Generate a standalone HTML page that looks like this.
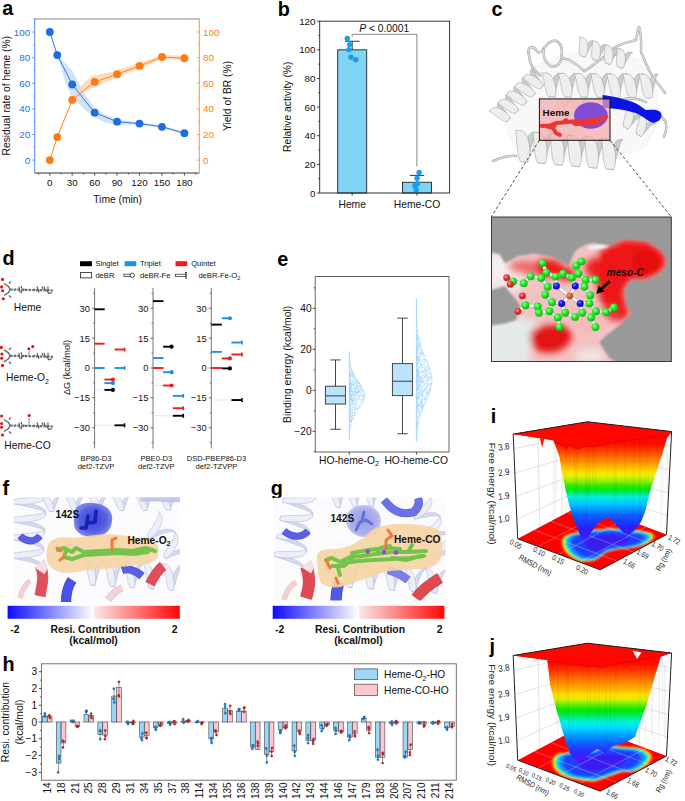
<!DOCTYPE html>
<html><head><meta charset="utf-8"><style>
html,body{margin:0;padding:0;background:#fff;}
svg{display:block;font-family:"Liberation Sans", sans-serif;}
</style></head><body>
<svg width="685" height="801" viewBox="0 0 685 801">
<text x="2.30" y="15.30" font-size="19.8" text-anchor="start" fill="#000" font-weight="bold">a</text>
<polygon points="49.80,32.00 57.28,53.78 64.76,62.74 72.23,70.43 83.45,92.21 94.67,107.58 105.88,115.27 117.10,119.75 139.54,122.31 161.97,125.51 184.40,131.92 184.40,134.48 161.97,128.07 139.54,124.87 117.10,124.87 105.88,122.95 94.67,117.19 83.45,108.86 71.49,96.05 64.76,80.68 61.02,66.59 57.28,56.34 49.80,32.00" fill="#c4d8f4" stroke="none" stroke-width="1" fill-opacity="0.75"/>
<polygon points="49.80,160.10 57.28,136.40 72.23,98.61 83.45,83.24 90.93,76.19 94.67,75.55 117.10,70.43 139.54,62.74 161.97,55.06 184.40,55.70 184.40,60.18 161.97,58.90 139.54,68.51 117.10,77.48 94.67,87.08 83.45,92.21 72.23,101.81 57.28,137.68 49.80,160.10" fill="#ffd2b0" stroke="none" stroke-width="1" fill-opacity="0.8"/>
<polyline points="49.80,32.00 57.28,55.06 72.23,84.52 94.67,112.70 117.10,121.67 139.54,123.59 161.97,126.79 184.40,133.20" fill="none" stroke="#1b6de0" stroke-width="0.9"/>
<polyline points="49.80,160.10 57.28,137.04 72.23,99.89 94.67,81.96 117.10,74.27 139.54,65.95 161.97,56.98 184.40,58.26" fill="none" stroke="#ff7a10" stroke-width="0.9"/>
<circle cx="49.80" cy="160.10" r="3.90" fill="#ff7a10" stroke="none" stroke-width="0.5"/>
<circle cx="57.28" cy="137.04" r="3.90" fill="#ff7a10" stroke="none" stroke-width="0.5"/>
<circle cx="72.23" cy="99.89" r="3.90" fill="#ff7a10" stroke="none" stroke-width="0.5"/>
<circle cx="94.67" cy="81.96" r="3.90" fill="#ff7a10" stroke="none" stroke-width="0.5"/>
<circle cx="117.10" cy="74.27" r="3.90" fill="#ff7a10" stroke="none" stroke-width="0.5"/>
<circle cx="139.54" cy="65.95" r="3.90" fill="#ff7a10" stroke="none" stroke-width="0.5"/>
<circle cx="161.97" cy="56.98" r="3.90" fill="#ff7a10" stroke="none" stroke-width="0.5"/>
<circle cx="184.40" cy="58.26" r="3.90" fill="#ff7a10" stroke="none" stroke-width="0.5"/>
<circle cx="49.80" cy="32.00" r="3.90" fill="#1b6de0" stroke="none" stroke-width="0.5"/>
<circle cx="57.28" cy="55.06" r="3.90" fill="#1b6de0" stroke="none" stroke-width="0.5"/>
<circle cx="72.23" cy="84.52" r="3.90" fill="#1b6de0" stroke="none" stroke-width="0.5"/>
<circle cx="94.67" cy="112.70" r="3.90" fill="#1b6de0" stroke="none" stroke-width="0.5"/>
<circle cx="117.10" cy="121.67" r="3.90" fill="#1b6de0" stroke="none" stroke-width="0.5"/>
<circle cx="139.54" cy="123.59" r="3.90" fill="#1b6de0" stroke="none" stroke-width="0.5"/>
<circle cx="161.97" cy="126.79" r="3.90" fill="#1b6de0" stroke="none" stroke-width="0.5"/>
<circle cx="184.40" cy="133.20" r="3.90" fill="#1b6de0" stroke="none" stroke-width="0.5"/>
<line x1="34.70" y1="19.00" x2="199.30" y2="19.00" stroke="#8a8a8a" stroke-width="1"/>
<line x1="34.70" y1="173.00" x2="199.30" y2="173.00" stroke="#333" stroke-width="1"/>
<line x1="34.70" y1="18.50" x2="34.70" y2="173.00" stroke="#5b95ea" stroke-width="1.1"/>
<line x1="199.30" y1="18.50" x2="199.30" y2="173.00" stroke="#ff9a4a" stroke-width="1.1"/>
<line x1="32.10" y1="160.10" x2="34.70" y2="160.10" stroke="#5b95ea" stroke-width="0.9"/>
<text x="30.20" y="163.60" font-size="9.8" text-anchor="end" fill="#2070e0" font-weight="normal">0</text>
<line x1="32.10" y1="134.48" x2="34.70" y2="134.48" stroke="#5b95ea" stroke-width="0.9"/>
<text x="30.20" y="137.98" font-size="9.8" text-anchor="end" fill="#2070e0" font-weight="normal">20</text>
<line x1="32.10" y1="108.86" x2="34.70" y2="108.86" stroke="#5b95ea" stroke-width="0.9"/>
<text x="30.20" y="112.36" font-size="9.8" text-anchor="end" fill="#2070e0" font-weight="normal">40</text>
<line x1="32.10" y1="83.24" x2="34.70" y2="83.24" stroke="#5b95ea" stroke-width="0.9"/>
<text x="30.20" y="86.74" font-size="9.8" text-anchor="end" fill="#2070e0" font-weight="normal">60</text>
<line x1="32.10" y1="57.62" x2="34.70" y2="57.62" stroke="#5b95ea" stroke-width="0.9"/>
<text x="30.20" y="61.12" font-size="9.8" text-anchor="end" fill="#2070e0" font-weight="normal">80</text>
<line x1="32.10" y1="32.00" x2="34.70" y2="32.00" stroke="#5b95ea" stroke-width="0.9"/>
<text x="30.20" y="35.50" font-size="9.8" text-anchor="end" fill="#2070e0" font-weight="normal">100</text>
<line x1="33.20" y1="147.29" x2="34.70" y2="147.29" stroke="#5b95ea" stroke-width="0.8"/>
<line x1="33.20" y1="121.67" x2="34.70" y2="121.67" stroke="#5b95ea" stroke-width="0.8"/>
<line x1="33.20" y1="96.05" x2="34.70" y2="96.05" stroke="#5b95ea" stroke-width="0.8"/>
<line x1="33.20" y1="70.43" x2="34.70" y2="70.43" stroke="#5b95ea" stroke-width="0.8"/>
<line x1="33.20" y1="44.81" x2="34.70" y2="44.81" stroke="#5b95ea" stroke-width="0.8"/>
<line x1="33.20" y1="19.19" x2="34.70" y2="19.19" stroke="#5b95ea" stroke-width="0.8"/>
<line x1="196.70" y1="160.10" x2="199.30" y2="160.10" stroke="#ff9a4a" stroke-width="0.9"/>
<text x="203.00" y="163.60" font-size="9.8" text-anchor="start" fill="#ff7a14" font-weight="normal">0</text>
<line x1="196.70" y1="134.48" x2="199.30" y2="134.48" stroke="#ff9a4a" stroke-width="0.9"/>
<text x="203.00" y="137.98" font-size="9.8" text-anchor="start" fill="#ff7a14" font-weight="normal">20</text>
<line x1="196.70" y1="108.86" x2="199.30" y2="108.86" stroke="#ff9a4a" stroke-width="0.9"/>
<text x="203.00" y="112.36" font-size="9.8" text-anchor="start" fill="#ff7a14" font-weight="normal">40</text>
<line x1="196.70" y1="83.24" x2="199.30" y2="83.24" stroke="#ff9a4a" stroke-width="0.9"/>
<text x="203.00" y="86.74" font-size="9.8" text-anchor="start" fill="#ff7a14" font-weight="normal">60</text>
<line x1="196.70" y1="57.62" x2="199.30" y2="57.62" stroke="#ff9a4a" stroke-width="0.9"/>
<text x="203.00" y="61.12" font-size="9.8" text-anchor="start" fill="#ff7a14" font-weight="normal">80</text>
<line x1="196.70" y1="32.00" x2="199.30" y2="32.00" stroke="#ff9a4a" stroke-width="0.9"/>
<text x="203.00" y="35.50" font-size="9.8" text-anchor="start" fill="#ff7a14" font-weight="normal">100</text>
<line x1="197.80" y1="147.29" x2="199.30" y2="147.29" stroke="#ff9a4a" stroke-width="0.8"/>
<line x1="197.80" y1="121.67" x2="199.30" y2="121.67" stroke="#ff9a4a" stroke-width="0.8"/>
<line x1="197.80" y1="96.05" x2="199.30" y2="96.05" stroke="#ff9a4a" stroke-width="0.8"/>
<line x1="197.80" y1="70.43" x2="199.30" y2="70.43" stroke="#ff9a4a" stroke-width="0.8"/>
<line x1="197.80" y1="44.81" x2="199.30" y2="44.81" stroke="#ff9a4a" stroke-width="0.8"/>
<line x1="197.80" y1="19.19" x2="199.30" y2="19.19" stroke="#ff9a4a" stroke-width="0.8"/>
<line x1="49.80" y1="173.00" x2="49.80" y2="175.60" stroke="#333" stroke-width="0.9"/>
<text x="49.80" y="186.40" font-size="9.8" text-anchor="middle" fill="#111" font-weight="normal">0</text>
<line x1="72.23" y1="173.00" x2="72.23" y2="175.60" stroke="#333" stroke-width="0.9"/>
<text x="72.23" y="186.40" font-size="9.8" text-anchor="middle" fill="#111" font-weight="normal">30</text>
<line x1="94.67" y1="173.00" x2="94.67" y2="175.60" stroke="#333" stroke-width="0.9"/>
<text x="94.67" y="186.40" font-size="9.8" text-anchor="middle" fill="#111" font-weight="normal">60</text>
<line x1="117.10" y1="173.00" x2="117.10" y2="175.60" stroke="#333" stroke-width="0.9"/>
<text x="117.10" y="186.40" font-size="9.8" text-anchor="middle" fill="#111" font-weight="normal">90</text>
<line x1="139.54" y1="173.00" x2="139.54" y2="175.60" stroke="#333" stroke-width="0.9"/>
<text x="139.54" y="186.40" font-size="9.8" text-anchor="middle" fill="#111" font-weight="normal">120</text>
<line x1="161.97" y1="173.00" x2="161.97" y2="175.60" stroke="#333" stroke-width="0.9"/>
<text x="161.97" y="186.40" font-size="9.8" text-anchor="middle" fill="#111" font-weight="normal">150</text>
<line x1="184.40" y1="173.00" x2="184.40" y2="175.60" stroke="#333" stroke-width="0.9"/>
<text x="184.40" y="186.40" font-size="9.8" text-anchor="middle" fill="#111" font-weight="normal">180</text>
<line x1="38.58" y1="173.00" x2="38.58" y2="174.60" stroke="#333" stroke-width="0.8"/>
<line x1="61.02" y1="173.00" x2="61.02" y2="174.60" stroke="#333" stroke-width="0.8"/>
<line x1="83.45" y1="173.00" x2="83.45" y2="174.60" stroke="#333" stroke-width="0.8"/>
<line x1="105.88" y1="173.00" x2="105.88" y2="174.60" stroke="#333" stroke-width="0.8"/>
<line x1="128.32" y1="173.00" x2="128.32" y2="174.60" stroke="#333" stroke-width="0.8"/>
<line x1="150.75" y1="173.00" x2="150.75" y2="174.60" stroke="#333" stroke-width="0.8"/>
<line x1="173.19" y1="173.00" x2="173.19" y2="174.60" stroke="#333" stroke-width="0.8"/>
<line x1="195.62" y1="173.00" x2="195.62" y2="174.60" stroke="#333" stroke-width="0.8"/>
<text x="117.60" y="202.60" font-size="10.3" text-anchor="middle" fill="#111" font-weight="normal">Time (min)</text>
<text x="10.30" y="95.70" font-size="10.3" text-anchor="middle" fill="#111" font-weight="normal" transform="rotate(-90 10.30 95.70)">Residual rate of heme (%)</text>
<text x="231.00" y="95.90" font-size="10.3" text-anchor="middle" fill="#111" font-weight="normal" transform="rotate(-90 231.00 95.90)">Yield of BR (%)</text>
<text x="277.80" y="16.30" font-size="19.8" text-anchor="start" fill="#000" font-weight="bold">b</text>
<rect x="337.70" y="49.83" width="29.00" height="143.17" fill="#80d5f7" stroke="#222" stroke-width="0.9"/>
<rect x="402.50" y="182.26" width="29.00" height="10.74" fill="#80d5f7" stroke="#222" stroke-width="0.9"/>
<line x1="352.20" y1="49.83" x2="352.20" y2="41.24" stroke="#222" stroke-width="0.9"/>
<line x1="345.00" y1="41.24" x2="359.60" y2="41.24" stroke="#222" stroke-width="0.9"/>
<line x1="417.00" y1="182.26" x2="417.00" y2="175.39" stroke="#222" stroke-width="0.9"/>
<line x1="409.80" y1="175.39" x2="424.20" y2="175.39" stroke="#222" stroke-width="0.9"/>
<circle cx="347.30" cy="38.50" r="2.70" fill="#1a9cf0" stroke="none" stroke-width="0.5"/>
<circle cx="349.70" cy="44.60" r="2.70" fill="#1a9cf0" stroke="none" stroke-width="0.5"/>
<circle cx="348.90" cy="49.80" r="2.70" fill="#1a9cf0" stroke="none" stroke-width="0.5"/>
<circle cx="350.90" cy="57.30" r="2.70" fill="#1a9cf0" stroke="none" stroke-width="0.5"/>
<circle cx="355.70" cy="59.70" r="2.70" fill="#1a9cf0" stroke="none" stroke-width="0.5"/>
<circle cx="419.10" cy="172.50" r="2.70" fill="#1a9cf0" stroke="none" stroke-width="0.5"/>
<circle cx="417.10" cy="178.30" r="2.70" fill="#1a9cf0" stroke="none" stroke-width="0.5"/>
<circle cx="417.40" cy="183.70" r="2.70" fill="#1a9cf0" stroke="none" stroke-width="0.5"/>
<circle cx="414.90" cy="185.70" r="2.70" fill="#1a9cf0" stroke="none" stroke-width="0.5"/>
<circle cx="416.20" cy="189.90" r="2.70" fill="#1a9cf0" stroke="none" stroke-width="0.5"/>
<path d="M352.2,36.6 L352.2,34.3 L416.9,34.3 L416.9,166.6" fill="none" stroke="#777" stroke-width="0.9"/>
<rect x="319.70" y="21.20" width="129.90" height="171.80" fill="none" stroke="#222" stroke-width="0.9"/>
<line x1="317.10" y1="193.00" x2="319.70" y2="193.00" stroke="#222" stroke-width="0.9"/>
<text x="315.50" y="196.50" font-size="9.8" text-anchor="end" fill="#111" font-weight="normal">0</text>
<line x1="317.10" y1="164.37" x2="319.70" y2="164.37" stroke="#222" stroke-width="0.9"/>
<text x="315.50" y="167.87" font-size="9.8" text-anchor="end" fill="#111" font-weight="normal">20</text>
<line x1="317.10" y1="135.73" x2="319.70" y2="135.73" stroke="#222" stroke-width="0.9"/>
<text x="315.50" y="139.23" font-size="9.8" text-anchor="end" fill="#111" font-weight="normal">40</text>
<line x1="317.10" y1="107.10" x2="319.70" y2="107.10" stroke="#222" stroke-width="0.9"/>
<text x="315.50" y="110.60" font-size="9.8" text-anchor="end" fill="#111" font-weight="normal">60</text>
<line x1="317.10" y1="78.47" x2="319.70" y2="78.47" stroke="#222" stroke-width="0.9"/>
<text x="315.50" y="81.97" font-size="9.8" text-anchor="end" fill="#111" font-weight="normal">80</text>
<line x1="317.10" y1="49.83" x2="319.70" y2="49.83" stroke="#222" stroke-width="0.9"/>
<text x="315.50" y="53.33" font-size="9.8" text-anchor="end" fill="#111" font-weight="normal">100</text>
<line x1="317.10" y1="21.20" x2="319.70" y2="21.20" stroke="#222" stroke-width="0.9"/>
<text x="315.50" y="24.70" font-size="9.8" text-anchor="end" fill="#111" font-weight="normal">120</text>
<line x1="318.20" y1="178.68" x2="319.70" y2="178.68" stroke="#222" stroke-width="0.8"/>
<line x1="318.20" y1="150.05" x2="319.70" y2="150.05" stroke="#222" stroke-width="0.8"/>
<line x1="318.20" y1="121.42" x2="319.70" y2="121.42" stroke="#222" stroke-width="0.8"/>
<line x1="318.20" y1="92.78" x2="319.70" y2="92.78" stroke="#222" stroke-width="0.8"/>
<line x1="318.20" y1="64.15" x2="319.70" y2="64.15" stroke="#222" stroke-width="0.8"/>
<line x1="318.20" y1="35.52" x2="319.70" y2="35.52" stroke="#222" stroke-width="0.8"/>
<line x1="352.20" y1="193.00" x2="352.20" y2="195.60" stroke="#222" stroke-width="0.9"/>
<line x1="417.00" y1="193.00" x2="417.00" y2="195.60" stroke="#222" stroke-width="0.9"/>
<text x="352.20" y="207.50" font-size="10.3" text-anchor="middle" fill="#111" font-weight="normal">Heme</text>
<text x="417.00" y="207.50" font-size="10.3" text-anchor="middle" fill="#111" font-weight="normal">Heme-CO</text>
<text x="384.2" y="32.0" font-size="10.3" text-anchor="middle" fill="#111"><tspan font-style="italic">P</tspan> &lt; 0.0001</text>
<text x="290.60" y="106.80" font-size="10.3" text-anchor="middle" fill="#111" font-weight="normal" transform="rotate(-90 290.60 106.80)">Relative activity (%)</text>
<text x="491.60" y="16.10" font-size="19.8" text-anchor="start" fill="#000" font-weight="bold">c</text>
<path d="M505,112 C508,85 530,62 560,55 C590,45 640,50 652,72 C662,95 662,130 645,148 C615,165 560,165 528,155 C510,148 503,130 505,112 Z" fill="#f8f8f8" stroke="none" stroke-width="1"/>
<path d="M528.8,53.6 C527,47 533,45 536,50 C538,54 541,53 544,48 C548,42 554,39 558,42 C563,46 562,54 561,58 C563,59 567,58 571,61 C576,64 580,67 584.3,71.1" fill="none" stroke="#9c9c9c" stroke-width="2.5" stroke-linecap="round" stroke-linejoin="round"/>
<path d="M528.8,53.6 C527,47 533,45 536,50 C538,54 541,53 544,48 C548,42 554,39 558,42 C563,46 562,54 561,58 C563,59 567,58 571,61 C576,64 580,67 584.3,71.1" fill="none" stroke="#dadada" stroke-width="1.6" stroke-linecap="round" stroke-linejoin="round"/>
<path d="M544,49 C543,56 545,62 549,65 C553,68 558,67 561,60" fill="none" stroke="#9c9c9c" stroke-width="2.5" stroke-linecap="round" stroke-linejoin="round"/>
<path d="M544,49 C543,56 545,62 549,65 C553,68 558,67 561,60" fill="none" stroke="#dadada" stroke-width="1.6" stroke-linecap="round" stroke-linejoin="round"/>
<path d="M584,71 C590,68 594,64 600,60 C606,55 612,52 620,56" fill="none" stroke="#9c9c9c" stroke-width="2.5" stroke-linecap="round" stroke-linejoin="round"/>
<path d="M584,71 C590,68 594,64 600,60 C606,55 612,52 620,56" fill="none" stroke="#dadada" stroke-width="1.6" stroke-linecap="round" stroke-linejoin="round"/>
<path d="M610,50 C618,44 628,42 636,40 C638,34 637,28 639,27 C642,35 641,45 641,52 C645,62 650,72 652,76 C658,84 663,90 665,93" fill="none" stroke="#9c9c9c" stroke-width="2.4" stroke-linecap="round" stroke-linejoin="round"/>
<path d="M610,50 C618,44 628,42 636,40 C638,34 637,28 639,27 C642,35 641,45 641,52 C645,62 650,72 652,76 C658,84 663,90 665,93" fill="none" stroke="#dadada" stroke-width="1.5" stroke-linecap="round" stroke-linejoin="round"/>
<path d="M528.8,53.6 C529,62 533,70 540.5,75.5" fill="none" stroke="#9c9c9c" stroke-width="2.4" stroke-linecap="round" stroke-linejoin="round"/>
<path d="M528.8,53.6 C529,62 533,70 540.5,75.5" fill="none" stroke="#dadada" stroke-width="1.5" stroke-linecap="round" stroke-linejoin="round"/>
<path d="M493,161 C500,158 508,155 516,156" fill="none" stroke="#9c9c9c" stroke-width="2.5" stroke-linecap="round" stroke-linejoin="round"/>
<path d="M493,161 C500,158 508,155 516,156" fill="none" stroke="#dadada" stroke-width="1.6" stroke-linecap="round" stroke-linejoin="round"/>
<path d="M655,112 C662,116 668,122 666,130 C665,134 664,136 664,137" fill="none" stroke="#9c9c9c" stroke-width="2.3" stroke-linecap="round" stroke-linejoin="round"/>
<path d="M655,112 C662,116 668,122 666,130 C665,134 664,136 664,137" fill="none" stroke="#dadada" stroke-width="1.4" stroke-linecap="round" stroke-linejoin="round"/>
<path d="M612,104 C620,98 634,96 646,102" fill="none" stroke="#9c9c9c" stroke-width="2.3" stroke-linecap="round" stroke-linejoin="round"/>
<path d="M612,104 C620,98 634,96 646,102" fill="none" stroke="#dadada" stroke-width="1.4" stroke-linecap="round" stroke-linejoin="round"/>
<path d="M509.6,118.8 L509.3,118.0 L508.8,116.8 L508.0,115.4 L506.9,113.8 L505.7,112.0 L504.5,110.1 L503.2,108.3 L502.0,106.5 L501.0,104.8 L500.2,103.4 L499.6,102.2 L499.4,101.4 L499.5,100.9 L500.5,100.4 L498.5,102.3 L498.0,102.5 L497.4,103.3 L497.3,104.6 L497.4,106.1 L497.9,107.8 L498.7,109.7 L499.8,111.6 L501.0,113.5 L502.3,115.4 L503.7,117.0 L504.9,118.4 L506.0,119.5 L507.0,120.3 L507.6,120.7Z" fill="#cccccc" stroke="#a6a6a6" stroke-width="0.6" stroke-linejoin="round" opacity="1.0"/><path d="M517.9,110.6 L517.6,109.8 L517.1,108.6 L516.3,107.2 L515.2,105.6 L514.0,103.8 L512.8,101.9 L511.5,100.1 L510.3,98.3 L509.3,96.6 L508.5,95.2 L507.9,94.0 L507.7,93.2 L507.8,92.7 L508.8,92.2 L506.8,94.1 L506.3,94.3 L505.7,95.1 L505.6,96.4 L505.7,97.9 L506.2,99.6 L507.0,101.5 L508.1,103.4 L509.3,105.3 L510.6,107.2 L512.0,108.8 L513.2,110.2 L514.3,111.3 L515.3,112.1 L515.9,112.5Z" fill="#cccccc" stroke="#a6a6a6" stroke-width="0.6" stroke-linejoin="round" opacity="1.0"/><path d="M526.2,102.4 L525.9,101.6 L525.4,100.4 L524.6,99.0 L523.5,97.4 L522.3,95.6 L521.1,93.7 L519.8,91.9 L518.6,90.1 L517.6,88.4 L516.8,87.0 L516.2,85.8 L516.0,85.0 L516.1,84.5 L517.1,84.0 L515.1,85.9 L514.6,86.1 L514.0,86.9 L513.9,88.2 L514.0,89.7 L514.5,91.4 L515.3,93.3 L516.4,95.2 L517.6,97.1 L518.9,99.0 L520.3,100.6 L521.5,102.0 L522.6,103.1 L523.6,103.9 L524.2,104.3Z" fill="#cccccc" stroke="#a6a6a6" stroke-width="0.6" stroke-linejoin="round" opacity="1.0"/><path d="M534.5,94.2 L534.2,93.4 L533.7,92.2 L532.9,90.8 L531.8,89.2 L530.6,87.4 L529.4,85.5 L528.1,83.7 L526.9,81.9 L525.9,80.2 L525.1,78.8 L524.5,77.6 L524.3,76.8 L524.4,76.3 L525.4,75.8 L523.4,77.7 L522.9,77.9 L522.3,78.7 L522.2,80.0 L522.3,81.5 L522.8,83.2 L523.6,85.1 L524.7,87.0 L525.9,88.9 L527.2,90.8 L528.6,92.4 L529.8,93.8 L530.9,94.9 L531.9,95.7 L532.5,96.1Z" fill="#cccccc" stroke="#a6a6a6" stroke-width="0.6" stroke-linejoin="round" opacity="1.0"/><path d="M542.8,86.0 L542.5,85.2 L542.0,84.0 L541.2,82.6 L540.1,81.0 L538.9,79.2 L537.7,77.3 L536.4,75.5 L535.2,73.7 L534.2,72.0 L533.4,70.6 L532.8,69.4 L532.6,68.6 L532.7,68.1 L531.2,69.7 L530.6,70.5 L530.5,71.8 L530.6,73.3 L531.1,75.0 L531.9,76.9 L533.0,78.8 L534.2,80.7 L535.5,82.6 L536.9,84.2 L538.1,85.6 L539.2,86.7 L540.2,87.5 L540.8,87.9Z" fill="#cccccc" stroke="#a6a6a6" stroke-width="0.6" stroke-linejoin="round" opacity="1.0"/><path d="M491.9,108.5 L493.0,107.8 L494.3,107.4 L496.0,107.5 L497.8,107.9 L499.8,108.6 L501.8,109.7 L503.7,110.9 L505.5,112.2 L507.1,113.6 L508.4,115.0 L509.4,116.3 L510.0,117.3 L510.2,118.1 L510.1,118.6 L510.4,118.0 L506.8,121.5 L507.3,121.4 L506.6,121.7 L505.7,121.6 L504.4,121.2 L502.9,120.5 L501.2,119.5 L499.3,118.3 L497.4,117.1 L495.6,115.8 L493.9,114.5 L492.3,113.3 L491.0,112.4 L490.0,111.7 L489.4,111.3 L489.1,111.3Z" fill="#eeeeee" stroke="#a6a6a6" stroke-width="0.6" stroke-linejoin="round" opacity="1.0"/><path d="M501.3,99.6 L502.6,99.2 L504.3,99.3 L506.1,99.7 L508.1,100.4 L510.1,101.5 L512.0,102.7 L513.8,104.0 L515.4,105.4 L516.7,106.8 L517.7,108.1 L518.3,109.1 L518.5,109.9 L518.4,110.4 L518.7,109.8 L515.1,113.3 L515.6,113.2 L514.9,113.5 L514.0,113.4 L512.7,113.0 L511.2,112.3 L509.5,111.3 L507.6,110.1 L505.7,108.9 L503.9,107.6 L502.2,106.3 L500.6,105.1 L499.3,104.2 L498.3,103.5 L497.7,103.1Z" fill="#eeeeee" stroke="#a6a6a6" stroke-width="0.6" stroke-linejoin="round" opacity="1.0"/><path d="M509.6,91.4 L510.9,91.0 L512.6,91.1 L514.4,91.5 L516.4,92.2 L518.4,93.3 L520.3,94.5 L522.1,95.8 L523.7,97.2 L525.0,98.6 L526.0,99.9 L526.6,100.9 L526.8,101.7 L526.7,102.2 L527.0,101.6 L523.4,105.1 L523.9,105.0 L523.2,105.3 L522.3,105.2 L521.0,104.8 L519.5,104.1 L517.8,103.1 L515.9,101.9 L514.0,100.7 L512.2,99.4 L510.5,98.1 L508.9,96.9 L507.6,96.0 L506.6,95.3 L506.0,94.9Z" fill="#eeeeee" stroke="#a6a6a6" stroke-width="0.6" stroke-linejoin="round" opacity="1.0"/><path d="M517.9,83.2 L519.2,82.8 L520.9,82.9 L522.7,83.3 L524.7,84.0 L526.7,85.1 L528.6,86.3 L530.4,87.6 L532.0,89.0 L533.3,90.4 L534.3,91.7 L534.9,92.7 L535.1,93.5 L535.0,94.0 L535.3,93.4 L531.7,96.9 L532.2,96.8 L531.5,97.1 L530.6,97.0 L529.3,96.6 L527.8,95.9 L526.1,94.9 L524.2,93.7 L522.3,92.5 L520.5,91.2 L518.8,89.9 L517.2,88.7 L515.9,87.8 L514.9,87.1 L514.3,86.7Z" fill="#eeeeee" stroke="#a6a6a6" stroke-width="0.6" stroke-linejoin="round" opacity="1.0"/><path d="M526.2,75.0 L527.5,74.6 L529.2,74.7 L531.0,75.1 L533.0,75.8 L535.0,76.9 L536.9,78.1 L538.7,79.4 L540.3,80.8 L541.6,82.2 L542.6,83.5 L543.2,84.5 L543.4,85.3 L543.3,85.8 L543.6,85.2 L540.0,88.7 L540.5,88.6 L539.8,88.9 L538.9,88.8 L537.6,88.4 L536.1,87.7 L534.4,86.7 L532.5,85.5 L530.6,84.3 L528.8,83.0 L527.1,81.7 L525.5,80.5 L524.2,79.6 L523.2,78.9 L522.6,78.5Z" fill="#eeeeee" stroke="#a6a6a6" stroke-width="0.6" stroke-linejoin="round" opacity="1.0"/>
<path d="M584.2,56.7 L584.8,56.2 L585.5,55.3 L586.3,54.1 L587.3,52.6 L588.2,50.9 L589.2,49.1 L590.3,47.3 L591.3,45.6 L592.2,44.1 L593.1,42.9 L593.9,42.0 L594.6,41.5 L595.2,41.4 L596.2,42.0 L593.4,41.2 L593.0,40.8 L591.9,40.7 L590.7,41.0 L589.4,41.8 L588.1,42.9 L586.8,44.3 L585.6,45.9 L584.5,47.7 L583.6,49.5 L582.8,51.2 L582.2,52.8 L581.8,54.2 L581.5,55.2 L581.5,55.9Z" fill="#cccccc" stroke="#a6a6a6" stroke-width="0.6" stroke-linejoin="round" opacity="1.0"/><path d="M596.7,60.5 L597.3,60.0 L598.0,59.0 L598.8,57.8 L599.8,56.3 L600.7,54.6 L601.7,52.8 L602.8,51.0 L603.8,49.4 L604.7,47.9 L605.6,46.6 L606.4,45.8 L607.1,45.3 L607.7,45.2 L608.7,45.7 L605.9,44.9 L605.5,44.6 L604.4,44.5 L603.2,44.8 L601.9,45.5 L600.6,46.6 L599.3,48.0 L598.1,49.6 L597.0,51.4 L596.1,53.2 L595.3,55.0 L594.7,56.6 L594.3,57.9 L594.0,59.0 L594.0,59.7Z" fill="#cccccc" stroke="#a6a6a6" stroke-width="0.6" stroke-linejoin="round" opacity="1.0"/><path d="M609.2,64.2 L609.8,63.7 L610.5,62.8 L611.3,61.6 L612.3,60.1 L613.2,58.4 L614.2,56.6 L615.3,54.8 L616.3,53.1 L617.2,51.6 L618.1,50.4 L618.9,49.5 L619.6,49.0 L620.2,48.9 L621.2,49.5 L618.4,48.7 L618.0,48.3 L616.9,48.2 L615.7,48.5 L614.4,49.3 L613.1,50.4 L611.8,51.8 L610.6,53.4 L609.5,55.2 L608.6,57.0 L607.8,58.7 L607.2,60.3 L606.8,61.7 L606.5,62.7 L606.5,63.4Z" fill="#cccccc" stroke="#a6a6a6" stroke-width="0.6" stroke-linejoin="round" opacity="1.0"/><path d="M621.7,68.0 L622.3,67.5 L623.0,66.5 L623.8,65.3 L624.8,63.8 L625.7,62.1 L626.7,60.3 L627.8,58.5 L628.8,56.9 L629.7,55.4 L630.6,54.1 L631.4,53.3 L632.1,52.8 L632.7,52.7 L630.5,52.1 L629.4,52.0 L628.2,52.3 L626.9,53.0 L625.6,54.1 L624.3,55.5 L623.1,57.1 L622.0,58.9 L621.1,60.7 L620.3,62.5 L619.7,64.1 L619.3,65.4 L619.0,66.5 L619.0,67.2Z" fill="#cccccc" stroke="#a6a6a6" stroke-width="0.6" stroke-linejoin="round" opacity="1.0"/><path d="M583.5,38.0 L584.8,38.6 L585.8,39.6 L586.7,41.0 L587.4,42.7 L587.8,44.6 L588.0,46.6 L587.9,48.7 L587.7,50.7 L587.3,52.6 L586.8,54.2 L586.2,55.5 L585.6,56.5 L585.1,57.0 L584.6,57.1 L585.3,57.1 L580.4,55.6 L580.7,55.9 L580.1,55.5 L579.7,54.7 L579.4,53.5 L579.2,51.9 L579.2,50.1 L579.2,48.2 L579.3,46.1 L579.5,44.0 L579.6,42.1 L579.8,40.4 L579.9,38.9 L579.9,37.8 L579.8,37.1 L579.6,36.8Z" fill="#eeeeee" stroke="#a6a6a6" stroke-width="0.6" stroke-linejoin="round" opacity="1.0"/><path d="M597.3,42.3 L598.3,43.3 L599.2,44.7 L599.9,46.4 L600.3,48.3 L600.5,50.3 L600.4,52.4 L600.2,54.5 L599.8,56.3 L599.3,58.0 L598.7,59.3 L598.1,60.2 L597.6,60.7 L597.1,60.8 L597.8,60.8 L592.9,59.3 L593.2,59.7 L592.6,59.3 L592.2,58.4 L591.9,57.2 L591.7,55.7 L591.7,53.9 L591.7,51.9 L591.8,49.8 L592.0,47.8 L592.1,45.9 L592.3,44.1 L592.4,42.7 L592.4,41.6 L592.3,40.8Z" fill="#eeeeee" stroke="#a6a6a6" stroke-width="0.6" stroke-linejoin="round" opacity="1.0"/><path d="M609.8,46.1 L610.8,47.1 L611.7,48.5 L612.4,50.2 L612.8,52.1 L613.0,54.1 L612.9,56.2 L612.7,58.2 L612.3,60.1 L611.8,61.7 L611.2,63.0 L610.6,64.0 L610.1,64.5 L609.6,64.6 L610.3,64.6 L605.4,63.1 L605.7,63.4 L605.1,63.0 L604.7,62.2 L604.4,61.0 L604.2,59.4 L604.2,57.6 L604.2,55.7 L604.3,53.6 L604.5,51.5 L604.6,49.6 L604.8,47.9 L604.9,46.4 L604.9,45.3 L604.8,44.6Z" fill="#eeeeee" stroke="#a6a6a6" stroke-width="0.6" stroke-linejoin="round" opacity="1.0"/><path d="M622.3,49.8 L623.3,50.8 L624.2,52.2 L624.9,53.9 L625.3,55.8 L625.5,57.8 L625.4,59.9 L625.2,62.0 L624.8,63.8 L624.3,65.5 L623.7,66.8 L623.1,67.7 L622.6,68.2 L622.1,68.3 L622.8,68.3 L617.9,66.8 L618.2,67.2 L617.6,66.8 L617.2,65.9 L616.9,64.7 L616.7,63.2 L616.7,61.4 L616.7,59.4 L616.8,57.3 L617.0,55.3 L617.1,53.4 L617.3,51.6 L617.4,50.2 L617.4,49.1 L617.3,48.3Z" fill="#eeeeee" stroke="#a6a6a6" stroke-width="0.6" stroke-linejoin="round" opacity="1.0"/>
<path d="M553.8,96.8 L554.3,95.9 L554.8,94.5 L555.3,92.6 L555.9,90.3 L556.5,87.8 L557.1,85.1 L557.7,82.5 L558.3,79.9 L558.9,77.6 L559.6,75.8 L560.2,74.3 L560.9,73.4 L561.5,73.2 L562.9,73.5 L559.6,73.4 L558.9,73.1 L557.6,73.4 L556.3,74.3 L555.0,75.7 L553.8,77.6 L552.8,79.9 L552.0,82.4 L551.3,85.1 L550.8,87.7 L550.4,90.3 L550.3,92.5 L550.2,94.4 L550.3,95.9 L550.5,96.8Z" fill="#cccccc" stroke="#a6a6a6" stroke-width="0.6" stroke-linejoin="round" opacity="1.0"/><path d="M569.9,96.9 L570.4,96.0 L570.9,94.6 L571.5,92.7 L572.0,90.5 L572.6,87.9 L573.2,85.3 L573.8,82.6 L574.4,80.1 L575.1,77.8 L575.7,75.9 L576.4,74.5 L577.0,73.6 L577.7,73.3 L579.0,73.6 L575.7,73.6 L575.1,73.3 L573.7,73.6 L572.4,74.4 L571.1,75.9 L570.0,77.7 L569.0,80.0 L568.1,82.5 L567.4,85.2 L566.9,87.9 L566.6,90.4 L566.4,92.7 L566.4,94.6 L566.4,96.0 L566.6,96.9Z" fill="#cccccc" stroke="#a6a6a6" stroke-width="0.6" stroke-linejoin="round" opacity="1.0"/><path d="M586.1,97.1 L586.6,96.2 L587.1,94.8 L587.6,92.9 L588.2,90.6 L588.8,88.1 L589.3,85.4 L590.0,82.7 L590.6,80.2 L591.2,77.9 L591.9,76.0 L592.5,74.6 L593.2,73.7 L593.8,73.4 L595.2,73.8 L591.9,73.7 L591.2,73.4 L589.9,73.7 L588.5,74.6 L587.3,76.0 L586.1,77.9 L585.1,80.2 L584.3,82.7 L583.6,85.4 L583.1,88.0 L582.7,90.5 L582.5,92.8 L582.5,94.7 L582.6,96.2 L582.7,97.0Z" fill="#cccccc" stroke="#a6a6a6" stroke-width="0.6" stroke-linejoin="round" opacity="1.0"/><path d="M602.2,97.2 L602.7,96.3 L603.2,94.9 L603.8,93.0 L604.3,90.7 L604.9,88.2 L605.5,85.5 L606.1,82.9 L606.7,80.3 L607.4,78.1 L608.0,76.2 L608.7,74.8 L609.3,73.9 L610.0,73.6 L611.3,73.9 L608.0,73.9 L607.4,73.6 L606.0,73.8 L604.7,74.7 L603.4,76.1 L602.3,78.0 L601.3,80.3 L600.4,82.8 L599.7,85.5 L599.2,88.2 L598.9,90.7 L598.7,93.0 L598.6,94.9 L598.7,96.3 L598.9,97.2Z" fill="#cccccc" stroke="#a6a6a6" stroke-width="0.6" stroke-linejoin="round" opacity="1.0"/><path d="M617.8,97.7 L618.3,97.4 L618.8,96.5 L619.4,95.0 L619.9,93.2 L620.5,90.9 L621.0,88.4 L621.6,85.7 L622.2,83.0 L622.9,80.5 L623.5,78.2 L624.1,76.3 L624.8,74.9 L625.5,74.0 L626.1,73.7 L627.5,74.0 L624.2,74.0 L623.5,73.7 L622.2,74.0 L620.8,74.9 L619.6,76.3 L618.4,78.2 L617.4,80.4 L616.5,83.0 L615.9,85.6 L615.3,88.3 L615.0,90.8 L614.8,93.1 L614.8,95.0 L614.9,96.4 L615.0,97.3 L615.2,97.6Z" fill="#cccccc" stroke="#a6a6a6" stroke-width="0.6" stroke-linejoin="round" opacity="1.0"/><path d="M634.5,97.5 L635.0,96.6 L635.5,95.2 L636.1,93.3 L636.6,91.0 L637.2,88.5 L637.8,85.8 L638.4,83.2 L639.0,80.6 L639.6,78.4 L640.3,76.5 L640.9,75.0 L641.6,74.2 L642.3,73.9 L643.6,74.2 L640.3,74.2 L639.7,73.8 L638.3,74.1 L637.0,75.0 L635.7,76.4 L634.6,78.3 L633.5,80.6 L632.7,83.1 L632.0,85.8 L631.5,88.4 L631.1,91.0 L631.0,93.3 L630.9,95.2 L631.0,96.6 L631.2,97.5Z" fill="#cccccc" stroke="#a6a6a6" stroke-width="0.6" stroke-linejoin="round" opacity="1.0"/><path d="M650.1,97.9 L650.6,97.6 L651.1,96.8 L651.7,95.3 L652.2,93.4 L652.7,91.2 L653.3,88.6 L653.9,86.0 L654.5,83.3 L655.1,80.8 L655.8,78.5 L656.4,76.6 L657.1,75.2 L657.7,74.3 L658.4,74.0 L655.8,74.0 L654.4,74.3 L653.1,75.2 L651.9,76.6 L650.7,78.5 L649.7,80.7 L648.8,83.3 L648.1,85.9 L647.6,88.6 L647.3,91.1 L647.1,93.4 L647.1,95.3 L647.2,96.7 L647.3,97.6 L647.5,97.9Z" fill="#cccccc" stroke="#a6a6a6" stroke-width="0.6" stroke-linejoin="round" opacity="1.0"/><path d="M546.5,73.0 L548.1,73.3 L549.7,74.2 L551.2,75.7 L552.5,77.6 L553.6,79.9 L554.5,82.4 L555.2,85.1 L555.7,87.8 L555.9,90.3 L555.8,92.6 L555.6,94.5 L555.3,95.9 L554.8,96.8 L554.3,97.1 L555.1,96.8 L549.1,96.7 L549.6,97.1 L548.8,96.7 L548.0,95.8 L547.3,94.4 L546.6,92.5 L545.9,90.2 L545.3,87.7 L544.7,85.0 L544.2,82.3 L543.7,79.8 L543.3,77.5 L542.9,75.6 L542.5,74.2 L542.1,73.3 L541.7,73.0Z" fill="#eeeeee" stroke="#a6a6a6" stroke-width="0.6" stroke-linejoin="round" opacity="1.0"/><path d="M564.3,73.5 L565.8,74.4 L567.3,75.8 L568.6,77.7 L569.8,80.0 L570.7,82.6 L571.4,85.2 L571.8,87.9 L572.0,90.5 L572.0,92.7 L571.8,94.6 L571.4,96.1 L571.0,96.9 L570.5,97.2 L571.3,96.9 L565.3,96.9 L565.7,97.2 L565.0,96.9 L564.2,96.0 L563.4,94.6 L562.7,92.6 L562.1,90.4 L561.4,87.8 L560.9,85.1 L560.3,82.5 L559.9,79.9 L559.4,77.7 L559.0,75.8 L558.6,74.3 L558.2,73.4Z" fill="#eeeeee" stroke="#a6a6a6" stroke-width="0.6" stroke-linejoin="round" opacity="1.0"/><path d="M580.4,73.6 L582.0,74.5 L583.5,76.0 L584.8,77.9 L585.9,80.2 L586.8,82.7 L587.5,85.4 L587.9,88.1 L588.1,90.6 L588.1,92.9 L587.9,94.8 L587.6,96.2 L587.1,97.1 L586.6,97.4 L587.4,97.1 L581.4,97.0 L581.9,97.3 L581.1,97.0 L580.3,96.1 L579.6,94.7 L578.9,92.8 L578.2,90.5 L577.6,88.0 L577.0,85.3 L576.5,82.6 L576.0,80.1 L575.6,77.8 L575.1,75.9 L574.8,74.5 L574.4,73.6Z" fill="#eeeeee" stroke="#a6a6a6" stroke-width="0.6" stroke-linejoin="round" opacity="1.0"/><path d="M596.5,73.8 L598.1,74.7 L599.6,76.1 L600.9,78.0 L602.1,80.3 L603.0,82.9 L603.7,85.5 L604.1,88.2 L604.3,90.7 L604.3,93.0 L604.1,94.9 L603.7,96.3 L603.3,97.2 L602.8,97.5 L603.5,97.2 L597.5,97.2 L598.0,97.5 L597.2,97.2 L596.5,96.3 L595.7,94.8 L595.0,92.9 L594.4,90.7 L593.7,88.1 L593.2,85.4 L592.6,82.8 L592.1,80.2 L591.7,77.9 L591.3,76.0 L590.9,74.6 L590.5,73.7Z" fill="#eeeeee" stroke="#a6a6a6" stroke-width="0.6" stroke-linejoin="round" opacity="1.0"/><path d="M612.7,73.9 L614.3,74.8 L615.8,76.3 L617.1,78.2 L618.2,80.4 L619.1,83.0 L619.8,85.7 L620.2,88.3 L620.4,90.9 L620.4,93.2 L620.2,95.1 L619.8,96.5 L619.4,97.4 L618.9,97.7 L614.2,97.6 L613.4,97.3 L612.6,96.4 L611.9,95.0 L611.2,93.1 L610.5,90.8 L609.9,88.3 L609.3,85.6 L608.8,82.9 L608.3,80.4 L607.8,78.1 L607.4,76.2 L607.0,74.7 L606.7,73.9Z" fill="#eeeeee" stroke="#a6a6a6" stroke-width="0.6" stroke-linejoin="round" opacity="1.0"/><path d="M628.8,74.1 L630.4,75.0 L631.9,76.4 L633.2,78.3 L634.4,80.6 L635.3,83.1 L635.9,85.8 L636.4,88.5 L636.6,91.0 L636.5,93.3 L636.3,95.2 L636.0,96.6 L635.5,97.5 L635.0,97.8 L635.8,97.5 L629.8,97.5 L630.3,97.8 L629.5,97.5 L628.8,96.6 L628.0,95.1 L627.3,93.2 L626.6,90.9 L626.0,88.4 L625.4,85.7 L624.9,83.0 L624.4,80.5 L624.0,78.2 L623.6,76.3 L623.2,74.9 L622.8,74.0Z" fill="#eeeeee" stroke="#a6a6a6" stroke-width="0.6" stroke-linejoin="round" opacity="1.0"/><path d="M645.0,74.2 L646.6,75.1 L648.0,76.5 L649.4,78.5 L650.5,80.7 L651.4,83.3 L652.1,86.0 L652.5,88.6 L652.7,91.2 L652.7,93.4 L652.5,95.3 L652.1,96.8 L651.7,97.7 L651.2,97.9 L646.5,97.9 L645.7,97.6 L644.9,96.7 L644.2,95.3 L643.5,93.4 L642.8,91.1 L642.2,88.5 L641.6,85.9 L641.1,83.2 L640.6,80.6 L640.1,78.4 L639.7,76.5 L639.3,75.0 L639.0,74.1Z" fill="#eeeeee" stroke="#a6a6a6" stroke-width="0.6" stroke-linejoin="round" opacity="1.0"/>
<path d="M526.4,162.0 L527.1,160.9 L527.8,159.1 L528.6,156.7 L529.4,153.8 L530.3,150.6 L531.2,147.2 L532.2,143.9 L533.1,140.7 L534.0,137.8 L534.8,135.4 L535.6,133.6 L536.4,132.5 L537.1,132.2 L538.5,132.7 L534.6,132.4 L534.0,131.9 L532.5,132.2 L530.9,133.2 L529.4,134.9 L527.9,137.3 L526.6,140.1 L525.4,143.3 L524.4,146.6 L523.6,150.0 L523.0,153.3 L522.6,156.2 L522.4,158.6 L522.3,160.5 L522.5,161.6Z" fill="#cccccc" stroke="#a6a6a6" stroke-width="0.6" stroke-linejoin="round" opacity="1.0"/><path d="M543.5,163.5 L544.2,162.4 L545.0,160.6 L545.8,158.2 L546.6,155.3 L547.5,152.1 L548.4,148.7 L549.3,145.4 L550.2,142.2 L551.1,139.3 L552.0,136.9 L552.8,135.1 L553.5,134.0 L554.2,133.7 L555.7,134.2 L551.8,133.9 L551.1,133.4 L549.6,133.7 L548.1,134.7 L546.5,136.4 L545.1,138.8 L543.8,141.6 L542.6,144.8 L541.6,148.1 L540.7,151.5 L540.1,154.8 L539.7,157.7 L539.5,160.1 L539.5,162.0 L539.6,163.1Z" fill="#cccccc" stroke="#a6a6a6" stroke-width="0.6" stroke-linejoin="round" opacity="1.0"/><path d="M560.7,165.0 L561.4,163.9 L562.1,162.1 L562.9,159.7 L563.8,156.8 L564.7,153.6 L565.6,150.2 L566.5,146.9 L567.4,143.7 L568.3,140.8 L569.1,138.4 L570.0,136.6 L570.7,135.5 L571.4,135.2 L572.8,135.7 L568.9,135.4 L568.3,134.9 L566.8,135.2 L565.2,136.2 L563.7,137.9 L562.3,140.3 L560.9,143.1 L559.7,146.3 L558.7,149.6 L557.9,153.0 L557.3,156.3 L556.9,159.2 L556.7,161.6 L556.7,163.5 L556.8,164.6Z" fill="#cccccc" stroke="#a6a6a6" stroke-width="0.6" stroke-linejoin="round" opacity="1.0"/><path d="M577.9,166.5 L578.6,165.4 L579.3,163.6 L580.1,161.2 L580.9,158.3 L581.8,155.1 L582.7,151.7 L583.7,148.4 L584.6,145.2 L585.5,142.3 L586.3,139.9 L587.1,138.1 L587.9,137.0 L588.6,136.7 L590.0,137.2 L586.1,136.9 L585.5,136.4 L584.0,136.7 L582.4,137.7 L580.9,139.4 L579.4,141.8 L578.1,144.6 L576.9,147.8 L575.9,151.1 L575.1,154.5 L574.5,157.8 L574.1,160.7 L573.9,163.1 L573.8,165.0 L574.0,166.1Z" fill="#cccccc" stroke="#a6a6a6" stroke-width="0.6" stroke-linejoin="round" opacity="1.0"/><path d="M595.0,168.0 L595.7,166.9 L596.5,165.1 L597.3,162.7 L598.1,159.8 L599.0,156.6 L599.9,153.2 L600.8,149.9 L601.7,146.7 L602.6,143.8 L603.5,141.4 L604.3,139.6 L605.0,138.5 L605.7,138.2 L607.2,138.7 L603.3,138.4 L602.6,137.9 L601.1,138.2 L599.6,139.2 L598.0,140.9 L596.6,143.3 L595.3,146.1 L594.1,149.3 L593.1,152.6 L592.2,156.0 L591.6,159.3 L591.2,162.2 L591.0,164.6 L591.0,166.5 L591.1,167.6Z" fill="#cccccc" stroke="#a6a6a6" stroke-width="0.6" stroke-linejoin="round" opacity="1.0"/><path d="M612.2,169.5 L612.9,168.4 L613.6,166.6 L614.4,164.2 L615.3,161.3 L616.2,158.1 L617.1,154.7 L618.0,151.4 L618.9,148.2 L619.8,145.3 L620.6,142.9 L621.5,141.1 L622.2,140.0 L622.9,139.7 L619.8,139.4 L618.3,139.7 L616.7,140.7 L615.2,142.4 L613.8,144.8 L612.4,147.6 L611.2,150.8 L610.2,154.1 L609.4,157.5 L608.8,160.8 L608.4,163.7 L608.2,166.1 L608.2,168.0 L608.3,169.1Z" fill="#cccccc" stroke="#a6a6a6" stroke-width="0.6" stroke-linejoin="round" opacity="1.0"/><path d="M521.2,130.8 L523.0,131.4 L524.6,132.6 L526.1,134.6 L527.4,137.2 L528.4,140.2 L529.1,143.6 L529.6,147.1 L529.8,150.6 L529.7,153.9 L529.4,156.8 L528.9,159.2 L528.3,161.0 L527.7,162.1 L527.0,162.4 L528.0,162.1 L520.9,161.5 L521.4,161.9 L520.5,161.5 L519.7,160.3 L519.0,158.3 L518.4,155.8 L517.9,152.8 L517.5,149.5 L517.1,146.0 L516.8,142.5 L516.6,139.2 L516.4,136.2 L516.2,133.8 L516.0,131.9 L515.8,130.7 L515.5,130.3Z" fill="#eeeeee" stroke="#a6a6a6" stroke-width="0.6" stroke-linejoin="round" opacity="1.0"/><path d="M540.1,132.9 L541.8,134.1 L543.3,136.1 L544.6,138.7 L545.6,141.7 L546.3,145.1 L546.7,148.6 L546.9,152.1 L546.8,155.4 L546.5,158.3 L546.1,160.7 L545.5,162.5 L544.8,163.6 L544.2,163.9 L545.2,163.6 L538.0,163.0 L538.6,163.4 L537.7,163.0 L536.9,161.8 L536.2,159.8 L535.6,157.3 L535.1,154.3 L534.6,151.0 L534.3,147.5 L534.0,144.0 L533.8,140.7 L533.6,137.7 L533.4,135.3 L533.2,133.4 L533.0,132.2Z" fill="#eeeeee" stroke="#a6a6a6" stroke-width="0.6" stroke-linejoin="round" opacity="1.0"/><path d="M557.3,134.4 L559.0,135.6 L560.4,137.6 L561.7,140.2 L562.7,143.2 L563.5,146.6 L563.9,150.1 L564.1,153.6 L564.0,156.9 L563.7,159.8 L563.2,162.2 L562.7,164.0 L562.0,165.1 L561.4,165.4 L562.3,165.1 L555.2,164.5 L555.8,164.9 L554.9,164.5 L554.1,163.3 L553.4,161.3 L552.8,158.8 L552.2,155.8 L551.8,152.5 L551.5,149.0 L551.2,145.5 L551.0,142.2 L550.8,139.2 L550.6,136.8 L550.4,134.9 L550.2,133.7Z" fill="#eeeeee" stroke="#a6a6a6" stroke-width="0.6" stroke-linejoin="round" opacity="1.0"/><path d="M574.5,135.9 L576.1,137.1 L577.6,139.1 L578.9,141.7 L579.9,144.7 L580.6,148.1 L581.1,151.6 L581.3,155.1 L581.2,158.4 L580.9,161.3 L580.4,163.7 L579.8,165.5 L579.2,166.6 L578.5,166.9 L579.5,166.6 L572.4,166.0 L572.9,166.4 L572.0,166.0 L571.2,164.8 L570.5,162.8 L569.9,160.3 L569.4,157.3 L569.0,154.0 L568.6,150.5 L568.3,147.0 L568.1,143.7 L567.9,140.7 L567.7,138.3 L567.5,136.4 L567.3,135.2Z" fill="#eeeeee" stroke="#a6a6a6" stroke-width="0.6" stroke-linejoin="round" opacity="1.0"/><path d="M591.6,137.4 L593.3,138.6 L594.8,140.6 L596.1,143.2 L597.1,146.2 L597.8,149.6 L598.2,153.1 L598.4,156.6 L598.3,159.9 L598.0,162.8 L597.6,165.2 L597.0,167.0 L596.3,168.1 L595.7,168.4 L596.7,168.1 L589.5,167.5 L590.1,167.9 L589.2,167.5 L588.4,166.3 L587.7,164.3 L587.1,161.8 L586.6,158.8 L586.1,155.5 L585.8,152.0 L585.5,148.5 L585.3,145.2 L585.1,142.2 L584.9,139.8 L584.7,137.9 L584.5,136.7Z" fill="#eeeeee" stroke="#a6a6a6" stroke-width="0.6" stroke-linejoin="round" opacity="1.0"/><path d="M608.8,138.9 L610.5,140.1 L611.9,142.1 L613.2,144.7 L614.2,147.7 L615.0,151.1 L615.4,154.6 L615.6,158.1 L615.5,161.4 L615.2,164.3 L614.7,166.7 L614.2,168.5 L613.5,169.6 L612.9,169.9 L613.8,169.6 L606.7,169.0 L607.3,169.4 L606.4,169.0 L605.6,167.8 L604.9,165.8 L604.3,163.3 L603.7,160.3 L603.3,157.0 L603.0,153.5 L602.7,150.0 L602.5,146.7 L602.3,143.7 L602.1,141.3 L601.9,139.4 L601.7,138.2Z" fill="#eeeeee" stroke="#a6a6a6" stroke-width="0.6" stroke-linejoin="round" opacity="1.0"/>
<path d="M627.2,128.5 L628.0,128.2 L628.9,127.4 L630.1,126.3 L631.4,125.0 L632.8,123.5 L634.3,122.0 L635.9,120.4 L637.4,118.9 L638.8,117.7 L640.0,116.7 L641.1,116.0 L642.0,115.7 L642.7,115.8 L643.7,116.7 L641.2,115.2 L640.8,114.7 L639.6,114.3 L638.2,114.3 L636.6,114.7 L635.0,115.5 L633.3,116.6 L631.6,118.0 L630.0,119.5 L628.6,121.1 L627.3,122.7 L626.3,124.2 L625.5,125.4 L625.0,126.5 L624.8,127.1Z" fill="#cccccc" stroke="#a6a6a6" stroke-width="0.6" stroke-linejoin="round" opacity="1.0"/><path d="M640.2,136.0 L641.0,135.7 L641.9,134.9 L643.1,133.8 L644.4,132.5 L645.8,131.0 L647.3,129.5 L648.9,127.9 L650.4,126.4 L651.8,125.2 L653.0,124.2 L654.1,123.5 L655.0,123.2 L655.7,123.3 L653.8,122.2 L652.6,121.8 L651.2,121.8 L649.6,122.2 L648.0,123.0 L646.3,124.1 L644.6,125.5 L643.0,127.0 L641.6,128.6 L640.3,130.2 L639.3,131.7 L638.5,132.9 L638.0,134.0 L637.8,134.6Z" fill="#cccccc" stroke="#a6a6a6" stroke-width="0.6" stroke-linejoin="round" opacity="1.0"/><path d="M630.5,108.8 L631.7,109.7 L632.6,111.1 L633.2,112.7 L633.5,114.6 L633.5,116.7 L633.2,118.9 L632.7,121.0 L632.0,123.1 L631.2,124.9 L630.3,126.5 L629.5,127.7 L628.7,128.6 L628.0,129.0 L627.5,129.0 L628.2,129.1 L623.8,126.6 L624.0,127.0 L623.5,126.4 L623.3,125.5 L623.3,124.2 L623.5,122.5 L623.8,120.7 L624.3,118.6 L624.9,116.5 L625.5,114.4 L626.1,112.5 L626.6,110.7 L627.0,109.1 L627.2,108.0 L627.2,107.2 L627.0,106.8Z" fill="#eeeeee" stroke="#a6a6a6" stroke-width="0.6" stroke-linejoin="round" opacity="1.0"/><path d="M644.7,117.2 L645.6,118.6 L646.2,120.2 L646.5,122.1 L646.5,124.2 L646.2,126.4 L645.7,128.5 L645.0,130.6 L644.2,132.4 L643.3,134.0 L642.5,135.2 L641.7,136.1 L641.0,136.5 L640.5,136.5 L641.2,136.6 L636.8,134.1 L637.0,134.5 L636.5,133.9 L636.3,133.0 L636.3,131.7 L636.5,130.0 L636.8,128.2 L637.3,126.1 L637.9,124.0 L638.5,121.9 L639.1,120.0 L639.6,118.2 L640.0,116.6 L640.2,115.5 L640.2,114.7Z" fill="#eeeeee" stroke="#a6a6a6" stroke-width="0.6" stroke-linejoin="round" opacity="1.0"/>
<path d="M564.0,113.2 L564.4,112.7 L564.8,111.9 L565.2,110.8 L565.7,109.5 L566.2,108.0 L566.8,106.5 L567.4,105.0 L568.0,103.5 L568.7,102.2 L569.4,101.1 L570.2,100.3 L570.9,99.8 L571.7,99.7 L572.8,99.9 L571.0,99.9 L570.3,99.6 L569.2,99.8 L568.1,100.2 L567.0,101.0 L566.1,102.1 L565.2,103.4 L564.4,104.8 L563.7,106.4 L563.2,107.9 L562.8,109.3 L562.5,110.7 L562.4,111.8 L562.3,112.6 L562.3,113.1Z" fill="#cccccc" stroke="#a6a6a6" stroke-width="0.6" stroke-linejoin="round" opacity="0.5"/><path d="M578.7,113.9 L579.0,113.4 L579.4,112.5 L579.9,111.5 L580.3,110.1 L580.8,108.7 L581.4,107.2 L582.0,105.6 L582.7,104.2 L583.4,102.9 L584.1,101.8 L584.8,101.0 L585.6,100.5 L586.3,100.4 L587.4,100.6 L585.7,100.5 L585.0,100.3 L583.9,100.4 L582.8,100.9 L581.7,101.7 L580.7,102.8 L579.8,104.0 L579.1,105.5 L578.4,107.0 L577.9,108.6 L577.5,110.0 L577.2,111.3 L577.0,112.4 L577.0,113.3 L577.0,113.8Z" fill="#cccccc" stroke="#a6a6a6" stroke-width="0.6" stroke-linejoin="round" opacity="0.5"/><path d="M593.4,114.5 L593.7,114.0 L594.1,113.2 L594.5,112.1 L595.0,110.8 L595.5,109.4 L596.1,107.8 L596.7,106.3 L597.4,104.8 L598.1,103.5 L598.8,102.5 L599.5,101.7 L600.3,101.2 L601.0,101.0 L599.6,101.0 L598.5,101.1 L597.4,101.6 L596.4,102.4 L595.4,103.4 L594.5,104.7 L593.7,106.2 L593.1,107.7 L592.5,109.2 L592.1,110.7 L591.9,112.0 L591.7,113.1 L591.6,113.9 L591.6,114.5Z" fill="#cccccc" stroke="#a6a6a6" stroke-width="0.6" stroke-linejoin="round" opacity="0.5"/><path d="M557.6,99.1 L558.8,99.3 L560.0,99.9 L561.1,100.8 L562.1,101.9 L562.9,103.3 L563.6,104.8 L564.2,106.4 L564.5,107.9 L564.8,109.4 L564.8,110.8 L564.8,111.9 L564.7,112.7 L564.5,113.2 L564.3,113.4 L564.7,113.2 L561.6,113.1 L561.8,113.3 L561.3,113.1 L560.9,112.5 L560.4,111.7 L560.0,110.6 L559.6,109.2 L559.1,107.7 L558.7,106.1 L558.2,104.5 L557.7,103.0 L557.3,101.7 L556.7,100.6 L556.2,99.7 L555.7,99.2 L555.1,99.0Z" fill="#eeeeee" stroke="#a6a6a6" stroke-width="0.6" stroke-linejoin="round" opacity="0.5"/><path d="M573.5,100.0 L574.7,100.5 L575.8,101.4 L576.8,102.6 L577.6,103.9 L578.3,105.5 L578.8,107.0 L579.2,108.6 L579.4,110.1 L579.5,111.4 L579.5,112.5 L579.3,113.4 L579.1,113.9 L578.9,114.0 L579.4,113.9 L576.2,113.8 L576.4,113.9 L576.0,113.7 L575.5,113.2 L575.1,112.3 L574.7,111.2 L574.2,109.9 L573.8,108.4 L573.3,106.8 L572.9,105.2 L572.4,103.7 L571.9,102.4 L571.4,101.2 L570.9,100.4 L570.3,99.8Z" fill="#eeeeee" stroke="#a6a6a6" stroke-width="0.6" stroke-linejoin="round" opacity="0.5"/><path d="M588.1,100.6 L589.3,101.2 L590.4,102.1 L591.4,103.2 L592.3,104.6 L593.0,106.1 L593.5,107.7 L593.9,109.3 L594.1,110.8 L594.2,112.1 L594.1,113.2 L594.0,114.0 L593.8,114.5 L593.6,114.7 L594.1,114.6 L590.9,114.4 L591.1,114.6 L590.7,114.4 L590.2,113.9 L589.8,113.0 L589.3,111.9 L588.9,110.5 L588.5,109.0 L588.0,107.5 L587.6,105.9 L587.1,104.4 L586.6,103.0 L586.1,101.9 L585.5,101.0 L585.0,100.5Z" fill="#eeeeee" stroke="#a6a6a6" stroke-width="0.6" stroke-linejoin="round" opacity="0.5"/>
<path d="M602.6,95.1 C612,96 622,99 629.2,100.8 C637,103 641,107 646,110 C650,110 653,109.5 656,110 C660,111 662,113 661.5,116 C661,120 657,123 652,122.6 C648,121 645,118 642,116.5 C636,112 626,110 612,108.5 C607,108 604,108 602.6,107 Z" fill="#0a14e6" stroke="none" stroke-width="1"/>
<rect x="539.40" y="98.90" width="70.60" height="41.40" fill="#f4a9a9" stroke="none" stroke-width="1" fill-opacity="0.72"/>
<ellipse cx="590.8" cy="115.5" rx="16.8" ry="13.2" fill="#7440d4" opacity="0.9"/>
<path d="M541.5,126 L550,125.5 L556,123 L562,122.5 L572,121.5 L582,121 L594,120 L601,119 L606.5,117 M556,123 L553,128 L556,133 L560,135 M553,128 L548,127 M562,122.5 L566,120 M572,121.5 L575,124 L588,123.5 L600,122" fill="none" stroke="#ef3434" stroke-width="3.8" stroke-linecap="round" stroke-linejoin="round"/>
<rect x="539.40" y="98.90" width="70.60" height="41.40" fill="none" stroke="#111" stroke-width="1.0"/>
<text x="542.60" y="115.80" font-size="9.9" text-anchor="start" fill="#111" font-weight="bold">Heme</text>
<line x1="539.40" y1="140.30" x2="491.30" y2="216.70" stroke="#222" stroke-width="0.8" stroke-dasharray="3,2.2"/>
<line x1="610.00" y1="140.30" x2="671.20" y2="216.70" stroke="#222" stroke-width="0.8" stroke-dasharray="3,2.2"/>
<defs><clipPath id="insc"><rect x="491.5" y="217" width="179.8" height="144.5"/></clipPath><filter id="bl1" x="-10%" y="-10%" width="120%" height="120%"><feGaussianBlur stdDeviation="0.9"/></filter><filter id="bl3" x="-30%" y="-30%" width="160%" height="160%"><feGaussianBlur stdDeviation="3"/></filter><filter id="bl2" x="-30%" y="-30%" width="160%" height="160%"><feGaussianBlur stdDeviation="1.8"/></filter></defs>
<rect x="491.50" y="217.00" width="179.80" height="144.50" fill="#999999" stroke="none" stroke-width="1"/>
<g clip-path="url(#insc)">
<clipPath id="silc"><path d="M486,252.5 L491.5,252.5 L499.4,254.3 L505,263.7 L518,256.2 L533,253.4 L551.8,256.2 L568.7,265.6 L574.3,252.5 L578,248.7 L587.4,244 L593.7,243.1 L608.7,245.9 L623.7,239.3 L646.2,241.2 L661.1,250.6 L666.8,260 L663,271.2 L646.2,280.5 L631.2,279.6 L623.7,289.9 L625.6,303 L631.2,314.3 L621.8,323.6 L606.8,334.9 L599.3,342.3 L608.7,357.3 L621.8,366 L486,366 Z"/></clipPath>
<g filter="url(#bl1)">
<path d="M486,252.5 L491.5,252.5 L499.4,254.3 L505,263.7 L518,256.2 L533,253.4 L551.8,256.2 L568.7,265.6 L574.3,252.5 L578,248.7 L587.4,244 L593.7,243.1 L608.7,245.9 L623.7,239.3 L646.2,241.2 L661.1,250.6 L666.8,260 L663,271.2 L646.2,280.5 L631.2,279.6 L623.7,289.9 L625.6,303 L631.2,314.3 L621.8,323.6 L606.8,334.9 L599.3,342.3 L608.7,357.3 L621.8,366 L486,366 Z" fill="#f3c2c2" stroke="none" stroke-width="1"/>
<g clip-path="url(#silc)"><g filter="url(#bl3)">
<path d="M486,250 L520,255 L528,270 L522,290 L500,300 L486,300 Z" fill="#f2e4e4" stroke="none" stroke-width="1"/>
<ellipse cx="500" cy="268" rx="12" ry="13" fill="#f4eeee"/>
<path d="M486,318 L520,318 L538,322 L532,340 L528,366 L486,366 Z" fill="#e4eaea" stroke="none" stroke-width="1"/>
<ellipse cx="548" cy="268" rx="16" ry="9" fill="#ec1a1a"/>
<ellipse cx="518" cy="266" rx="10" ry="7" fill="#f08080"/>
<ellipse cx="566" cy="274" rx="9" ry="7" fill="#ee1e1e"/>
<ellipse cx="594" cy="268" rx="9" ry="10" fill="#ee2020"/>
<ellipse cx="527" cy="268" rx="10" ry="7" fill="#ee6a6a"/>
<path d="M600,250 L625,239 L648,241 L664,252 L667,262 L662,272 L646,280 L631,280 L624,290 L626,304 L630,314 L620,322 L608,316 L600,300 L596,280 Z" fill="#ee1616" stroke="none" stroke-width="1"/>
<ellipse cx="646" cy="262" rx="14" ry="12" fill="#e51010"/>
<path d="M531,331 C538,325 556,323 566,327 C572,330 574,336 570,342 C566,348 560,352 550,353 C542,353 535,351 532,346 C530,341 530,336 531,331 Z" fill="#e21212" stroke="none" stroke-width="1"/>
<ellipse cx="588" cy="320" rx="16" ry="14" fill="#f6baba"/>
<ellipse cx="590" cy="356" rx="14" ry="8" fill="#efe4e4"/>
<ellipse cx="612" cy="312" rx="7" ry="9" fill="#e43a3a"/>
</g></g>
<path d="M588,247 C594,244 602,243.5 609,246 C604,249 596,249.5 588,249.5 Z" fill="#eef2f2" stroke="none" stroke-width="1"/>
</g>
<path d="M486,290 L491.5,290 L505,286 L520,305 L516.2,319.9 L505,323.6 L491.5,325.5 L486,325.5 Z" fill="#999999" stroke="none" stroke-width="1" filter="url(#bl1)"/>
</g>
<rect x="491.50" y="217.00" width="179.80" height="144.50" fill="none" stroke="#3a3a3a" stroke-width="1.0"/>
<line x1="542.60" y1="263.10" x2="546.40" y2="272.40" stroke="#a0a0a0" stroke-width="3.7" stroke-linecap="round"/>
<line x1="546.40" y1="272.40" x2="541.20" y2="278.00" stroke="#a0a0a0" stroke-width="3.7" stroke-linecap="round"/>
<line x1="546.40" y1="272.40" x2="555.70" y2="276.60" stroke="#a0a0a0" stroke-width="3.7" stroke-linecap="round"/>
<line x1="541.20" y1="278.00" x2="530.70" y2="276.30" stroke="#a0a0a0" stroke-width="3.7" stroke-linecap="round"/>
<line x1="541.20" y1="278.00" x2="547.70" y2="286.80" stroke="#a0a0a0" stroke-width="3.7" stroke-linecap="round"/>
<line x1="530.70" y1="276.30" x2="523.70" y2="283.30" stroke="#a0a0a0" stroke-width="3.7" stroke-linecap="round"/>
<line x1="523.70" y1="283.30" x2="513.10" y2="281.50" stroke="#a0a0a0" stroke-width="3.7" stroke-linecap="round"/>
<line x1="555.70" y1="276.60" x2="563.10" y2="273.70" stroke="#a0a0a0" stroke-width="3.7" stroke-linecap="round"/>
<line x1="555.70" y1="276.60" x2="556.40" y2="285.90" stroke="#a0a0a0" stroke-width="3.7" stroke-linecap="round"/>
<line x1="563.10" y1="273.70" x2="571.80" y2="277.70" stroke="#a0a0a0" stroke-width="3.7" stroke-linecap="round"/>
<line x1="571.80" y1="277.70" x2="578.50" y2="273.70" stroke="#a0a0a0" stroke-width="3.7" stroke-linecap="round"/>
<line x1="571.80" y1="277.70" x2="575.30" y2="285.90" stroke="#a0a0a0" stroke-width="3.7" stroke-linecap="round"/>
<line x1="578.50" y1="273.70" x2="576.20" y2="265.80" stroke="#a0a0a0" stroke-width="3.7" stroke-linecap="round"/>
<line x1="578.50" y1="273.70" x2="585.80" y2="279.80" stroke="#a0a0a0" stroke-width="3.7" stroke-linecap="round"/>
<line x1="576.20" y1="265.80" x2="581.50" y2="261.40" stroke="#a0a0a0" stroke-width="3.7" stroke-linecap="round"/>
<line x1="585.80" y1="279.80" x2="595.50" y2="279.80" stroke="#a0a0a0" stroke-width="3.7" stroke-linecap="round"/>
<line x1="585.80" y1="279.80" x2="584.40" y2="286.80" stroke="#a0a0a0" stroke-width="3.7" stroke-linecap="round"/>
<line x1="584.40" y1="286.80" x2="590.20" y2="295.20" stroke="#a0a0a0" stroke-width="3.7" stroke-linecap="round"/>
<line x1="584.40" y1="286.80" x2="575.30" y2="285.90" stroke="#a0a0a0" stroke-width="3.7" stroke-linecap="round"/>
<line x1="590.20" y1="295.20" x2="589.30" y2="303.40" stroke="#a0a0a0" stroke-width="3.7" stroke-linecap="round"/>
<line x1="589.30" y1="303.40" x2="596.00" y2="311.30" stroke="#a0a0a0" stroke-width="3.7" stroke-linecap="round"/>
<line x1="589.30" y1="303.40" x2="580.20" y2="303.40" stroke="#a0a0a0" stroke-width="3.7" stroke-linecap="round"/>
<line x1="596.00" y1="311.30" x2="606.00" y2="312.20" stroke="#a0a0a0" stroke-width="3.7" stroke-linecap="round"/>
<line x1="596.00" y1="311.30" x2="591.10" y2="317.40" stroke="#a0a0a0" stroke-width="3.7" stroke-linecap="round"/>
<line x1="606.00" y1="312.20" x2="613.90" y2="307.50" stroke="#a0a0a0" stroke-width="3.7" stroke-linecap="round"/>
<line x1="591.10" y1="317.40" x2="595.50" y2="327.10" stroke="#a0a0a0" stroke-width="3.7" stroke-linecap="round"/>
<line x1="591.10" y1="317.40" x2="582.30" y2="312.70" stroke="#a0a0a0" stroke-width="3.7" stroke-linecap="round"/>
<line x1="582.30" y1="312.70" x2="575.00" y2="316.90" stroke="#a0a0a0" stroke-width="3.7" stroke-linecap="round"/>
<line x1="582.30" y1="312.70" x2="580.20" y2="303.40" stroke="#a0a0a0" stroke-width="3.7" stroke-linecap="round"/>
<line x1="575.00" y1="316.90" x2="565.20" y2="312.70" stroke="#a0a0a0" stroke-width="3.7" stroke-linecap="round"/>
<line x1="565.20" y1="312.70" x2="557.80" y2="317.40" stroke="#a0a0a0" stroke-width="3.7" stroke-linecap="round"/>
<line x1="565.20" y1="312.70" x2="561.70" y2="303.40" stroke="#a0a0a0" stroke-width="3.7" stroke-linecap="round"/>
<line x1="557.80" y1="317.40" x2="559.60" y2="327.10" stroke="#a0a0a0" stroke-width="3.7" stroke-linecap="round"/>
<line x1="557.80" y1="317.40" x2="549.40" y2="311.30" stroke="#a0a0a0" stroke-width="3.7" stroke-linecap="round"/>
<line x1="549.40" y1="311.30" x2="552.00" y2="302.20" stroke="#a0a0a0" stroke-width="3.7" stroke-linecap="round"/>
<line x1="549.40" y1="311.30" x2="538.90" y2="312.70" stroke="#a0a0a0" stroke-width="3.7" stroke-linecap="round"/>
<line x1="552.00" y1="302.20" x2="545.20" y2="294.70" stroke="#a0a0a0" stroke-width="3.7" stroke-linecap="round"/>
<line x1="552.00" y1="302.20" x2="561.70" y2="303.40" stroke="#a0a0a0" stroke-width="3.7" stroke-linecap="round"/>
<line x1="545.20" y1="294.70" x2="547.70" y2="286.80" stroke="#a0a0a0" stroke-width="3.7" stroke-linecap="round"/>
<line x1="547.70" y1="286.80" x2="556.40" y2="285.90" stroke="#a0a0a0" stroke-width="3.7" stroke-linecap="round"/>
<line x1="537.70" y1="306.40" x2="538.90" y2="312.70" stroke="#a0a0a0" stroke-width="3.7" stroke-linecap="round"/>
<line x1="506.70" y1="277.70" x2="513.10" y2="281.50" stroke="#a0a0a0" stroke-width="3.7" stroke-linecap="round"/>
<line x1="510.20" y1="284.20" x2="513.10" y2="281.50" stroke="#a0a0a0" stroke-width="3.7" stroke-linecap="round"/>
<line x1="522.40" y1="295.90" x2="525.40" y2="305.20" stroke="#a0a0a0" stroke-width="3.7" stroke-linecap="round"/>
<line x1="518.00" y1="311.30" x2="525.40" y2="305.20" stroke="#a0a0a0" stroke-width="3.7" stroke-linecap="round"/>
<line x1="569.70" y1="295.90" x2="556.40" y2="285.90" stroke="#a0a0a0" stroke-width="3.7" stroke-linecap="round"/>
<line x1="569.70" y1="295.90" x2="575.30" y2="285.90" stroke="#a0a0a0" stroke-width="3.7" stroke-linecap="round"/>
<line x1="569.70" y1="295.90" x2="561.70" y2="303.40" stroke="#a0a0a0" stroke-width="3.7" stroke-linecap="round"/>
<line x1="569.70" y1="295.90" x2="580.20" y2="303.40" stroke="#a0a0a0" stroke-width="3.7" stroke-linecap="round"/>
<line x1="537.70" y1="306.40" x2="525.40" y2="305.20" stroke="#a0a0a0" stroke-width="3.7" stroke-linecap="round"/>
<line x1="542.60" y1="263.10" x2="546.40" y2="272.40" stroke="#fafafa" stroke-width="2.7" stroke-linecap="round"/>
<line x1="546.40" y1="272.40" x2="541.20" y2="278.00" stroke="#fafafa" stroke-width="2.7" stroke-linecap="round"/>
<line x1="546.40" y1="272.40" x2="555.70" y2="276.60" stroke="#fafafa" stroke-width="2.7" stroke-linecap="round"/>
<line x1="541.20" y1="278.00" x2="530.70" y2="276.30" stroke="#fafafa" stroke-width="2.7" stroke-linecap="round"/>
<line x1="541.20" y1="278.00" x2="547.70" y2="286.80" stroke="#fafafa" stroke-width="2.7" stroke-linecap="round"/>
<line x1="530.70" y1="276.30" x2="523.70" y2="283.30" stroke="#fafafa" stroke-width="2.7" stroke-linecap="round"/>
<line x1="523.70" y1="283.30" x2="513.10" y2="281.50" stroke="#fafafa" stroke-width="2.7" stroke-linecap="round"/>
<line x1="555.70" y1="276.60" x2="563.10" y2="273.70" stroke="#fafafa" stroke-width="2.7" stroke-linecap="round"/>
<line x1="555.70" y1="276.60" x2="556.40" y2="285.90" stroke="#fafafa" stroke-width="2.7" stroke-linecap="round"/>
<line x1="563.10" y1="273.70" x2="571.80" y2="277.70" stroke="#fafafa" stroke-width="2.7" stroke-linecap="round"/>
<line x1="571.80" y1="277.70" x2="578.50" y2="273.70" stroke="#fafafa" stroke-width="2.7" stroke-linecap="round"/>
<line x1="571.80" y1="277.70" x2="575.30" y2="285.90" stroke="#fafafa" stroke-width="2.7" stroke-linecap="round"/>
<line x1="578.50" y1="273.70" x2="576.20" y2="265.80" stroke="#fafafa" stroke-width="2.7" stroke-linecap="round"/>
<line x1="578.50" y1="273.70" x2="585.80" y2="279.80" stroke="#fafafa" stroke-width="2.7" stroke-linecap="round"/>
<line x1="576.20" y1="265.80" x2="581.50" y2="261.40" stroke="#fafafa" stroke-width="2.7" stroke-linecap="round"/>
<line x1="585.80" y1="279.80" x2="595.50" y2="279.80" stroke="#fafafa" stroke-width="2.7" stroke-linecap="round"/>
<line x1="585.80" y1="279.80" x2="584.40" y2="286.80" stroke="#fafafa" stroke-width="2.7" stroke-linecap="round"/>
<line x1="584.40" y1="286.80" x2="590.20" y2="295.20" stroke="#fafafa" stroke-width="2.7" stroke-linecap="round"/>
<line x1="584.40" y1="286.80" x2="575.30" y2="285.90" stroke="#fafafa" stroke-width="2.7" stroke-linecap="round"/>
<line x1="590.20" y1="295.20" x2="589.30" y2="303.40" stroke="#fafafa" stroke-width="2.7" stroke-linecap="round"/>
<line x1="589.30" y1="303.40" x2="596.00" y2="311.30" stroke="#fafafa" stroke-width="2.7" stroke-linecap="round"/>
<line x1="589.30" y1="303.40" x2="580.20" y2="303.40" stroke="#fafafa" stroke-width="2.7" stroke-linecap="round"/>
<line x1="596.00" y1="311.30" x2="606.00" y2="312.20" stroke="#fafafa" stroke-width="2.7" stroke-linecap="round"/>
<line x1="596.00" y1="311.30" x2="591.10" y2="317.40" stroke="#fafafa" stroke-width="2.7" stroke-linecap="round"/>
<line x1="606.00" y1="312.20" x2="613.90" y2="307.50" stroke="#fafafa" stroke-width="2.7" stroke-linecap="round"/>
<line x1="591.10" y1="317.40" x2="595.50" y2="327.10" stroke="#fafafa" stroke-width="2.7" stroke-linecap="round"/>
<line x1="591.10" y1="317.40" x2="582.30" y2="312.70" stroke="#fafafa" stroke-width="2.7" stroke-linecap="round"/>
<line x1="582.30" y1="312.70" x2="575.00" y2="316.90" stroke="#fafafa" stroke-width="2.7" stroke-linecap="round"/>
<line x1="582.30" y1="312.70" x2="580.20" y2="303.40" stroke="#fafafa" stroke-width="2.7" stroke-linecap="round"/>
<line x1="575.00" y1="316.90" x2="565.20" y2="312.70" stroke="#fafafa" stroke-width="2.7" stroke-linecap="round"/>
<line x1="565.20" y1="312.70" x2="557.80" y2="317.40" stroke="#fafafa" stroke-width="2.7" stroke-linecap="round"/>
<line x1="565.20" y1="312.70" x2="561.70" y2="303.40" stroke="#fafafa" stroke-width="2.7" stroke-linecap="round"/>
<line x1="557.80" y1="317.40" x2="559.60" y2="327.10" stroke="#fafafa" stroke-width="2.7" stroke-linecap="round"/>
<line x1="557.80" y1="317.40" x2="549.40" y2="311.30" stroke="#fafafa" stroke-width="2.7" stroke-linecap="round"/>
<line x1="549.40" y1="311.30" x2="552.00" y2="302.20" stroke="#fafafa" stroke-width="2.7" stroke-linecap="round"/>
<line x1="549.40" y1="311.30" x2="538.90" y2="312.70" stroke="#fafafa" stroke-width="2.7" stroke-linecap="round"/>
<line x1="552.00" y1="302.20" x2="545.20" y2="294.70" stroke="#fafafa" stroke-width="2.7" stroke-linecap="round"/>
<line x1="552.00" y1="302.20" x2="561.70" y2="303.40" stroke="#fafafa" stroke-width="2.7" stroke-linecap="round"/>
<line x1="545.20" y1="294.70" x2="547.70" y2="286.80" stroke="#fafafa" stroke-width="2.7" stroke-linecap="round"/>
<line x1="547.70" y1="286.80" x2="556.40" y2="285.90" stroke="#fafafa" stroke-width="2.7" stroke-linecap="round"/>
<line x1="537.70" y1="306.40" x2="538.90" y2="312.70" stroke="#fafafa" stroke-width="2.7" stroke-linecap="round"/>
<line x1="506.70" y1="277.70" x2="513.10" y2="281.50" stroke="#fafafa" stroke-width="2.7" stroke-linecap="round"/>
<line x1="510.20" y1="284.20" x2="513.10" y2="281.50" stroke="#fafafa" stroke-width="2.7" stroke-linecap="round"/>
<line x1="522.40" y1="295.90" x2="525.40" y2="305.20" stroke="#fafafa" stroke-width="2.7" stroke-linecap="round"/>
<line x1="518.00" y1="311.30" x2="525.40" y2="305.20" stroke="#fafafa" stroke-width="2.7" stroke-linecap="round"/>
<line x1="569.70" y1="295.90" x2="556.40" y2="285.90" stroke="#fafafa" stroke-width="2.7" stroke-linecap="round"/>
<line x1="569.70" y1="295.90" x2="575.30" y2="285.90" stroke="#fafafa" stroke-width="2.7" stroke-linecap="round"/>
<line x1="569.70" y1="295.90" x2="561.70" y2="303.40" stroke="#fafafa" stroke-width="2.7" stroke-linecap="round"/>
<line x1="569.70" y1="295.90" x2="580.20" y2="303.40" stroke="#fafafa" stroke-width="2.7" stroke-linecap="round"/>
<line x1="537.70" y1="306.40" x2="525.40" y2="305.20" stroke="#fafafa" stroke-width="2.7" stroke-linecap="round"/>
<defs><radialGradient id="gball" cx="0.38" cy="0.35" r="0.7"><stop offset="0" stop-color="#a0ffa0"/><stop offset="0.45" stop-color="#2ae82a"/><stop offset="1" stop-color="#12a812"/></radialGradient><radialGradient id="bball" cx="0.38" cy="0.35" r="0.7"><stop offset="0" stop-color="#7a7aff"/><stop offset="0.45" stop-color="#1515f0"/><stop offset="1" stop-color="#0606a0"/></radialGradient><radialGradient id="rball" cx="0.38" cy="0.35" r="0.7"><stop offset="0" stop-color="#ff9a9a"/><stop offset="0.45" stop-color="#ef3030"/><stop offset="1" stop-color="#b01212"/></radialGradient><radialGradient id="feball" cx="0.38" cy="0.35" r="0.7"><stop offset="0" stop-color="#f0a070"/><stop offset="0.5" stop-color="#cc6a30"/><stop offset="1" stop-color="#904010"/></radialGradient></defs>
<circle cx="542.60" cy="263.10" r="3.95" fill="url(#gball)" stroke="none" stroke-width="0.5"/>
<circle cx="546.40" cy="272.40" r="3.95" fill="url(#gball)" stroke="none" stroke-width="0.5"/>
<circle cx="541.20" cy="278.00" r="3.95" fill="url(#gball)" stroke="none" stroke-width="0.5"/>
<circle cx="530.70" cy="276.30" r="3.95" fill="url(#gball)" stroke="none" stroke-width="0.5"/>
<circle cx="523.70" cy="283.30" r="3.95" fill="url(#gball)" stroke="none" stroke-width="0.5"/>
<circle cx="513.10" cy="281.50" r="3.95" fill="url(#gball)" stroke="none" stroke-width="0.5"/>
<circle cx="555.70" cy="276.60" r="3.95" fill="url(#gball)" stroke="none" stroke-width="0.5"/>
<circle cx="563.10" cy="273.70" r="3.95" fill="url(#gball)" stroke="none" stroke-width="0.5"/>
<circle cx="571.80" cy="277.70" r="3.95" fill="url(#gball)" stroke="none" stroke-width="0.5"/>
<circle cx="578.50" cy="273.70" r="3.95" fill="url(#gball)" stroke="none" stroke-width="0.5"/>
<circle cx="576.20" cy="265.80" r="3.95" fill="url(#gball)" stroke="none" stroke-width="0.5"/>
<circle cx="581.50" cy="261.40" r="3.95" fill="url(#gball)" stroke="none" stroke-width="0.5"/>
<circle cx="585.80" cy="279.80" r="3.95" fill="url(#gball)" stroke="none" stroke-width="0.5"/>
<circle cx="595.50" cy="279.80" r="3.95" fill="url(#gball)" stroke="none" stroke-width="0.5"/>
<circle cx="584.40" cy="286.80" r="3.95" fill="url(#gball)" stroke="none" stroke-width="0.5"/>
<circle cx="590.20" cy="295.20" r="3.95" fill="url(#gball)" stroke="none" stroke-width="0.5"/>
<circle cx="589.30" cy="303.40" r="3.95" fill="url(#gball)" stroke="none" stroke-width="0.5"/>
<circle cx="596.00" cy="311.30" r="3.95" fill="url(#gball)" stroke="none" stroke-width="0.5"/>
<circle cx="606.00" cy="312.20" r="3.95" fill="url(#gball)" stroke="none" stroke-width="0.5"/>
<circle cx="613.90" cy="307.50" r="3.95" fill="url(#gball)" stroke="none" stroke-width="0.5"/>
<circle cx="591.10" cy="317.40" r="3.95" fill="url(#gball)" stroke="none" stroke-width="0.5"/>
<circle cx="595.50" cy="327.10" r="3.95" fill="url(#gball)" stroke="none" stroke-width="0.5"/>
<circle cx="582.30" cy="312.70" r="3.95" fill="url(#gball)" stroke="none" stroke-width="0.5"/>
<circle cx="575.00" cy="316.90" r="3.95" fill="url(#gball)" stroke="none" stroke-width="0.5"/>
<circle cx="565.20" cy="312.70" r="3.95" fill="url(#gball)" stroke="none" stroke-width="0.5"/>
<circle cx="557.80" cy="317.40" r="3.95" fill="url(#gball)" stroke="none" stroke-width="0.5"/>
<circle cx="559.60" cy="327.10" r="3.95" fill="url(#gball)" stroke="none" stroke-width="0.5"/>
<circle cx="549.40" cy="311.30" r="3.95" fill="url(#gball)" stroke="none" stroke-width="0.5"/>
<circle cx="552.00" cy="302.20" r="3.95" fill="url(#gball)" stroke="none" stroke-width="0.5"/>
<circle cx="545.20" cy="294.70" r="3.95" fill="url(#gball)" stroke="none" stroke-width="0.5"/>
<circle cx="547.70" cy="286.80" r="3.95" fill="url(#gball)" stroke="none" stroke-width="0.5"/>
<circle cx="537.70" cy="306.40" r="3.95" fill="url(#gball)" stroke="none" stroke-width="0.5"/>
<circle cx="538.90" cy="312.70" r="3.95" fill="url(#gball)" stroke="none" stroke-width="0.5"/>
<circle cx="525.40" cy="305.20" r="3.95" fill="url(#gball)" stroke="none" stroke-width="0.5"/>
<circle cx="556.40" cy="285.90" r="3.50" fill="url(#bball)" stroke="none" stroke-width="0.5"/>
<circle cx="575.30" cy="285.90" r="3.50" fill="url(#bball)" stroke="none" stroke-width="0.5"/>
<circle cx="561.70" cy="303.40" r="3.50" fill="url(#bball)" stroke="none" stroke-width="0.5"/>
<circle cx="580.20" cy="303.40" r="3.50" fill="url(#bball)" stroke="none" stroke-width="0.5"/>
<circle cx="506.70" cy="277.70" r="3.40" fill="url(#rball)" stroke="none" stroke-width="0.5"/>
<circle cx="510.20" cy="284.20" r="3.40" fill="url(#rball)" stroke="none" stroke-width="0.5"/>
<circle cx="522.40" cy="295.90" r="3.40" fill="url(#rball)" stroke="none" stroke-width="0.5"/>
<circle cx="518.00" cy="311.30" r="3.40" fill="url(#rball)" stroke="none" stroke-width="0.5"/>
<circle cx="569.70" cy="295.90" r="3.30" fill="url(#feball)" stroke="none" stroke-width="0.5"/>
<text x="606.60" y="276.40" font-size="10.2" text-anchor="start" fill="#111" font-weight="bold" font-style="italic">meso-C</text>
<path d="M609.8,281.3 L601.5,288.8" fill="none" stroke="#000" stroke-width="2.6"/>
<polygon points="596.30,293.80 598.60,285.40 604.80,291.60" fill="#000" stroke="none" stroke-width="1"/>
<text x="2.40" y="265.00" font-size="19.8" text-anchor="start" fill="#000" font-weight="bold">d</text>
<defs><filter id="thb" x="-10%" y="-30%" width="120%" height="160%"><feGaussianBlur stdDeviation="0.45"/></filter></defs>
<g filter="url(#thb)"><path d="M4,283.5 L8.5,286.5 L10,289.5 M4,295.5 L8.5,292.5 L10,289.5 M9,283.5 L11,281.5 M9,295.5 L11,297.5" fill="none" stroke="#6a6a6a" stroke-width="1.4"/><path d="M10,289.5 L53,290.5" fill="none" stroke="#6a6a6a" stroke-width="2.2" stroke-dasharray="2.6,1.1"/><path d="M19,286.5 L20,292.5 M21,286.0 L22,288.5 M21,293.0 L22,290.5 M37,286.5 L38,289.5 M39,292.5 L38,289.5 M42,286.5 L43,289.5 M44,286.5 L45,289.5 M46,289.5 L49,293.5 L52,292.5 M48,286.5 L48,289.5" fill="none" stroke="#555" stroke-width="1.1"/><circle cx="23.7" cy="289.5" r="1.1" fill="#5a5ad8"/><circle cx="34.3" cy="289.5" r="1.1" fill="#5a5ad8"/></g><circle cx="2.5" cy="279.4" r="1.55" fill="#e01010"/><circle cx="1.6" cy="286.9" r="1.55" fill="#e01010"/><circle cx="2.6" cy="290.8" r="1.55" fill="#e01010"/><circle cx="3.3" cy="298.7" r="1.55" fill="#e01010"/>
<g filter="url(#thb)"><path d="M4,349.8 L8.5,352.8 L10,355.8 M4,361.8 L8.5,358.8 L10,355.8 M9,349.8 L11,347.8 M9,361.8 L11,363.8" fill="none" stroke="#6a6a6a" stroke-width="1.4"/><path d="M10,355.8 L53,356.8" fill="none" stroke="#6a6a6a" stroke-width="2.2" stroke-dasharray="2.6,1.1"/><path d="M19,352.8 L20,358.8 M21,352.3 L22,354.8 M21,359.3 L22,356.8 M37,352.8 L38,355.8 M39,358.8 L38,355.8 M42,352.8 L43,355.8 M44,352.8 L45,355.8 M46,355.8 L49,359.8 L52,358.8 M48,352.8 L48,355.8" fill="none" stroke="#555" stroke-width="1.1"/><circle cx="23.7" cy="355.8" r="1.1" fill="#5a5ad8"/><circle cx="34.3" cy="355.8" r="1.1" fill="#5a5ad8"/></g><circle cx="1.3" cy="347.4" r="1.55" fill="#e01010"/><circle cx="1.9" cy="354" r="1.55" fill="#e01010"/><circle cx="1.6" cy="358.2" r="1.55" fill="#e01010"/><circle cx="2.5" cy="365.4" r="1.55" fill="#e01010"/><circle cx="28.9" cy="348.8" r="1.55" fill="#e01010"/><circle cx="32.8" cy="346.6" r="1.55" fill="#e01010"/>
<path d="M29,355.8 L29,351" stroke="#777" stroke-width="0.9"/>
<g filter="url(#thb)"><path d="M4,419.5 L8.5,422.5 L10,425.5 M4,431.5 L8.5,428.5 L10,425.5 M9,419.5 L11,417.5 M9,431.5 L11,433.5" fill="none" stroke="#6a6a6a" stroke-width="1.4"/><path d="M10,425.5 L53,426.5" fill="none" stroke="#6a6a6a" stroke-width="2.2" stroke-dasharray="2.6,1.1"/><path d="M19,422.5 L20,428.5 M21,422.0 L22,424.5 M21,429.0 L22,426.5 M37,422.5 L38,425.5 M39,428.5 L38,425.5 M42,422.5 L43,425.5 M44,422.5 L45,425.5 M46,425.5 L49,429.5 L52,428.5 M48,422.5 L48,425.5" fill="none" stroke="#555" stroke-width="1.1"/><circle cx="23.7" cy="425.5" r="1.1" fill="#5a5ad8"/><circle cx="34.3" cy="425.5" r="1.1" fill="#5a5ad8"/></g><circle cx="1.6" cy="416" r="1.55" fill="#e01010"/><circle cx="1.6" cy="423.5" r="1.55" fill="#e01010"/><circle cx="1.6" cy="427.2" r="1.55" fill="#e01010"/><circle cx="2.5" cy="435" r="1.55" fill="#e01010"/><circle cx="29.2" cy="415.5" r="1.55" fill="#e01010"/>
<path d="M29,425.5 L29,418" stroke="#777" stroke-width="0.9"/>
<text x="27.50" y="311.40" font-size="10.3" text-anchor="middle" fill="#111" font-weight="normal">Heme</text>
<text x="6.1" y="381" font-size="10.3" fill="#111">Heme-O<tspan font-size="7" dy="2.5">2</tspan></text>
<text x="27.50" y="449.20" font-size="10.3" text-anchor="middle" fill="#111" font-weight="normal">Heme-CO</text>
<rect x="80.00" y="261.20" width="11.90" height="5.00" fill="#000" stroke="none" stroke-width="1"/>
<text x="95.40" y="266.40" font-size="7.6" text-anchor="start" fill="#111" font-weight="normal">Singlet</text>
<rect x="124.60" y="261.20" width="11.70" height="5.00" fill="#1e8fe6" stroke="none" stroke-width="1"/>
<text x="140.00" y="266.40" font-size="7.6" text-anchor="start" fill="#111" font-weight="normal">Triplet</text>
<rect x="175.50" y="261.20" width="11.70" height="5.00" fill="#f01c1c" stroke="none" stroke-width="1"/>
<text x="191.20" y="266.40" font-size="7.6" text-anchor="start" fill="#111" font-weight="normal">Quintet</text>
<rect x="80.40" y="272.60" width="11.30" height="5.30" fill="#fff" stroke="#222" stroke-width="0.8"/>
<text x="95.40" y="278.20" font-size="7.6" text-anchor="start" fill="#111" font-weight="normal">deBR</text>
<rect x="123.90" y="274.20" width="7.00" height="2.20" fill="#fff" stroke="#222" stroke-width="0.7"/>
<circle cx="132.30" cy="275.30" r="2.20" fill="#fff" stroke="#222" stroke-width="0.8"/>
<text x="140.00" y="278.20" font-size="7.6" text-anchor="start" fill="#111" font-weight="normal">deBR-Fe</text>
<rect x="175.50" y="274.20" width="10.00" height="2.20" fill="#fff" stroke="#222" stroke-width="0.7"/>
<rect x="185.30" y="272.50" width="1.40" height="5.60" fill="#fff" stroke="#222" stroke-width="0.6"/>
<text x="198.4" y="278.2" font-size="7.6" fill="#111">deBR-Fe-O<tspan font-size="5.5" dy="1.8">2</tspan></text>
<line x1="94.60" y1="287.80" x2="94.60" y2="448.40" stroke="#777" stroke-width="1.0"/>
<line x1="92.20" y1="427.70" x2="94.60" y2="427.70" stroke="#555" stroke-width="0.9"/>
<text x="90.00" y="431.10" font-size="9.4" text-anchor="end" fill="#111" font-weight="normal">&#8722;30</text>
<line x1="92.20" y1="397.85" x2="94.60" y2="397.85" stroke="#555" stroke-width="0.9"/>
<text x="90.00" y="401.25" font-size="9.4" text-anchor="end" fill="#111" font-weight="normal">&#8722;15</text>
<line x1="92.20" y1="368.00" x2="94.60" y2="368.00" stroke="#555" stroke-width="0.9"/>
<text x="90.00" y="371.40" font-size="9.4" text-anchor="end" fill="#111" font-weight="normal">0</text>
<line x1="92.20" y1="338.15" x2="94.60" y2="338.15" stroke="#555" stroke-width="0.9"/>
<text x="90.00" y="341.55" font-size="9.4" text-anchor="end" fill="#111" font-weight="normal">15</text>
<line x1="92.20" y1="308.30" x2="94.60" y2="308.30" stroke="#555" stroke-width="0.9"/>
<text x="90.00" y="311.70" font-size="9.4" text-anchor="end" fill="#111" font-weight="normal">30</text>
<line x1="93.10" y1="442.62" x2="94.60" y2="442.62" stroke="#555" stroke-width="0.8"/>
<line x1="93.10" y1="412.77" x2="94.60" y2="412.77" stroke="#555" stroke-width="0.8"/>
<line x1="93.10" y1="382.93" x2="94.60" y2="382.93" stroke="#555" stroke-width="0.8"/>
<line x1="93.10" y1="353.07" x2="94.60" y2="353.07" stroke="#555" stroke-width="0.8"/>
<line x1="93.10" y1="323.23" x2="94.60" y2="323.23" stroke="#555" stroke-width="0.8"/>
<line x1="93.10" y1="293.38" x2="94.60" y2="293.38" stroke="#555" stroke-width="0.8"/>
<line x1="153.00" y1="287.80" x2="153.00" y2="448.40" stroke="#777" stroke-width="1.0"/>
<line x1="150.60" y1="427.70" x2="153.00" y2="427.70" stroke="#555" stroke-width="0.9"/>
<text x="148.40" y="431.10" font-size="9.4" text-anchor="end" fill="#111" font-weight="normal">&#8722;30</text>
<line x1="150.60" y1="397.85" x2="153.00" y2="397.85" stroke="#555" stroke-width="0.9"/>
<text x="148.40" y="401.25" font-size="9.4" text-anchor="end" fill="#111" font-weight="normal">&#8722;15</text>
<line x1="150.60" y1="368.00" x2="153.00" y2="368.00" stroke="#555" stroke-width="0.9"/>
<text x="148.40" y="371.40" font-size="9.4" text-anchor="end" fill="#111" font-weight="normal">0</text>
<line x1="150.60" y1="338.15" x2="153.00" y2="338.15" stroke="#555" stroke-width="0.9"/>
<text x="148.40" y="341.55" font-size="9.4" text-anchor="end" fill="#111" font-weight="normal">15</text>
<line x1="150.60" y1="308.30" x2="153.00" y2="308.30" stroke="#555" stroke-width="0.9"/>
<text x="148.40" y="311.70" font-size="9.4" text-anchor="end" fill="#111" font-weight="normal">30</text>
<line x1="151.50" y1="442.62" x2="153.00" y2="442.62" stroke="#555" stroke-width="0.8"/>
<line x1="151.50" y1="412.77" x2="153.00" y2="412.77" stroke="#555" stroke-width="0.8"/>
<line x1="151.50" y1="382.93" x2="153.00" y2="382.93" stroke="#555" stroke-width="0.8"/>
<line x1="151.50" y1="353.07" x2="153.00" y2="353.07" stroke="#555" stroke-width="0.8"/>
<line x1="151.50" y1="323.23" x2="153.00" y2="323.23" stroke="#555" stroke-width="0.8"/>
<line x1="151.50" y1="293.38" x2="153.00" y2="293.38" stroke="#555" stroke-width="0.8"/>
<line x1="211.30" y1="287.80" x2="211.30" y2="448.40" stroke="#777" stroke-width="1.0"/>
<line x1="208.90" y1="427.70" x2="211.30" y2="427.70" stroke="#555" stroke-width="0.9"/>
<text x="206.70" y="431.10" font-size="9.4" text-anchor="end" fill="#111" font-weight="normal">&#8722;30</text>
<line x1="208.90" y1="397.85" x2="211.30" y2="397.85" stroke="#555" stroke-width="0.9"/>
<text x="206.70" y="401.25" font-size="9.4" text-anchor="end" fill="#111" font-weight="normal">&#8722;15</text>
<line x1="208.90" y1="368.00" x2="211.30" y2="368.00" stroke="#555" stroke-width="0.9"/>
<text x="206.70" y="371.40" font-size="9.4" text-anchor="end" fill="#111" font-weight="normal">0</text>
<line x1="208.90" y1="338.15" x2="211.30" y2="338.15" stroke="#555" stroke-width="0.9"/>
<text x="206.70" y="341.55" font-size="9.4" text-anchor="end" fill="#111" font-weight="normal">15</text>
<line x1="208.90" y1="308.30" x2="211.30" y2="308.30" stroke="#555" stroke-width="0.9"/>
<text x="206.70" y="311.70" font-size="9.4" text-anchor="end" fill="#111" font-weight="normal">30</text>
<line x1="209.80" y1="442.62" x2="211.30" y2="442.62" stroke="#555" stroke-width="0.8"/>
<line x1="209.80" y1="412.77" x2="211.30" y2="412.77" stroke="#555" stroke-width="0.8"/>
<line x1="209.80" y1="382.93" x2="211.30" y2="382.93" stroke="#555" stroke-width="0.8"/>
<line x1="209.80" y1="353.07" x2="211.30" y2="353.07" stroke="#555" stroke-width="0.8"/>
<line x1="209.80" y1="323.23" x2="211.30" y2="323.23" stroke="#555" stroke-width="0.8"/>
<line x1="209.80" y1="293.38" x2="211.30" y2="293.38" stroke="#555" stroke-width="0.8"/>
<line x1="94.60" y1="309.30" x2="104.70" y2="309.30" stroke="#000" stroke-width="1.9"/>
<line x1="94.60" y1="343.72" x2="104.70" y2="343.72" stroke="#f01c1c" stroke-width="1.9"/>
<line x1="94.60" y1="368.00" x2="104.70" y2="368.00" stroke="#1e8fe6" stroke-width="1.9"/>
<line x1="104.40" y1="379.54" x2="112.90" y2="379.54" stroke="#f01c1c" stroke-width="1.9"/>
<circle cx="112.90" cy="379.54" r="2.10" fill="#f01c1c" stroke="none" stroke-width="0.5"/>
<line x1="104.40" y1="383.12" x2="112.90" y2="383.12" stroke="#1e8fe6" stroke-width="1.9"/>
<circle cx="112.90" cy="383.12" r="2.10" fill="#1e8fe6" stroke="none" stroke-width="0.5"/>
<line x1="95.00" y1="389.89" x2="104.40" y2="389.89" stroke="#bdbdbd" stroke-width="0.8" stroke-dasharray="1,1.2"/>
<line x1="104.40" y1="389.89" x2="112.90" y2="389.89" stroke="#000" stroke-width="1.9"/>
<circle cx="112.90" cy="389.89" r="2.10" fill="#000" stroke="none" stroke-width="0.5"/>
<line x1="114.50" y1="349.49" x2="124.60" y2="349.49" stroke="#f01c1c" stroke-width="1.9"/>
<rect x="123.80" y="347.49" width="1.60" height="4.00" fill="#f01c1c" stroke="none" stroke-width="1"/>
<line x1="114.50" y1="368.00" x2="124.60" y2="368.00" stroke="#1e8fe6" stroke-width="1.9"/>
<rect x="123.80" y="366.00" width="1.60" height="4.00" fill="#1e8fe6" stroke="none" stroke-width="1"/>
<line x1="95.00" y1="425.31" x2="114.50" y2="425.31" stroke="#bdbdbd" stroke-width="0.8" stroke-dasharray="1,1.2"/>
<line x1="114.50" y1="425.31" x2="124.60" y2="425.31" stroke="#000" stroke-width="1.9"/>
<rect x="123.80" y="423.31" width="1.60" height="4.00" fill="#000" stroke="none" stroke-width="1"/>
<line x1="153.00" y1="301.14" x2="163.50" y2="301.14" stroke="#000" stroke-width="1.9"/>
<line x1="153.00" y1="358.05" x2="163.50" y2="358.05" stroke="#1e8fe6" stroke-width="1.9"/>
<line x1="153.00" y1="368.00" x2="163.50" y2="368.00" stroke="#f01c1c" stroke-width="1.9"/>
<line x1="163.10" y1="346.71" x2="171.60" y2="346.71" stroke="#000" stroke-width="1.9"/>
<circle cx="171.60" cy="346.71" r="2.10" fill="#000" stroke="none" stroke-width="0.5"/>
<line x1="163.10" y1="372.18" x2="171.60" y2="372.18" stroke="#1e8fe6" stroke-width="1.9"/>
<circle cx="171.60" cy="372.18" r="2.10" fill="#1e8fe6" stroke="none" stroke-width="0.5"/>
<line x1="153.50" y1="385.51" x2="163.10" y2="385.51" stroke="#bdbdbd" stroke-width="0.8" stroke-dasharray="1,1.2"/>
<line x1="163.10" y1="385.51" x2="171.60" y2="385.51" stroke="#f01c1c" stroke-width="1.9"/>
<circle cx="171.60" cy="385.51" r="2.10" fill="#f01c1c" stroke="none" stroke-width="0.5"/>
<line x1="172.80" y1="395.86" x2="183.30" y2="395.86" stroke="#1e8fe6" stroke-width="1.9"/>
<rect x="182.50" y="393.86" width="1.60" height="4.00" fill="#1e8fe6" stroke="none" stroke-width="1"/>
<line x1="172.80" y1="408.20" x2="183.30" y2="408.20" stroke="#f01c1c" stroke-width="1.9"/>
<rect x="182.50" y="406.20" width="1.60" height="4.00" fill="#f01c1c" stroke="none" stroke-width="1"/>
<line x1="153.50" y1="415.76" x2="172.80" y2="415.76" stroke="#bdbdbd" stroke-width="0.8" stroke-dasharray="1,1.2"/>
<line x1="172.80" y1="415.76" x2="183.30" y2="415.76" stroke="#000" stroke-width="1.9"/>
<rect x="182.50" y="413.76" width="1.60" height="4.00" fill="#000" stroke="none" stroke-width="1"/>
<line x1="211.30" y1="324.62" x2="221.80" y2="324.62" stroke="#000" stroke-width="1.9"/>
<line x1="211.30" y1="351.88" x2="221.80" y2="351.88" stroke="#1e8fe6" stroke-width="1.9"/>
<line x1="211.30" y1="368.00" x2="221.80" y2="368.00" stroke="#f01c1c" stroke-width="1.9"/>
<line x1="221.80" y1="318.25" x2="229.90" y2="318.25" stroke="#1e8fe6" stroke-width="1.9"/>
<circle cx="229.90" cy="318.25" r="2.10" fill="#1e8fe6" stroke="none" stroke-width="0.5"/>
<line x1="221.80" y1="358.45" x2="229.90" y2="358.45" stroke="#f01c1c" stroke-width="1.9"/>
<circle cx="229.90" cy="358.45" r="2.10" fill="#f01c1c" stroke="none" stroke-width="0.5"/>
<line x1="221.80" y1="368.40" x2="229.90" y2="368.40" stroke="#000" stroke-width="1.9"/>
<circle cx="229.90" cy="368.40" r="2.10" fill="#000" stroke="none" stroke-width="0.5"/>
<line x1="231.40" y1="342.53" x2="242.00" y2="342.53" stroke="#1e8fe6" stroke-width="1.9"/>
<rect x="241.20" y="340.53" width="1.60" height="4.00" fill="#1e8fe6" stroke="none" stroke-width="1"/>
<line x1="231.40" y1="354.47" x2="242.00" y2="354.47" stroke="#f01c1c" stroke-width="1.9"/>
<rect x="241.20" y="352.47" width="1.60" height="4.00" fill="#f01c1c" stroke="none" stroke-width="1"/>
<line x1="211.80" y1="400.04" x2="231.40" y2="400.04" stroke="#bdbdbd" stroke-width="0.8" stroke-dasharray="1,1.2"/>
<line x1="231.40" y1="400.04" x2="242.00" y2="400.04" stroke="#000" stroke-width="1.9"/>
<rect x="241.20" y="398.04" width="1.60" height="4.00" fill="#000" stroke="none" stroke-width="1"/>
<text x="96.00" y="460.70" font-size="7.6" text-anchor="middle" fill="#111" font-weight="normal">BP86-D3</text>
<text x="96.00" y="468.80" font-size="7.6" text-anchor="middle" fill="#111" font-weight="normal">def2-TZVP</text>
<text x="156.30" y="460.70" font-size="7.6" text-anchor="middle" fill="#111" font-weight="normal">PBE0-D3</text>
<text x="156.30" y="468.80" font-size="7.6" text-anchor="middle" fill="#111" font-weight="normal">def2-TZVP</text>
<text x="216.50" y="460.70" font-size="7.6" text-anchor="middle" fill="#111" font-weight="normal">DSD-PBEP86-D3</text>
<text x="216.50" y="468.80" font-size="7.6" text-anchor="middle" fill="#111" font-weight="normal">def2-TZVPP</text>
<text x="69.60" y="367.50" font-size="9.1" text-anchor="middle" fill="#111" font-weight="normal" transform="rotate(-90 69.60 367.50)">&#916;G (kcal/mol)</text>
<text x="277.30" y="265.90" font-size="19.8" text-anchor="start" fill="#000" font-weight="bold">e</text>
<path d="M349.37,439.50 L349.39,438.03 L349.43,436.56 L349.48,435.09 L349.55,433.62 L349.65,432.15 L349.77,430.69 L349.92,429.22 L350.12,427.75 L350.36,426.28 L350.66,424.81 L351.03,423.34 L351.46,421.87 L351.98,420.40 L352.57,418.93 L353.25,417.46 L354.01,415.99 L354.85,414.52 L355.76,413.06 L356.73,411.59 L357.74,410.12 L358.77,408.65 L359.80,407.18 L360.81,405.71 L361.75,404.24 L362.61,402.77 L363.36,401.30 L363.97,399.83 L364.43,398.36 L364.71,396.89 L364.80,395.43 L364.71,393.96 L364.43,392.49 L363.97,391.02 L363.36,389.55 L362.61,388.08 L361.75,386.61 L360.81,385.14 L359.80,383.67 L358.77,382.20 L357.74,380.73 L356.73,379.26 L355.76,377.80 L354.85,376.33 L354.01,374.86 L353.25,373.39 L352.57,371.92 L351.98,370.45 L351.46,368.98 L351.03,367.51 L350.66,366.04 L350.36,364.57 L350.12,363.10 L349.92,361.63 L349.77,360.17 L349.65,358.70 L349.55,357.23 L349.48,355.76 L349.43,354.29 L349.39,352.82 L349.37,351.35" fill="none" stroke="#bfe2fa" stroke-width="0.6"/>
<path d="M357.2 398.8h.7M349.6 388.6h.7M349.4 407.8h.7M354.8 398.3h.7M349.5 381.6h.7M349.7 392.1h.7M349.5 417.6h.7M350.4 384.0h.7M350.9 418.0h.7M350.1 418.7h.7M361.1 391.4h.7M351.7 396.0h.7M351.8 391.3h.7M359.9 390.2h.7M356.1 388.0h.7M351.0 379.5h.7M349.5 400.0h.7M350.7 396.8h.7M351.8 401.4h.7M353.7 408.2h.7M357.2 406.2h.7M358.1 392.2h.7M355.2 394.8h.7M354.7 378.0h.7M364.3 396.8h.7M349.8 406.3h.7M349.6 414.9h.7M353.1 384.4h.7M353.0 376.2h.7M355.6 390.6h.7M356.7 387.2h.7M355.2 403.6h.7M356.8 408.3h.7M361.7 402.5h.7M349.4 414.8h.7M358.1 392.2h.7M351.2 420.7h.7M349.4 429.0h.7M349.3 410.3h.7M352.3 382.4h.7M349.5 392.2h.7M358.8 389.6h.7M352.6 388.5h.7M360.2 388.1h.7M353.3 382.7h.7M360.5 388.4h.7M350.9 384.2h.7M350.1 419.6h.7M355.4 412.9h.7M349.5 374.0h.7M351.0 391.1h.7M353.5 386.8h.7M349.3 404.2h.7M353.2 401.0h.7M359.1 407.2h.7M355.0 382.8h.7M352.6 413.8h.7M349.5 397.2h.7M354.0 376.7h.7M355.8 409.1h.7M349.7 405.9h.7M355.7 387.0h.7M350.7 390.8h.7M350.3 393.5h.7M349.3 397.8h.7M350.2 391.7h.7M349.3 385.2h.7M360.1 387.9h.7M351.1 401.1h.7M352.3 400.4h.7M360.8 399.9h.7M363.5 390.3h.7M349.5 410.4h.7M349.8 392.2h.7M360.0 401.2h.7M350.1 386.7h.7M349.6 363.0h.7M350.1 390.7h.7M355.1 398.4h.7M364.3 396.3h.7M350.5 382.0h.7M351.0 411.0h.7M353.5 384.0h.7M352.8 375.6h.7M360.0 400.0h.7M361.8 387.1h.7M355.6 380.9h.7M352.8 414.7h.7M352.5 393.1h.7M349.3 379.5h.7M350.8 384.8h.7M358.1 393.5h.7M357.4 381.5h.7M363.9 399.3h.7M350.4 383.2h.7M350.9 399.0h.7M356.8 392.5h.7M360.1 386.9h.7M356.1 387.2h.7M356.3 408.3h.7M355.3 378.6h.7M357.4 385.5h.7M350.5 395.4h.7M355.0 410.6h.7M359.3 407.3h.7M350.4 374.6h.7M350.7 421.7h.7M349.7 376.7h.7M361.6 390.1h.7M359.6 390.0h.7M357.2 380.3h.7M352.0 375.6h.7M349.9 405.3h.7M349.3 381.9h.7M351.4 376.4h.7M362.8 398.9h.7M351.4 420.1h.7M350.4 384.5h.7M351.1 395.6h.7M354.2 384.3h.7M350.0 396.2h.7M357.1 381.6h.7M354.8 404.4h.7M358.4 383.7h.7M350.1 421.6h.7M352.7 381.2h.7M353.7 398.0h.7M350.5 395.8h.7M349.5 371.6h.7M354.3 394.8h.7M352.1 398.1h.7M351.9 412.2h.7M349.4 417.4h.7M354.7 403.4h.7M359.8 395.3h.7M353.4 384.7h.7M353.3 416.3h.7M353.0 403.9h.7M353.1 407.4h.7M355.9 405.7h.7M351.9 411.1h.7M362.6 390.6h.7M360.8 404.0h.7M349.6 421.3h.7M350.3 425.1h.7M349.8 407.1h.7M349.5 385.0h.7M350.7 385.5h.7M353.7 377.7h.7M359.9 386.6h.7M354.9 383.5h.7M349.7 378.0h.7M349.5 369.6h.7M352.4 418.9h.7M359.2 407.8h.7M358.6 386.2h.7M354.2 387.9h.7M351.3 383.4h.7M358.4 391.5h.7M349.3 384.4h.7M349.3 409.0h.7M352.1 400.2h.7M349.5 406.8h.7M359.9 406.6h.7M349.7 386.9h.7M349.4 430.0h.7M349.8 373.0h.7M350.0 389.7h.7M351.0 421.3h.7M350.5 381.7h.7M352.1 377.8h.7M351.1 371.3h.7M357.8 391.5h.7M353.5 393.0h.7M350.1 367.2h.7M355.8 381.6h.7M349.4 372.7h.7M356.9 382.2h.7M353.7 407.0h.7M362.7 392.0h.7M355.2 396.2h.7M350.9 388.5h.7M349.5 389.3h.7M350.6 390.4h.7M359.0 399.7h.7M351.1 384.9h.7M351.9 403.8h.7M349.3 395.4h.7M359.0 395.4h.7M355.5 393.1h.7M362.1 389.8h.7M349.6 381.4h.7M354.2 389.5h.7M356.7 408.3h.7M355.0 407.8h.7M360.8 385.6h.7M354.7 409.3h.7M351.6 374.4h.7M349.4 405.6h.7M349.9 388.5h.7M350.0 375.7h.7M350.1 386.0h.7M352.5 373.4h.7M354.6 382.5h.7M351.7 397.4h.7M353.0 385.7h.7M351.1 387.5h.7M359.0 383.3h.7M350.2 378.9h.7M363.7 398.3h.7M349.3 400.0h.7M351.8 383.8h.7M350.0 411.0h.7M354.8 392.9h.7M349.6 385.0h.7M353.2 395.1h.7M351.8 392.7h.7M351.0 394.7h.7M355.1 409.5h.7M356.1 403.8h.7M352.7 401.2h.7M349.7 422.2h.7M357.4 387.9h.7M357.3 396.2h.7M351.8 371.1h.7M356.0 388.5h.7M350.1 397.9h.7M350.4 419.7h.7M351.1 420.7h.7M360.9 396.1h.7M351.0 419.7h.7M354.4 409.6h.7M350.1 395.0h.7M352.6 392.1h.7M351.4 375.4h.7M353.2 379.9h.7M352.3 409.6h.7M349.3 409.8h.7M354.2 388.9h.7M351.0 416.6h.7M358.9 398.1h.7M351.2 399.6h.7M356.8 386.1h.7M350.7 390.7h.7M354.6 397.7h.7M349.4 431.7h.7M352.7 415.5h.7M356.7 392.8h.7M350.2 398.8h.7M351.2 399.6h.7M355.9 395.9h.7M349.3 406.8h.7M355.8 385.6h.7M357.8 391.5h.7M354.7 400.4h.7M353.0 405.3h.7M360.9 402.0h.7M350.7 394.0h.7M349.3 364.5h.7M353.9 399.7h.7M351.8 380.6h.7M349.4 427.1h.7M350.6 387.4h.7M349.7 364.3h.7M360.0 385.2h.7M349.8 382.8h.7M360.7 388.6h.7M354.4 409.8h.7M354.4 392.1h.7M349.3 367.2h.7M351.7 379.9h.7M351.9 395.1h.7M351.6 387.7h.7M358.6 386.0h.7M352.3 373.2h.7M349.9 395.2h.7M354.2 376.6h.7M351.2 404.8h.7M361.5 404.7h.7M354.7 385.8h.7M351.1 404.5h.7M349.4 384.6h.7M350.0 375.1h.7M356.7 380.3h.7M355.0 395.4h.7M350.2 385.0h.7M352.1 418.7h.7M351.6 371.6h.7M353.9 415.5h.7M351.0 417.0h.7M359.0 396.2h.7M353.8 399.6h.7M351.7 395.1h.7M349.4 414.6h.7M353.8 389.2h.7M352.3 398.5h.7M362.6 401.9h.7M349.9 374.6h.7M355.1 401.7h.7M352.3 404.8h.7M350.7 391.5h.7M361.0 388.6h.7M359.7 404.8h.7M364.7 395.3h.7M350.4 402.4h.7M349.7 393.2h.7M351.1 398.6h.7M351.2 390.5h.7M351.0 420.6h.7M352.1 407.2h.7M351.4 409.3h.7M351.8 387.1h.7M360.5 385.5h.7M350.0 391.3h.7M353.9 414.2h.7M350.9 395.8h.7M353.2 396.8h.7M352.8 385.4h.7M351.5 370.6h.7M349.3 402.8h.7M353.3 374.9h.7M354.1 391.2h.7M353.1 395.6h.7M363.1 395.6h.7M359.2 383.4h.7M349.7 418.7h.7M354.6 389.4h.7M357.5 390.5h.7M352.0 375.5h.7M358.1 403.1h.7M349.4 411.7h.7M359.4 391.0h.7M357.1 392.2h.7M349.5 365.7h.7M356.1 388.4h.7M357.1 388.1h.7M354.9 391.5h.7M356.0 392.1h.7M355.5 402.7h.7M349.3 389.3h.7M363.0 400.1h.7M353.9 381.4h.7M350.5 384.2h.7M350.7 405.5h.7M350.1 375.2h.7M349.3 400.5h.7M350.7 415.4h.7M351.3 395.2h.7M350.2 410.5h.7M349.3 421.8h.7M356.8 402.7h.7M350.2 383.6h.7M354.3 389.1h.7M349.7 416.3h.7M357.3 384.1h.7M351.0 397.6h.7M351.7 391.4h.7M352.9 373.3h.7M350.6 404.0h.7M353.5 395.2h.7M349.7 411.9h.7M349.7 423.4h.7M350.0 387.1h.7M349.3 360.4h.7M357.9 383.0h.7M361.3 390.5h.7M362.3 400.4h.7M362.7 399.5h.7M357.8 387.9h.7M350.6 376.1h.7M352.7 391.5h.7M349.3 399.4h.7M351.3 388.4h.7M349.5 415.2h.7M351.3 368.7h.7M360.5 392.1h.7M357.0 383.4h.7M354.1 399.3h.7M352.8 393.7h.7M352.2 387.8h.7M361.8 399.7h.7M356.1 382.0h.7M359.5 392.8h.7M349.5 392.0h.7M362.9 394.5h.7M362.5 396.4h.7M350.1 373.3h.7M356.4 400.1h.7M349.4 362.2h.7M351.5 397.8h.7M349.3 406.8h.7M357.1 394.4h.7M350.5 425.1h.7M353.2 385.8h.7M363.7 393.9h.7M350.5 382.8h.7M353.5 399.2h.7M349.4 426.0h.7M360.4 394.2h.7M359.7 397.2h.7M350.6 420.1h.7M352.4 400.9h.7M357.2 385.1h.7M357.8 387.7h.7M351.1 391.2h.7M355.5 392.2h.7M352.2 394.0h.7M351.1 368.0h.7M351.3 398.8h.7M354.4 390.2h.7M358.3 392.4h.7M352.6 404.6h.7M356.7 392.2h.7M358.3 405.6h.7M352.1 415.1h.7M350.2 376.9h.7M352.1 377.8h.7M350.0 410.7h.7M350.3 379.8h.7M362.2 395.2h.7M355.1 387.7h.7M363.1 401.6h.7M353.1 383.6h.7M357.3 392.6h.7M352.3 371.4h.7M356.9 383.3h.7M358.8 386.4h.7M351.7 392.1h.7M349.9 397.4h.7M353.5 382.2h.7M349.9 362.2h.7M351.1 414.0h.7M350.0 376.2h.7M349.8 389.8h.7M349.7 427.1h.7M352.3 402.2h.7M350.0 401.8h.7M356.3 392.5h.7M355.5 385.6h.7M352.2 394.8h.7M357.9 393.5h.7M350.6 390.9h.7M357.3 384.8h.7M349.8 400.0h.7M353.1 396.9h.7M349.5 413.5h.7M350.2 401.3h.7M351.5 400.0h.7M351.0 408.3h.7M354.0 384.4h.7M352.5 398.8h.7M352.8 418.5h.7M351.4 382.1h.7M350.5 388.4h.7M349.3 375.1h.7M357.3 384.0h.7M352.6 403.5h.7M350.0 384.4h.7M349.3 405.4h.7M354.7 413.5h.7M349.7 401.5h.7M353.7 404.7h.7M350.0 404.3h.7M362.7 398.8h.7M349.6 379.6h.7M352.2 419.5h.7M350.7 394.0h.7M353.0 373.1h.7M350.5 372.6h.7M349.7 366.7h.7M359.3 385.4h.7M349.7 413.5h.7M354.1 412.5h.7M361.2 393.1h.7M356.4 382.1h.7M353.1 391.6h.7M354.0 386.9h.7M351.1 400.5h.7M358.3 390.9h.7M355.7 392.3h.7M359.4 397.7h.7M349.4 370.7h.7M355.8 389.4h.7M350.4 413.2h.7M353.1 401.2h.7M354.8 407.6h.7M353.3 402.4h.7M356.7 398.1h.7M354.6 394.3h.7M359.8 393.3h.7M350.5 372.9h.7M349.8 389.0h.7M349.7 381.8h.7M353.5 400.7h.7M354.9 393.0h.7M349.4 377.1h.7M358.4 390.6h.7M349.5 392.7h.7M352.1 411.1h.7M349.5 419.0h.7M352.2 372.7h.7M352.4 373.8h.7M350.6 396.0h.7M356.7 380.0h.7M362.8 397.2h.7M358.6 383.5h.7M349.4 375.2h.7M349.9 408.7h.7M354.6 377.4h.7M350.1 399.3h.7M350.4 371.2h.7M351.0 387.4h.7M354.6 399.8h.7M350.5 397.0h.7M350.3 392.1h.7M354.3 376.9h.7M350.2 403.2h.7M355.3 394.0h.7M356.3 401.9h.7M352.1 412.6h.7M351.3 374.5h.7M363.7 390.8h.7M356.7 399.6h.7M350.1 414.2h.7M357.6 380.7h.7M356.6 406.6h.7M353.4 401.3h.7M349.4 385.7h.7M353.2 375.7h.7M364.4 395.9h.7M351.8 376.4h.7M349.3 401.4h.7M349.4 405.3h.7M352.5 384.5h.7M352.4 380.6h.7M350.8 389.8h.7M357.1 399.8h.7M352.6 394.5h.7M349.8 395.3h.7M355.6 401.3h.7M355.3 388.0h.7M354.0 390.1h.7M349.6 377.6h.7M350.0 386.2h.7M349.7 399.3h.7M353.9 412.9h.7M350.5 416.0h.7M357.3 395.6h.7M355.8 393.4h.7M352.5 406.7h.7M356.4 379.9h.7M362.6 396.5h.7M349.4 405.4h.7M350.4 408.8h.7M349.5 398.1h.7M355.6 395.0h.7M363.3 397.5h.7M356.0 389.9h.7M354.2 388.5h.7M349.9 410.8h.7M350.3 414.4h.7M362.2 396.7h.7M359.6 391.4h.7M361.3 395.7h.7M359.2 396.9h.7M350.6 416.8h.7M350.9 390.7h.7M349.4 387.8h.7M352.0 389.5h.7M361.3 395.5h.7M352.1 416.0h.7M353.7 397.1h.7M354.2 378.6h.7M355.2 405.8h.7M363.9 396.9h.7M349.3 389.8h.7M349.6 368.6h.7M363.4 393.5h.7M351.9 373.5h.7M351.1 408.2h.7M349.6 371.1h.7M353.8 379.7h.7M355.5 405.7h.7M355.7 380.6h.7M358.2 397.4h.7M356.9 386.5h.7M354.0 406.6h.7M356.7 398.7h.7M349.6 386.8h.7M349.4 389.1h.7M349.8 399.4h.7M349.9 384.4h.7M349.4 400.7h.7M351.9 375.7h.7M357.6 390.1h.7M356.3 395.8h.7M352.5 400.3h.7M359.1 385.3h.7M349.4 417.9h.7M354.0 375.5h.7M349.4 417.2h.7M349.4 393.6h.7M360.1 389.2h.7M359.3 388.2h.7M352.6 412.9h.7M349.8 396.8h.7M358.5 389.5h.7M353.4 392.2h.7M349.3 384.2h.7M358.7 395.9h.7M351.8 384.6h.7M352.3 410.2h.7M350.1 364.4h.7M353.3 397.9h.7M353.7 397.7h.7M358.4 393.7h.7M353.3 407.6h.7M349.7 389.9h.7M351.0 369.5h.7M350.7 395.1h.7M359.6 394.8h.7M354.6 394.2h.7M354.6 395.6h.7M354.6 393.0h.7M351.9 403.6h.7M362.5 390.3h.7M351.2 404.4h.7M354.4 390.9h.7M349.5 375.3h.7M359.8 399.0h.7M357.9 399.6h.7M352.4 391.1h.7M350.8 413.7h.7M349.4 417.5h.7M354.9 378.2h.7M351.0 386.5h.7M362.5 394.0h.7M357.3 408.4h.7M351.0 395.5h.7M354.3 411.3h.7M359.0 391.4h.7M351.8 402.9h.7M350.0 405.2h.7M356.4 384.6h.7M349.8 411.8h.7M351.2 416.7h.7M349.9 386.8h.7M349.5 422.4h.7M350.5 388.9h.7" stroke="#9dd3f7" stroke-width="0.8" fill="none"/>
<line x1="349.30" y1="351.35" x2="349.30" y2="439.50" stroke="#9fd4f7" stroke-width="0.9"/>
<path d="M416.66,441.55 L416.76,439.16 L416.88,436.77 L417.04,434.38 L417.24,431.98 L417.50,429.59 L417.81,427.20 L418.18,424.81 L418.63,422.42 L419.16,420.03 L419.78,417.63 L420.47,415.24 L421.25,412.85 L422.11,410.46 L423.04,408.07 L424.03,405.68 L425.06,403.28 L426.10,400.89 L427.13,398.50 L428.13,396.11 L429.07,393.72 L429.91,391.32 L430.63,388.93 L431.21,386.54 L431.62,384.15 L431.85,381.76 L431.89,379.37 L431.74,376.98 L431.41,374.58 L430.90,372.19 L430.24,369.80 L429.44,367.41 L428.55,365.02 L427.57,362.62 L426.55,360.23 L425.50,357.84 L424.47,355.45 L423.46,353.06 L422.51,350.67 L421.61,348.28 L420.80,345.88 L420.06,343.49 L419.42,341.10 L418.85,338.71 L418.37,336.32 L417.96,333.93 L417.62,331.53 L417.35,329.14 L417.12,326.75 L416.95,324.36 L416.81,321.97 L416.70,319.58 L416.62,317.18 L416.56,314.79 L416.51,312.40 L416.48,310.01 L416.45,307.62 L416.44,305.23 L416.42,302.83 L416.42,300.44 L416.41,298.05" fill="none" stroke="#bfe2fa" stroke-width="0.6"/>
<path d="M427.0 390.7h.7M416.7 348.2h.7M419.0 371.0h.7M421.2 366.6h.7M417.5 369.9h.7M427.6 363.8h.7M431.0 381.4h.7M416.9 389.9h.7M417.5 426.2h.7M418.0 338.9h.7M423.0 393.1h.7M416.9 374.4h.7M416.5 374.3h.7M418.9 359.5h.7M421.5 371.6h.7M419.0 412.1h.7M422.7 391.6h.7M420.4 377.3h.7M420.7 382.7h.7M417.0 427.0h.7M418.1 380.2h.7M421.9 402.6h.7M420.5 353.0h.7M422.5 405.5h.7M420.3 393.2h.7M417.6 407.9h.7M420.4 386.8h.7M426.6 387.1h.7M418.2 387.0h.7M418.1 409.6h.7M418.1 408.9h.7M424.4 371.7h.7M423.4 367.7h.7M426.7 385.9h.7M426.5 399.2h.7M416.5 364.0h.7M425.5 392.3h.7M430.4 383.5h.7M422.5 389.9h.7M422.6 381.2h.7M424.1 385.3h.7M422.3 405.3h.7M424.9 402.0h.7M417.9 383.1h.7M425.9 388.7h.7M416.8 399.7h.7M416.5 360.0h.7M418.6 382.0h.7M420.6 382.9h.7M420.6 378.0h.7M418.4 386.5h.7M417.5 399.1h.7M422.3 382.8h.7M416.5 431.0h.7M417.8 373.2h.7M416.9 400.4h.7M423.9 373.5h.7M417.4 418.7h.7M428.2 394.3h.7M419.5 385.9h.7M422.0 405.6h.7M418.2 410.5h.7M417.0 387.5h.7M422.1 354.0h.7M417.5 405.7h.7M417.5 346.8h.7M417.6 380.6h.7M416.4 357.4h.7M418.3 383.1h.7M418.3 397.3h.7M420.9 402.6h.7M424.6 377.1h.7M420.4 412.2h.7M416.4 342.4h.7M422.8 358.1h.7M416.5 421.3h.7M416.4 365.1h.7M416.4 406.6h.7M417.1 350.0h.7M416.9 389.4h.7M426.0 370.2h.7M419.1 367.8h.7M421.4 353.3h.7M416.6 341.9h.7M422.5 357.2h.7M422.2 398.7h.7M421.0 350.2h.7M417.2 403.5h.7M425.4 389.4h.7M418.7 404.8h.7M417.8 359.8h.7M417.6 398.5h.7M416.6 364.0h.7M419.7 360.8h.7M420.6 364.6h.7M420.4 360.3h.7M428.3 378.4h.7M421.3 381.9h.7M421.1 409.5h.7M419.4 392.3h.7M416.4 427.8h.7M420.0 353.3h.7M423.7 383.4h.7M425.0 384.0h.7M427.2 362.5h.7M421.7 388.1h.7M416.4 425.8h.7M425.6 375.6h.7M426.5 393.9h.7M419.2 393.9h.7M421.5 406.0h.7M417.9 375.9h.7M420.4 400.8h.7M427.1 371.1h.7M419.9 390.8h.7M417.5 341.1h.7M431.1 383.5h.7M420.5 354.7h.7M419.1 375.0h.7M418.1 398.7h.7M421.5 406.2h.7M416.5 395.8h.7M422.3 387.7h.7M416.4 424.2h.7M417.7 380.8h.7M430.0 377.8h.7M422.1 404.5h.7M425.2 399.9h.7M420.8 402.8h.7M422.4 399.3h.7M417.1 406.8h.7M422.2 398.6h.7M416.5 415.3h.7M417.5 370.5h.7M419.7 343.9h.7M424.0 371.5h.7M421.3 407.2h.7M419.0 350.7h.7M420.6 381.0h.7M418.3 361.8h.7M422.4 408.0h.7M416.6 367.0h.7M417.0 385.6h.7M427.6 382.6h.7M417.0 423.0h.7M416.4 402.0h.7M424.8 401.9h.7M426.7 361.3h.7M416.7 402.0h.7M424.3 376.6h.7M416.4 377.2h.7M416.4 368.0h.7M430.8 384.5h.7M416.8 390.1h.7M416.4 372.3h.7M425.2 388.3h.7M417.7 378.4h.7M416.4 345.1h.7M428.3 374.9h.7M419.2 413.7h.7M420.8 353.9h.7M420.2 364.7h.7M427.9 365.0h.7M425.4 386.8h.7M424.4 376.4h.7M427.9 379.8h.7M423.6 363.7h.7M417.4 371.1h.7M416.6 364.1h.7M418.7 399.1h.7M421.9 400.7h.7M417.2 390.5h.7M424.1 374.1h.7M421.5 399.6h.7M423.9 398.5h.7M429.0 369.6h.7M418.8 374.0h.7M416.5 407.2h.7M420.0 346.9h.7M419.3 385.5h.7M417.5 426.7h.7M418.1 416.6h.7M428.5 388.2h.7M418.6 358.8h.7M427.8 391.7h.7M421.6 406.8h.7M418.5 380.3h.7M420.6 378.8h.7M420.2 413.9h.7M416.5 400.6h.7M424.7 360.4h.7M418.3 414.1h.7M427.2 386.3h.7M417.8 338.5h.7M416.7 363.0h.7M422.1 390.3h.7M426.3 375.8h.7M427.8 393.8h.7M425.0 377.1h.7M418.4 350.8h.7M426.3 375.6h.7M424.7 364.2h.7M426.7 389.0h.7M426.9 377.7h.7M429.4 377.0h.7M421.9 351.9h.7M420.1 404.3h.7M417.7 383.4h.7M425.3 375.2h.7M419.2 367.3h.7M420.1 400.1h.7M417.2 388.7h.7M416.4 309.2h.7M416.7 359.7h.7M416.9 405.5h.7M419.5 408.1h.7M416.4 394.7h.7M416.5 358.5h.7M417.1 337.0h.7M423.0 382.7h.7M420.7 382.8h.7M419.6 342.7h.7M430.8 375.7h.7M416.8 419.6h.7M417.4 366.0h.7M416.8 376.7h.7M422.4 354.0h.7M420.8 371.4h.7M416.4 335.4h.7M422.0 395.4h.7M429.8 388.7h.7M418.3 373.5h.7M422.5 408.4h.7M423.6 392.2h.7M417.1 398.4h.7M428.1 365.4h.7M416.5 364.8h.7M418.4 380.8h.7M422.2 407.8h.7M419.1 342.8h.7M418.7 343.9h.7M423.5 369.0h.7M417.2 372.8h.7M426.6 380.7h.7M417.4 350.0h.7M422.4 392.1h.7M419.3 379.5h.7M418.2 390.2h.7M417.2 362.5h.7M417.7 362.7h.7M416.4 359.9h.7M421.1 354.7h.7M430.2 378.1h.7M418.0 374.6h.7M418.8 340.5h.7M417.0 397.5h.7M429.1 389.2h.7M428.3 376.9h.7M418.7 396.4h.7M424.9 397.1h.7M416.7 410.0h.7M418.0 375.8h.7M418.5 348.1h.7M417.1 368.2h.7M419.9 368.4h.7M417.2 392.3h.7M419.3 385.5h.7M416.6 339.2h.7M425.5 398.9h.7M417.0 379.0h.7M428.8 372.8h.7M424.9 381.0h.7M418.7 374.1h.7M417.5 356.3h.7M431.1 373.9h.7M426.6 360.5h.7M418.6 371.4h.7M429.3 384.5h.7M417.2 347.6h.7M429.2 367.8h.7M417.0 341.2h.7M417.2 376.1h.7M417.4 339.4h.7M417.6 379.6h.7M416.6 423.6h.7M421.0 361.3h.7M426.0 371.3h.7M424.7 369.7h.7M416.8 377.2h.7M423.2 371.8h.7M417.5 397.3h.7M423.8 379.6h.7M422.6 390.4h.7M416.7 418.0h.7M417.7 348.0h.7M424.1 366.0h.7M417.1 343.1h.7M426.3 366.7h.7M416.4 363.5h.7M425.6 398.9h.7M416.7 423.2h.7M417.6 373.7h.7M417.3 369.9h.7M418.9 398.0h.7M422.2 381.8h.7M421.0 381.2h.7M424.6 390.9h.7M427.8 381.1h.7M424.2 367.5h.7M419.3 394.2h.7M429.0 380.0h.7M430.0 387.7h.7M419.3 405.9h.7M422.5 379.2h.7M416.5 324.2h.7M417.5 372.7h.7M425.9 367.0h.7M416.5 370.2h.7M417.0 352.6h.7M416.4 361.0h.7M419.7 402.9h.7M423.2 396.5h.7M419.0 345.4h.7M416.5 353.9h.7M420.3 362.1h.7M418.0 362.5h.7M417.0 364.2h.7M421.9 364.8h.7M422.7 372.2h.7M425.5 389.4h.7M425.3 359.4h.7M417.4 345.5h.7M417.8 416.2h.7M418.9 360.3h.7M417.2 345.3h.7M417.9 393.5h.7M429.4 391.8h.7M423.7 360.2h.7M419.9 346.3h.7M416.5 400.7h.7M417.0 433.9h.7M418.3 386.0h.7M418.0 406.9h.7M421.2 365.7h.7M419.9 359.3h.7M416.4 370.4h.7M418.9 343.6h.7M418.2 336.3h.7M422.5 406.3h.7M421.6 409.1h.7M417.2 349.9h.7M424.7 373.4h.7M429.9 384.0h.7M419.9 353.4h.7M420.8 380.1h.7M423.3 354.0h.7M424.3 384.3h.7M416.9 362.2h.7M417.1 424.7h.7M417.2 410.1h.7M416.8 406.1h.7M417.1 374.5h.7M419.8 367.9h.7M418.4 366.9h.7M422.7 379.7h.7M427.3 370.8h.7M421.3 401.6h.7M417.4 397.9h.7M422.5 385.9h.7M420.6 403.2h.7M417.7 398.3h.7M418.0 376.5h.7M420.7 401.1h.7M416.4 381.7h.7M417.3 405.8h.7M418.2 345.8h.7M427.3 397.6h.7M418.9 379.1h.7M416.7 378.3h.7M427.0 392.6h.7M419.9 387.2h.7M420.9 377.2h.7M418.1 381.0h.7M429.4 390.4h.7M419.4 380.9h.7M419.1 392.5h.7M426.4 393.5h.7M421.8 406.6h.7M419.0 415.1h.7M426.5 384.0h.7M418.5 417.3h.7M429.5 374.2h.7M416.4 349.7h.7M420.0 348.8h.7M425.2 401.7h.7M422.0 393.0h.7M420.4 412.8h.7M421.5 361.5h.7M419.9 397.2h.7M423.6 363.8h.7M422.6 385.8h.7M418.7 359.4h.7M425.4 396.6h.7M418.0 346.0h.7M418.6 392.9h.7M417.2 375.3h.7M416.6 405.3h.7M427.8 393.0h.7M424.6 398.6h.7M419.7 343.0h.7M429.3 373.6h.7M416.4 358.3h.7M418.9 353.5h.7M429.1 371.9h.7M431.6 376.1h.7M419.1 406.5h.7M417.6 412.6h.7M419.7 383.6h.7M427.0 396.6h.7M423.9 391.3h.7M419.6 389.8h.7M420.3 381.6h.7M422.5 406.1h.7M429.4 390.6h.7M420.7 403.2h.7M431.7 378.1h.7M425.5 394.7h.7M417.0 358.0h.7M422.4 404.8h.7M416.6 325.8h.7M418.8 345.0h.7M421.0 350.8h.7M416.9 335.1h.7M417.4 382.8h.7M421.7 386.4h.7M417.0 355.1h.7M422.5 367.5h.7M417.8 352.4h.7M416.4 349.5h.7M420.5 381.3h.7M425.1 375.7h.7M416.4 398.0h.7M422.1 393.9h.7M418.0 341.1h.7M422.3 371.7h.7M417.6 356.2h.7M428.1 396.1h.7M420.6 401.2h.7M417.3 389.3h.7M426.3 374.2h.7M417.4 372.3h.7M422.0 373.9h.7M425.7 366.9h.7M416.5 406.6h.7M417.1 343.2h.7M425.7 377.2h.7M418.4 388.0h.7M416.8 369.6h.7M418.2 356.6h.7M419.9 396.2h.7M429.0 385.5h.7M423.1 375.3h.7M420.8 357.6h.7M418.3 385.9h.7M417.4 332.2h.7M418.6 366.5h.7M417.3 348.2h.7M420.4 403.6h.7M423.9 355.7h.7M418.2 386.3h.7M417.2 406.4h.7M418.0 358.2h.7M424.2 362.5h.7M417.7 397.5h.7M417.5 370.7h.7M426.9 362.1h.7M417.0 387.0h.7M419.2 353.3h.7M416.6 396.5h.7M416.9 365.6h.7M418.1 370.9h.7M417.3 397.8h.7M416.5 383.4h.7M422.9 364.6h.7M425.1 386.9h.7M416.8 369.5h.7M417.1 385.1h.7M417.2 339.5h.7M417.0 360.0h.7M417.4 413.4h.7M430.7 383.7h.7M417.3 400.7h.7M417.3 355.7h.7M420.8 387.8h.7M417.6 357.1h.7M423.2 355.3h.7M417.8 397.6h.7M422.9 390.8h.7M417.0 369.9h.7M417.2 337.6h.7M424.2 396.5h.7M420.0 384.6h.7M418.5 395.4h.7M418.5 403.4h.7M426.9 368.5h.7M419.1 373.1h.7M422.7 385.4h.7M419.5 388.9h.7M416.6 398.1h.7M419.1 380.1h.7M425.8 378.4h.7M418.4 369.0h.7M418.5 418.8h.7M422.3 353.2h.7M418.5 372.7h.7M416.5 388.8h.7M419.0 393.6h.7M418.1 408.8h.7M417.8 398.1h.7M421.6 408.1h.7M417.2 398.2h.7M416.7 355.8h.7M420.0 350.2h.7M416.5 398.3h.7M417.6 367.7h.7M419.0 376.9h.7M419.0 384.5h.7M424.2 375.9h.7M421.2 362.4h.7M418.5 342.8h.7M425.2 380.7h.7M418.2 357.1h.7M418.2 339.2h.7M418.8 379.8h.7M417.6 339.3h.7M416.5 368.8h.7M427.3 379.7h.7M417.7 369.6h.7M416.5 349.3h.7M422.6 398.4h.7M421.4 408.1h.7M417.8 357.9h.7M416.9 336.1h.7M422.4 352.2h.7M426.3 392.7h.7M418.8 413.0h.7M425.0 386.9h.7M420.7 377.9h.7M416.5 429.3h.7M426.6 383.7h.7M420.0 347.8h.7M418.3 371.0h.7M416.7 434.5h.7M421.1 396.4h.7M419.7 380.0h.7M420.3 372.5h.7M417.2 374.5h.7M423.0 362.3h.7M418.1 387.7h.7M421.1 394.0h.7M416.7 427.5h.7M418.3 363.0h.7M422.4 371.1h.7M419.2 387.9h.7M425.5 369.2h.7M417.0 404.9h.7M420.3 394.6h.7M421.6 405.2h.7M418.7 374.9h.7M419.5 389.3h.7M418.7 378.0h.7M417.7 372.7h.7M417.0 387.1h.7M418.1 402.4h.7M417.1 400.1h.7M416.7 376.1h.7M416.5 313.2h.7M416.8 375.5h.7M422.0 392.4h.7M416.4 439.1h.7M417.1 403.0h.7M422.6 378.4h.7M417.0 331.8h.7M424.1 377.5h.7M417.2 351.3h.7M418.0 392.4h.7M426.8 376.8h.7M428.1 376.1h.7M424.2 384.0h.7M426.4 366.8h.7M425.7 368.3h.7M427.7 385.9h.7M417.6 381.0h.7M424.2 399.2h.7M422.2 388.9h.7M418.8 361.4h.7M416.5 372.3h.7M421.8 393.9h.7M420.4 407.7h.7M421.9 408.8h.7M419.4 356.4h.7M417.3 388.6h.7M416.7 388.8h.7M420.4 353.0h.7M429.1 368.0h.7M416.7 360.1h.7M417.2 357.6h.7M425.6 374.3h.7M418.4 338.8h.7M427.2 379.3h.7M422.8 395.7h.7M421.7 372.1h.7M419.7 397.3h.7M424.1 370.8h.7M417.0 358.6h.7M416.8 421.4h.7M417.9 406.0h.7M417.6 370.4h.7M420.0 363.7h.7M429.8 370.4h.7M420.0 343.8h.7M424.5 403.4h.7M416.5 408.7h.7M420.4 406.9h.7M421.8 394.0h.7M428.9 391.5h.7M417.3 410.9h.7M419.5 376.3h.7M417.7 376.2h.7M425.0 383.4h.7M424.1 388.6h.7M419.9 377.1h.7M420.4 399.6h.7M422.2 390.9h.7M417.5 388.5h.7M428.8 373.6h.7M427.5 390.1h.7M418.4 383.2h.7M417.6 358.1h.7M420.6 365.2h.7M421.7 394.6h.7M417.0 385.2h.7M416.5 408.6h.7M420.4 382.4h.7M424.2 359.3h.7M422.0 369.7h.7M417.0 388.0h.7M420.4 415.4h.7M428.1 381.8h.7M419.8 389.9h.7M419.6 354.1h.7M417.3 332.0h.7M416.5 355.7h.7M417.2 351.8h.7M423.4 382.7h.7M417.9 377.3h.7M420.2 390.5h.7M420.7 347.9h.7M418.6 411.7h.7M421.5 410.2h.7M425.5 371.1h.7M419.2 389.5h.7M427.9 377.3h.7M416.6 412.4h.7M423.9 404.6h.7M421.2 354.9h.7M416.6 351.8h.7M422.3 372.1h.7M430.0 376.6h.7M424.1 390.0h.7M421.0 380.5h.7M426.0 366.0h.7M416.4 389.3h.7M417.0 385.2h.7M422.7 375.7h.7M418.4 393.1h.7M417.2 388.2h.7M424.8 399.5h.7M420.1 412.0h.7M429.8 387.9h.7M417.0 360.4h.7M421.9 378.3h.7M416.4 353.1h.7M416.9 407.7h.7M419.5 366.5h.7M418.4 409.6h.7M418.6 357.4h.7M419.8 345.2h.7M419.2 386.6h.7M417.9 385.5h.7M416.5 357.5h.7M417.2 397.8h.7M421.6 395.6h.7M419.0 361.5h.7M423.2 381.5h.7M419.4 378.2h.7M424.7 356.4h.7M416.5 377.0h.7M417.9 360.5h.7M417.5 354.6h.7M421.3 396.8h.7M422.3 380.1h.7M416.4 315.4h.7M421.0 398.0h.7M426.6 374.3h.7M417.4 423.4h.7M418.3 393.6h.7M424.9 395.3h.7M418.6 344.6h.7M417.0 416.5h.7M422.0 377.1h.7M418.5 415.2h.7M419.4 396.1h.7M416.5 358.1h.7M430.1 390.0h.7M420.3 363.8h.7M418.0 390.9h.7M419.1 368.1h.7M429.0 378.3h.7M421.1 378.1h.7M417.6 406.3h.7M417.4 370.7h.7M418.4 363.4h.7M425.5 372.7h.7M416.7 428.1h.7M426.8 396.1h.7M417.5 387.7h.7M423.1 384.4h.7M423.2 359.9h.7M420.7 381.6h.7M421.5 374.6h.7M429.1 386.0h.7M416.5 382.7h.7M417.2 363.7h.7M418.0 383.9h.7M417.6 346.7h.7M427.8 371.1h.7M419.9 352.2h.7M429.1 368.5h.7M418.6 347.0h.7M419.9 345.6h.7M418.5 361.3h.7M422.0 371.0h.7M427.7 369.5h.7M416.9 411.1h.7M417.0 417.6h.7M420.4 380.2h.7M419.4 411.2h.7M420.5 383.9h.7M416.5 373.7h.7M420.8 393.7h.7M422.2 393.9h.7M416.4 381.1h.7M423.8 356.1h.7M416.4 438.7h.7M420.2 405.0h.7M416.8 383.2h.7M417.0 399.0h.7M416.6 357.1h.7M421.1 351.3h.7M420.2 403.8h.7M421.8 367.6h.7M418.6 396.1h.7M421.6 404.4h.7M426.7 381.7h.7M419.5 346.2h.7M428.7 393.5h.7M417.7 345.5h.7M430.2 384.7h.7M416.8 354.3h.7M420.7 355.6h.7M426.9 378.7h.7M416.6 422.3h.7M417.1 330.6h.7M417.1 375.7h.7M416.6 377.3h.7M416.9 407.4h.7M430.5 380.4h.7M417.5 388.2h.7M425.4 370.9h.7M416.5 368.8h.7M426.6 386.1h.7M421.8 377.2h.7M416.5 319.0h.7M419.3 401.6h.7M417.3 348.0h.7M425.4 371.6h.7M416.7 385.9h.7M426.7 393.4h.7M416.6 397.3h.7M425.1 400.4h.7M429.5 388.7h.7M418.1 390.7h.7M418.2 391.0h.7M417.5 394.3h.7M426.2 373.7h.7M429.8 391.4h.7M417.7 394.2h.7M427.2 391.4h.7M428.6 385.4h.7M427.8 383.9h.7M417.0 344.3h.7M427.5 392.2h.7M417.0 358.4h.7M420.5 392.0h.7M419.6 406.5h.7M427.7 369.1h.7M419.4 390.0h.7M417.5 372.1h.7M418.2 422.2h.7M416.4 362.0h.7M417.0 380.6h.7M429.8 377.1h.7M417.3 380.5h.7M417.5 380.9h.7M424.3 389.8h.7M426.6 363.5h.7M424.7 369.5h.7M416.4 335.8h.7M416.7 420.6h.7M416.5 371.4h.7M418.3 411.8h.7M416.9 377.4h.7M416.4 357.4h.7M425.1 361.3h.7M417.0 381.1h.7M420.2 391.6h.7M417.6 379.1h.7M426.0 384.9h.7M421.2 391.2h.7M420.6 364.7h.7M427.8 367.0h.7M430.0 388.8h.7M427.4 367.9h.7M417.6 382.1h.7M417.9 397.1h.7M421.8 374.2h.7M420.4 377.4h.7M416.4 399.2h.7M424.8 387.2h.7M421.3 395.5h.7M421.6 402.2h.7M417.6 336.5h.7M420.2 384.9h.7M429.9 389.4h.7M418.8 359.6h.7M417.0 396.7h.7M428.7 365.5h.7M421.8 350.6h.7M418.4 379.1h.7M417.8 396.1h.7M417.5 393.5h.7M420.2 349.2h.7M422.3 352.4h.7M417.4 348.5h.7M423.6 369.9h.7M426.9 397.9h.7M416.4 385.7h.7M422.0 381.1h.7M417.4 422.2h.7M422.3 364.3h.7M426.3 380.6h.7M418.4 404.6h.7M419.7 356.6h.7M417.9 404.6h.7M421.2 401.1h.7M422.3 394.8h.7M418.5 384.1h.7M422.4 359.6h.7M421.2 393.3h.7M417.1 395.1h.7M430.2 377.8h.7M419.3 405.8h.7M427.5 384.8h.7M427.9 379.1h.7M420.4 366.8h.7M422.9 405.7h.7M420.8 411.2h.7M423.9 359.7h.7M427.5 374.4h.7M418.2 371.1h.7M416.9 371.4h.7M419.5 404.2h.7M418.1 349.6h.7M427.1 361.7h.7M424.2 368.7h.7M422.5 403.4h.7M426.0 372.4h.7M418.7 360.9h.7M419.2 353.8h.7M419.5 378.4h.7M418.7 359.4h.7M421.8 365.7h.7M416.6 378.4h.7M418.2 365.2h.7M417.4 349.2h.7M416.8 378.0h.7M417.7 339.3h.7M420.3 370.9h.7M425.9 391.2h.7" stroke="#9dd3f7" stroke-width="0.8" fill="none"/>
<line x1="416.40" y1="298.05" x2="416.40" y2="441.55" stroke="#9fd4f7" stroke-width="0.9"/>
<line x1="335.50" y1="359.96" x2="335.50" y2="386.20" stroke="#333" stroke-width="0.9"/>
<line x1="335.50" y1="404.04" x2="335.50" y2="429.25" stroke="#333" stroke-width="0.9"/>
<line x1="330.30" y1="359.96" x2="340.70" y2="359.96" stroke="#333" stroke-width="0.9"/>
<line x1="330.30" y1="429.25" x2="340.70" y2="429.25" stroke="#333" stroke-width="0.9"/>
<rect x="325.40" y="386.20" width="20.20" height="17.84" fill="#bde3fb" stroke="#333" stroke-width="0.9"/>
<line x1="325.40" y1="395.84" x2="345.60" y2="395.84" stroke="#4a5a66" stroke-width="1.2"/>
<line x1="402.50" y1="318.14" x2="402.50" y2="363.65" stroke="#333" stroke-width="0.9"/>
<line x1="402.50" y1="395.63" x2="402.50" y2="433.76" stroke="#333" stroke-width="0.9"/>
<line x1="397.30" y1="318.14" x2="407.70" y2="318.14" stroke="#333" stroke-width="0.9"/>
<line x1="397.30" y1="433.76" x2="407.70" y2="433.76" stroke="#333" stroke-width="0.9"/>
<rect x="392.40" y="363.65" width="20.20" height="31.98" fill="#bde3fb" stroke="#333" stroke-width="0.9"/>
<line x1="392.40" y1="381.28" x2="412.60" y2="381.28" stroke="#4a5a66" stroke-width="1.2"/>
<rect x="315.20" y="276.50" width="133.80" height="175.50" fill="none" stroke="#555" stroke-width="0.9"/>
<line x1="312.60" y1="431.30" x2="315.20" y2="431.30" stroke="#333" stroke-width="0.9"/>
<text x="311.60" y="434.80" font-size="10.2" text-anchor="end" fill="#111" font-weight="normal">&#8722;20</text>
<line x1="312.60" y1="390.30" x2="315.20" y2="390.30" stroke="#333" stroke-width="0.9"/>
<text x="311.60" y="393.80" font-size="10.2" text-anchor="end" fill="#111" font-weight="normal">0</text>
<line x1="312.60" y1="349.30" x2="315.20" y2="349.30" stroke="#333" stroke-width="0.9"/>
<text x="311.60" y="352.80" font-size="10.2" text-anchor="end" fill="#111" font-weight="normal">20</text>
<line x1="312.60" y1="308.30" x2="315.20" y2="308.30" stroke="#333" stroke-width="0.9"/>
<text x="311.60" y="311.80" font-size="10.2" text-anchor="end" fill="#111" font-weight="normal">40</text>
<line x1="313.70" y1="451.80" x2="315.20" y2="451.80" stroke="#333" stroke-width="0.8"/>
<line x1="313.70" y1="410.80" x2="315.20" y2="410.80" stroke="#333" stroke-width="0.8"/>
<line x1="313.70" y1="369.80" x2="315.20" y2="369.80" stroke="#333" stroke-width="0.8"/>
<line x1="313.70" y1="328.80" x2="315.20" y2="328.80" stroke="#333" stroke-width="0.8"/>
<line x1="313.70" y1="287.80" x2="315.20" y2="287.80" stroke="#333" stroke-width="0.8"/>
<line x1="349.30" y1="452.00" x2="349.30" y2="454.60" stroke="#333" stroke-width="0.9"/>
<line x1="416.40" y1="452.00" x2="416.40" y2="454.60" stroke="#333" stroke-width="0.9"/>
<text x="349.0" y="463.8" font-size="10.3" text-anchor="middle" fill="#111">HO-heme-O<tspan font-size="7.2" dy="2.6">2</tspan></text>
<text x="416.20" y="463.80" font-size="10.3" text-anchor="middle" fill="#111" font-weight="normal">HO-heme-CO</text>
<text x="291.40" y="364.30" font-size="10.4" text-anchor="middle" fill="#111" font-weight="normal" transform="rotate(-90 291.40 364.30)">Binding energy (kcal/mol)</text>
<defs><linearGradient id="cbar" x1="0" y1="0" x2="1" y2="0"><stop offset="0" stop-color="#0c0cff"/><stop offset="0.5" stop-color="#ffffff"/><stop offset="0.505" stop-color="#fde6e6"/><stop offset="1" stop-color="#ff0606"/></linearGradient><clipPath id="fclip"><rect x="13.8" y="497.2" width="166.2" height="105.2"/></clipPath><clipPath id="gclip"><rect x="274" y="497.4" width="171.5" height="103"/></clipPath><filter id="sb" x="-20%" y="-20%" width="140%" height="140%"><feGaussianBlur stdDeviation="0.7"/></filter><filter id="sb2" x="-20%" y="-20%" width="140%" height="140%"><feGaussianBlur stdDeviation="1.6"/></filter></defs>
<text x="2.40" y="495.30" font-size="19.8" text-anchor="start" fill="#000" font-weight="bold">f</text>
<g clip-path="url(#fclip)">
<rect x="13.80" y="497.20" width="166.20" height="105.20" fill="#fbfbfd" stroke="none" stroke-width="1"/>
<g filter="url(#sb)">
<path d="M12.9,503.3 L14.1,503.7 L16.1,504.3 L18.8,504.9 L22.0,505.5 L25.5,506.3 L29.3,507.1 L33.0,508.0 L36.6,508.9 L39.7,509.9 L42.4,510.9 L44.3,511.9 L45.6,512.8 L45.9,513.7 L45.4,515.1 L45.5,513.0 L46.0,512.1 L45.7,510.8 L44.5,509.4 L42.5,508.0 L39.9,506.8 L36.7,505.6 L33.2,504.5 L29.5,503.6 L25.7,502.8 L22.2,502.2 L19.0,501.7 L16.3,501.4 L14.3,501.3 L13.0,501.2Z" fill="#d6d9ef" stroke="#b6badc" stroke-width="0.6" stroke-linejoin="round" opacity="1.0"/><path d="M11.9,521.3 L13.1,521.7 L15.1,522.3 L17.8,522.9 L21.0,523.5 L24.5,524.3 L28.3,525.1 L32.0,526.0 L35.6,526.9 L38.7,527.9 L41.4,528.9 L43.3,529.9 L44.6,530.8 L44.9,531.7 L44.4,533.1 L44.5,531.0 L45.0,530.1 L44.7,528.8 L43.5,527.4 L41.5,526.0 L38.9,524.8 L35.7,523.6 L32.2,522.5 L28.5,521.6 L24.7,520.8 L21.2,520.2 L18.0,519.7 L15.3,519.4 L13.3,519.3 L12.0,519.2Z" fill="#d6d9ef" stroke="#b6badc" stroke-width="0.6" stroke-linejoin="round" opacity="1.0"/><path d="M10.9,539.3 L12.1,539.7 L14.1,540.3 L16.8,540.9 L20.0,541.5 L23.5,542.3 L27.3,543.1 L31.0,544.0 L34.6,544.9 L37.7,545.9 L40.4,546.9 L42.3,547.9 L43.6,548.8 L43.9,549.7 L43.4,551.1 L43.5,549.0 L44.0,548.1 L43.7,546.8 L42.5,545.4 L40.5,544.0 L37.9,542.8 L34.7,541.6 L31.2,540.5 L27.5,539.6 L23.7,538.8 L20.2,538.2 L17.0,537.7 L14.3,537.4 L12.3,537.3 L11.0,537.2Z" fill="#d6d9ef" stroke="#b6badc" stroke-width="0.6" stroke-linejoin="round" opacity="1.0"/><path d="M9.9,557.3 L11.1,557.7 L13.1,558.3 L15.8,558.9 L19.0,559.5 L22.5,560.3 L26.3,561.1 L30.0,562.0 L33.6,562.9 L36.7,563.9 L39.4,564.9 L41.3,565.9 L42.6,566.8 L42.9,567.7 L43.0,566.1 L42.7,564.8 L41.5,563.4 L39.5,562.0 L36.9,560.8 L33.7,559.6 L30.2,558.5 L26.5,557.6 L22.7,556.8 L19.2,556.2 L16.0,555.7 L13.3,555.4 L11.3,555.3 L10.0,555.2Z" fill="#d6d9ef" stroke="#b6badc" stroke-width="0.6" stroke-linejoin="round" opacity="1.0"/><path d="M46.9,496.4 L46.4,497.9 L45.0,499.3 L42.9,500.6 L40.2,501.7 L36.9,502.6 L33.3,503.4 L29.4,503.9 L25.6,504.2 L22.0,504.4 L18.8,504.4 L16.1,504.3 L14.1,504.0 L12.9,503.8 L12.4,503.5 L12.8,504.1 L13.0,500.4 L12.6,500.6 L13.1,500.1 L14.4,499.6 L16.4,499.1 L19.1,498.7 L22.4,498.3 L26.0,497.8 L29.8,497.4 L33.6,497.0 L37.2,496.5 L40.5,496.0 L43.2,495.4 L45.3,494.8 L46.6,494.2 L47.1,493.5Z" fill="#eceefa" stroke="#b6badc" stroke-width="0.6" stroke-linejoin="round" opacity="1.0"/><path d="M45.4,515.9 L44.0,517.3 L41.9,518.6 L39.2,519.7 L35.9,520.6 L32.3,521.4 L28.4,521.9 L24.6,522.2 L21.0,522.4 L17.8,522.4 L15.1,522.3 L13.1,522.0 L11.9,521.8 L11.4,521.5 L11.8,522.1 L12.0,518.4 L11.6,518.6 L12.1,518.1 L13.4,517.6 L15.4,517.1 L18.1,516.7 L21.4,516.3 L25.0,515.8 L28.8,515.4 L32.6,515.0 L36.2,514.5 L39.5,514.0 L42.2,513.4 L44.3,512.8 L45.6,512.2Z" fill="#eceefa" stroke="#b6badc" stroke-width="0.6" stroke-linejoin="round" opacity="1.0"/><path d="M44.4,533.9 L43.0,535.3 L40.9,536.6 L38.2,537.7 L34.9,538.6 L31.3,539.4 L27.4,539.9 L23.6,540.2 L20.0,540.4 L16.8,540.4 L14.1,540.3 L12.1,540.0 L10.9,539.8 L10.4,539.5 L10.8,540.1 L11.0,536.4 L10.6,536.6 L11.1,536.1 L12.4,535.6 L14.4,535.1 L17.1,534.7 L20.4,534.3 L24.0,533.8 L27.8,533.4 L31.6,533.0 L35.2,532.5 L38.5,532.0 L41.2,531.4 L43.3,530.8 L44.6,530.2Z" fill="#eceefa" stroke="#b6badc" stroke-width="0.6" stroke-linejoin="round" opacity="1.0"/><path d="M43.4,551.9 L42.0,553.3 L39.9,554.6 L37.2,555.7 L33.9,556.6 L30.3,557.4 L26.4,557.9 L22.6,558.2 L19.0,558.4 L15.8,558.4 L13.1,558.3 L11.1,558.0 L9.9,557.8 L9.4,557.5 L9.8,558.1 L10.0,554.4 L9.6,554.6 L10.1,554.1 L11.4,553.6 L13.4,553.1 L16.1,552.7 L19.4,552.3 L23.0,551.8 L26.8,551.4 L30.6,551.0 L34.2,550.5 L37.5,550.0 L40.2,549.4 L42.3,548.8 L43.6,548.2Z" fill="#eceefa" stroke="#b6badc" stroke-width="0.6" stroke-linejoin="round" opacity="1.0"/>
<path d="M53.1,511.6 L53.6,510.9 L54.0,509.8 L54.6,508.4 L55.2,506.7 L55.9,504.8 L56.6,502.8 L57.5,500.7 L58.4,498.8 L59.4,497.1 L60.5,495.7 L61.7,494.6 L62.9,493.9 L64.1,493.7 L65.8,493.9 L63.6,493.9 L62.3,493.7 L60.6,493.9 L59.0,494.6 L57.5,495.7 L56.0,497.2 L54.8,498.9 L53.7,500.8 L52.8,502.8 L52.1,504.8 L51.5,506.7 L51.2,508.5 L51.0,509.9 L50.9,511.0 L50.9,511.6Z" fill="#d6d9ef" stroke="#b6badc" stroke-width="0.6" stroke-linejoin="round" opacity="1.0"/><path d="M76.4,511.3 L76.9,510.6 L77.4,509.5 L77.9,508.1 L78.5,506.4 L79.2,504.4 L80.0,502.4 L80.8,500.4 L81.7,498.5 L82.8,496.8 L83.8,495.3 L85.0,494.2 L86.2,493.6 L87.4,493.3 L89.1,493.5 L86.9,493.6 L85.7,493.3 L84.0,493.6 L82.3,494.3 L80.8,495.4 L79.4,496.8 L78.1,498.6 L77.0,500.5 L76.1,502.5 L75.4,504.5 L74.9,506.4 L74.5,508.1 L74.3,509.5 L74.2,510.6 L74.2,511.3Z" fill="#d6d9ef" stroke="#b6badc" stroke-width="0.6" stroke-linejoin="round" opacity="1.0"/><path d="M99.8,510.9 L100.2,510.2 L100.7,509.2 L101.3,507.7 L101.9,506.0 L102.5,504.1 L103.3,502.1 L104.1,500.1 L105.1,498.2 L106.1,496.4 L107.2,495.0 L108.3,493.9 L109.5,493.2 L110.7,493.0 L112.4,493.2 L110.2,493.2 L109.0,493.0 L107.3,493.3 L105.7,494.0 L104.1,495.0 L102.7,496.5 L101.4,498.2 L100.3,500.1 L99.4,502.2 L98.7,504.2 L98.2,506.1 L97.9,507.8 L97.7,509.2 L97.6,510.3 L97.6,511.0Z" fill="#d6d9ef" stroke="#b6badc" stroke-width="0.6" stroke-linejoin="round" opacity="1.0"/><path d="M123.1,510.6 L123.6,509.9 L124.0,508.8 L124.6,507.4 L125.2,505.7 L125.9,503.8 L126.6,501.8 L127.5,499.7 L128.4,497.8 L129.4,496.1 L130.5,494.7 L131.7,493.6 L132.9,492.9 L134.1,492.7 L135.8,492.9 L133.6,492.9 L132.3,492.7 L130.6,492.9 L129.0,493.6 L127.5,494.7 L126.0,496.2 L124.8,497.9 L123.7,499.8 L122.8,501.8 L122.1,503.8 L121.5,505.7 L121.2,507.5 L121.0,508.9 L120.9,510.0 L120.9,510.6Z" fill="#d6d9ef" stroke="#b6badc" stroke-width="0.6" stroke-linejoin="round" opacity="1.0"/><path d="M146.4,510.3 L146.9,509.6 L147.4,508.5 L147.9,507.1 L148.5,505.4 L149.2,503.4 L150.0,501.4 L150.8,499.4 L151.7,497.5 L152.8,495.8 L153.8,494.3 L155.0,493.2 L156.2,492.6 L157.4,492.3 L159.1,492.5 L156.9,492.6 L155.7,492.3 L154.0,492.6 L152.3,493.3 L150.8,494.4 L149.4,495.8 L148.1,497.6 L147.0,499.5 L146.1,501.5 L145.4,503.5 L144.9,505.4 L144.5,507.1 L144.3,508.5 L144.2,509.6 L144.2,510.3Z" fill="#d6d9ef" stroke="#b6badc" stroke-width="0.6" stroke-linejoin="round" opacity="1.0"/><path d="M169.8,509.9 L170.2,509.2 L170.7,508.2 L171.3,506.7 L171.9,505.0 L172.5,503.1 L173.3,501.1 L174.1,499.1 L175.1,497.2 L176.1,495.4 L177.2,494.0 L178.3,492.9 L179.5,492.2 L180.7,492.0 L179.0,492.0 L177.3,492.3 L175.7,493.0 L174.1,494.0 L172.7,495.5 L171.4,497.2 L170.3,499.1 L169.4,501.2 L168.7,503.2 L168.2,505.1 L167.9,506.8 L167.7,508.2 L167.6,509.3 L167.6,510.0Z" fill="#d6d9ef" stroke="#b6badc" stroke-width="0.6" stroke-linejoin="round" opacity="1.0"/><path d="M41.4,494.0 L43.3,494.2 L45.2,494.8 L46.9,495.9 L48.5,497.3 L49.9,499.0 L51.2,500.8 L52.1,502.8 L52.9,504.8 L53.4,506.7 L53.7,508.4 L53.8,509.8 L53.7,510.9 L53.6,511.6 L53.4,511.8 L54.0,511.6 L50.0,511.6 L50.2,511.9 L49.6,511.6 L48.9,511.0 L48.2,509.9 L47.5,508.5 L46.8,506.8 L46.0,504.9 L45.1,502.9 L44.2,500.9 L43.3,499.0 L42.4,497.4 L41.4,495.9 L40.4,494.9 L39.3,494.2 L38.3,494.0Z" fill="#eceefa" stroke="#b6badc" stroke-width="0.6" stroke-linejoin="round" opacity="1.0"/><path d="M66.7,493.8 L68.5,494.5 L70.3,495.5 L71.9,496.9 L73.3,498.6 L74.5,500.5 L75.5,502.5 L76.2,504.5 L76.7,506.4 L77.0,508.1 L77.1,509.5 L77.1,510.6 L76.9,511.2 L76.7,511.5 L77.3,511.2 L73.3,511.3 L73.6,511.5 L72.9,511.3 L72.3,510.6 L71.6,509.6 L70.9,508.2 L70.1,506.5 L69.3,504.6 L68.5,502.6 L67.6,500.6 L66.7,498.7 L65.7,497.0 L64.7,495.6 L63.7,494.6 L62.7,493.9Z" fill="#eceefa" stroke="#b6badc" stroke-width="0.6" stroke-linejoin="round" opacity="1.0"/><path d="M90.0,493.5 L91.8,494.1 L93.6,495.2 L95.2,496.6 L96.6,498.3 L97.8,500.2 L98.8,502.2 L99.5,504.2 L100.1,506.0 L100.3,507.7 L100.5,509.2 L100.4,510.2 L100.3,510.9 L100.0,511.1 L100.7,510.9 L96.7,511.0 L96.9,511.2 L96.2,511.0 L95.6,510.3 L94.9,509.3 L94.2,507.8 L93.4,506.1 L92.6,504.3 L91.8,502.3 L90.9,500.3 L90.0,498.4 L89.0,496.7 L88.0,495.3 L87.0,494.2 L86.0,493.6Z" fill="#eceefa" stroke="#b6badc" stroke-width="0.6" stroke-linejoin="round" opacity="1.0"/><path d="M113.3,493.2 L115.2,493.8 L116.9,494.9 L118.5,496.3 L119.9,498.0 L121.2,499.8 L122.1,501.8 L122.9,503.8 L123.4,505.7 L123.7,507.4 L123.8,508.8 L123.7,509.9 L123.6,510.6 L123.4,510.8 L124.0,510.6 L120.0,510.6 L120.2,510.9 L119.6,510.6 L118.9,510.0 L118.2,508.9 L117.5,507.5 L116.8,505.8 L116.0,503.9 L115.1,501.9 L114.2,499.9 L113.3,498.0 L112.4,496.4 L111.4,494.9 L110.4,493.9 L109.3,493.2Z" fill="#eceefa" stroke="#b6badc" stroke-width="0.6" stroke-linejoin="round" opacity="1.0"/><path d="M136.7,492.8 L138.5,493.5 L140.3,494.5 L141.9,495.9 L143.3,497.6 L144.5,499.5 L145.5,501.5 L146.2,503.5 L146.7,505.4 L147.0,507.1 L147.1,508.5 L147.1,509.6 L146.9,510.2 L146.7,510.5 L147.3,510.2 L143.3,510.3 L143.6,510.5 L142.9,510.3 L142.3,509.6 L141.6,508.6 L140.9,507.2 L140.1,505.5 L139.3,503.6 L138.5,501.6 L137.6,499.6 L136.7,497.7 L135.7,496.0 L134.7,494.6 L133.7,493.6 L132.7,492.9Z" fill="#eceefa" stroke="#b6badc" stroke-width="0.6" stroke-linejoin="round" opacity="1.0"/><path d="M160.0,492.5 L161.8,493.1 L163.6,494.2 L165.2,495.6 L166.6,497.3 L167.8,499.2 L168.8,501.2 L169.5,503.2 L170.1,505.0 L170.3,506.7 L170.5,508.2 L170.4,509.2 L170.3,509.9 L170.0,510.1 L170.7,509.9 L166.7,510.0 L166.9,510.2 L166.2,510.0 L165.6,509.3 L164.9,508.3 L164.2,506.8 L163.4,505.1 L162.6,503.3 L161.8,501.3 L160.9,499.3 L160.0,497.4 L159.0,495.7 L158.0,494.3 L157.0,493.2 L156.0,492.6Z" fill="#eceefa" stroke="#b6badc" stroke-width="0.6" stroke-linejoin="round" opacity="1.0"/>
<path d="M149.7,538.3 L150.7,538.2 L152.1,537.7 L154.0,537.0 L156.2,536.1 L158.7,535.1 L161.3,534.1 L164.0,533.2 L166.6,532.4 L169.1,531.9 L171.4,531.7 L173.3,531.8 L174.8,532.3 L175.9,533.2 L176.8,534.8 L175.4,533.1 L174.8,531.8 L173.4,530.6 L171.6,529.7 L169.5,529.3 L167.0,529.3 L164.3,529.6 L161.6,530.2 L158.9,531.1 L156.3,532.1 L153.9,533.2 L151.9,534.3 L150.2,535.3 L149.0,536.1 L148.3,536.6Z" fill="#d6d9ef" stroke="#b6badc" stroke-width="0.6" stroke-linejoin="round" opacity="1.0"/><path d="M165.7,558.3 L166.7,558.2 L168.1,557.7 L170.0,557.0 L172.2,556.1 L174.7,555.1 L177.3,554.1 L180.0,553.2 L182.6,552.4 L185.1,551.9 L187.4,551.7 L189.3,551.8 L190.8,552.3 L191.9,553.2 L190.8,551.8 L189.4,550.6 L187.6,549.7 L185.5,549.3 L183.0,549.3 L180.3,549.6 L177.6,550.2 L174.9,551.1 L172.3,552.1 L169.9,553.2 L167.9,554.3 L166.2,555.3 L165.0,556.1 L164.3,556.6Z" fill="#d6d9ef" stroke="#b6badc" stroke-width="0.6" stroke-linejoin="round" opacity="1.0"/><path d="M160.4,513.7 L161.4,515.5 L161.9,517.6 L162.0,519.9 L161.6,522.5 L160.7,525.1 L159.5,527.7 L158.1,530.1 L156.5,532.4 L154.9,534.4 L153.3,536.1 L151.9,537.4 L150.8,538.2 L150.0,538.7 L149.6,538.7 L150.3,539.1 L147.8,535.9 L147.6,536.3 L147.5,535.6 L147.7,534.5 L148.4,533.0 L149.4,531.3 L150.7,529.3 L152.2,527.0 L153.7,524.7 L155.2,522.3 L156.6,519.9 L157.7,517.7 L158.5,515.6 L158.9,513.8 L158.9,512.4 L158.4,511.3Z" fill="#eceefa" stroke="#b6badc" stroke-width="0.6" stroke-linejoin="round" opacity="1.0"/><path d="M177.4,535.5 L177.9,537.6 L178.0,539.9 L177.6,542.5 L176.7,545.1 L175.5,547.7 L174.1,550.1 L172.5,552.4 L170.9,554.4 L169.3,556.1 L167.9,557.4 L166.8,558.2 L166.0,558.7 L165.6,558.7 L166.3,559.1 L163.8,555.9 L163.6,556.3 L163.5,555.6 L163.7,554.5 L164.4,553.0 L165.4,551.3 L166.7,549.3 L168.2,547.0 L169.7,544.7 L171.2,542.3 L172.6,539.9 L173.7,537.7 L174.5,535.6 L174.9,533.8 L174.9,532.4Z" fill="#eceefa" stroke="#b6badc" stroke-width="0.6" stroke-linejoin="round" opacity="1.0"/>
<path d="M94.4,585.3 L94.9,584.4 L95.4,582.9 L96.1,580.9 L96.8,578.4 L97.6,575.7 L98.4,572.9 L99.3,570.0 L100.3,567.3 L101.3,564.9 L102.3,562.9 L103.3,561.4 L104.3,560.5 L105.3,560.3 L106.8,560.7 L104.4,560.6 L103.5,560.2 L102.0,560.4 L100.5,561.3 L99.0,562.7 L97.6,564.7 L96.4,567.1 L95.3,569.8 L94.3,572.6 L93.5,575.5 L92.9,578.2 L92.5,580.6 L92.2,582.7 L92.0,584.2 L92.0,585.2Z" fill="#d6d9ef" stroke="#b6badc" stroke-width="0.6" stroke-linejoin="round" opacity="1.0"/><path d="M114.0,586.5 L114.5,585.6 L115.0,584.1 L115.7,582.1 L116.4,579.6 L117.2,576.9 L118.0,574.1 L118.9,571.2 L119.9,568.5 L120.9,566.1 L121.9,564.1 L122.9,562.6 L123.9,561.7 L124.9,561.5 L126.4,561.9 L124.0,561.8 L123.1,561.4 L121.6,561.6 L120.1,562.5 L118.6,563.9 L117.2,565.9 L116.0,568.3 L114.9,571.0 L113.9,573.8 L113.1,576.7 L112.5,579.4 L112.1,581.8 L111.8,583.9 L111.6,585.4 L111.6,586.4Z" fill="#d6d9ef" stroke="#b6badc" stroke-width="0.6" stroke-linejoin="round" opacity="1.0"/><path d="M133.6,587.7 L134.1,586.8 L134.6,585.3 L135.3,583.3 L136.0,580.8 L136.8,578.1 L137.6,575.3 L138.5,572.4 L139.5,569.7 L140.5,567.3 L141.5,565.3 L142.5,563.8 L143.5,562.9 L144.5,562.7 L146.0,563.1 L143.6,563.0 L142.7,562.6 L141.2,562.8 L139.7,563.7 L138.2,565.1 L136.8,567.1 L135.6,569.5 L134.5,572.2 L133.5,575.0 L132.7,577.9 L132.1,580.6 L131.7,583.0 L131.4,585.1 L131.2,586.6 L131.2,587.6Z" fill="#d6d9ef" stroke="#b6badc" stroke-width="0.6" stroke-linejoin="round" opacity="1.0"/><path d="M153.2,588.9 L153.7,588.0 L154.2,586.5 L154.9,584.5 L155.6,582.0 L156.4,579.3 L157.2,576.5 L158.1,573.6 L159.1,570.9 L160.1,568.5 L161.1,566.5 L162.1,565.0 L163.1,564.1 L164.1,563.9 L165.6,564.3 L163.2,564.2 L162.3,563.8 L160.8,564.0 L159.3,564.9 L157.8,566.3 L156.4,568.3 L155.2,570.7 L154.1,573.4 L153.1,576.2 L152.3,579.1 L151.7,581.8 L151.3,584.2 L151.0,586.3 L150.8,587.8 L150.8,588.8Z" fill="#d6d9ef" stroke="#b6badc" stroke-width="0.6" stroke-linejoin="round" opacity="1.0"/><path d="M172.8,590.1 L173.3,589.2 L173.8,587.7 L174.5,585.7 L175.2,583.2 L176.0,580.5 L176.8,577.7 L177.7,574.8 L178.7,572.1 L179.7,569.7 L180.7,567.7 L181.7,566.2 L182.7,565.3 L183.7,565.1 L181.9,565.0 L180.4,565.2 L178.9,566.1 L177.4,567.5 L176.0,569.5 L174.8,571.9 L173.7,574.6 L172.7,577.4 L171.9,580.3 L171.3,583.0 L170.9,585.4 L170.6,587.5 L170.4,589.0 L170.4,590.0Z" fill="#d6d9ef" stroke="#b6badc" stroke-width="0.6" stroke-linejoin="round" opacity="1.0"/><path d="M86.5,559.1 L88.1,559.6 L89.7,560.6 L91.2,562.3 L92.4,564.4 L93.5,566.9 L94.4,569.7 L95.0,572.7 L95.4,575.6 L95.6,578.4 L95.6,580.8 L95.5,582.9 L95.3,584.4 L95.0,585.4 L94.7,585.7 L95.3,585.4 L91.1,585.1 L91.3,585.5 L90.7,585.1 L90.1,584.1 L89.6,582.5 L89.0,580.4 L88.5,577.9 L88.0,575.1 L87.5,572.2 L87.0,569.3 L86.4,566.5 L85.8,564.0 L85.2,561.9 L84.6,560.3 L83.9,559.3 L83.1,558.9Z" fill="#eceefa" stroke="#b6badc" stroke-width="0.6" stroke-linejoin="round" opacity="1.0"/><path d="M107.7,560.8 L109.3,561.8 L110.8,563.5 L112.0,565.6 L113.1,568.1 L114.0,570.9 L114.6,573.9 L115.0,576.8 L115.2,579.6 L115.2,582.0 L115.1,584.1 L114.9,585.6 L114.6,586.6 L114.3,586.9 L114.9,586.6 L110.7,586.3 L110.9,586.7 L110.3,586.3 L109.7,585.3 L109.2,583.7 L108.6,581.6 L108.1,579.1 L107.6,576.3 L107.1,573.4 L106.6,570.5 L106.0,567.7 L105.4,565.2 L104.8,563.1 L104.2,561.5 L103.5,560.5Z" fill="#eceefa" stroke="#b6badc" stroke-width="0.6" stroke-linejoin="round" opacity="1.0"/><path d="M127.3,562.0 L128.9,563.0 L130.4,564.7 L131.6,566.8 L132.7,569.3 L133.6,572.1 L134.2,575.1 L134.6,578.0 L134.8,580.8 L134.8,583.2 L134.7,585.3 L134.5,586.8 L134.2,587.8 L133.9,588.1 L134.5,587.8 L130.3,587.5 L130.5,587.9 L129.9,587.5 L129.3,586.5 L128.8,584.9 L128.2,582.8 L127.7,580.3 L127.2,577.5 L126.7,574.6 L126.2,571.7 L125.6,568.9 L125.0,566.4 L124.4,564.3 L123.8,562.7 L123.1,561.7Z" fill="#eceefa" stroke="#b6badc" stroke-width="0.6" stroke-linejoin="round" opacity="1.0"/><path d="M146.9,563.2 L148.5,564.2 L150.0,565.9 L151.2,568.0 L152.3,570.5 L153.2,573.3 L153.8,576.3 L154.2,579.2 L154.4,582.0 L154.4,584.4 L154.3,586.5 L154.1,588.0 L153.8,589.0 L153.5,589.3 L154.1,589.0 L149.9,588.7 L150.1,589.1 L149.5,588.7 L148.9,587.7 L148.4,586.1 L147.8,584.0 L147.3,581.5 L146.8,578.7 L146.3,575.8 L145.8,572.9 L145.2,570.1 L144.6,567.6 L144.0,565.5 L143.4,563.9 L142.7,562.9Z" fill="#eceefa" stroke="#b6badc" stroke-width="0.6" stroke-linejoin="round" opacity="1.0"/><path d="M166.5,564.4 L168.1,565.4 L169.6,567.1 L170.8,569.2 L171.9,571.7 L172.8,574.5 L173.4,577.5 L173.8,580.4 L174.0,583.2 L174.0,585.6 L173.9,587.7 L173.7,589.2 L173.4,590.2 L173.1,590.5 L173.7,590.2 L169.5,589.9 L169.7,590.3 L169.1,589.9 L168.5,588.9 L168.0,587.3 L167.4,585.2 L166.9,582.7 L166.4,579.9 L165.9,577.0 L165.4,574.1 L164.8,571.3 L164.2,568.8 L163.6,566.7 L163.0,565.1 L162.3,564.1Z" fill="#eceefa" stroke="#b6badc" stroke-width="0.6" stroke-linejoin="round" opacity="1.0"/>
<path d="M20,536 C26,542 34,543 40,536" fill="none" stroke="#4a4ed0" stroke-width="7.2" stroke-linecap="butt" opacity="1.0"/>
<path d="M20,536 C26,542 34,543 40,536" fill="none" stroke="#5a5ee4" stroke-width="6" stroke-linecap="butt" opacity="1.0"/>
<path d="M140,498 C155,496 168,500 180,498" fill="none" stroke="#a8acd8" stroke-width="7.2" stroke-linecap="butt" opacity="1.0"/>
<path d="M140,498 C155,496 168,500 180,498" fill="none" stroke="#c4c8f0" stroke-width="6" stroke-linecap="butt" opacity="1.0"/>
<path d="M40,596 C42,585 45,575 40,565" fill="none" stroke="#d06a70" stroke-width="11.2" stroke-linecap="butt" opacity="1.0"/>
<path d="M40,596 C42,585 45,575 40,565" fill="none" stroke="#e0505a" stroke-width="10" stroke-linecap="butt" opacity="1.0"/>
<path d="M40,571 C42,568 43,566 40,563" fill="none" stroke="#f0d0d8" stroke-width="11.2" stroke-linecap="butt" opacity="1.0"/>
<path d="M40,571 C42,568 43,566 40,563" fill="none" stroke="#f8e0e4" stroke-width="10" stroke-linecap="butt" opacity="1.0"/>
<path d="M20,598 C22,590 26,584 30,581" fill="none" stroke="#e8c0c8" stroke-width="5.2" stroke-linecap="butt" opacity="1.0"/>
<path d="M20,598 C22,590 26,584 30,581" fill="none" stroke="#f4d0d4" stroke-width="4" stroke-linecap="butt" opacity="1.0"/>
<path d="M66,602 C66,594 68,586 72,580" fill="none" stroke="#3a42d0" stroke-width="10.2" stroke-linecap="butt" opacity="1.0"/>
<path d="M66,602 C66,594 68,586 72,580" fill="none" stroke="#4a52e6" stroke-width="9" stroke-linecap="butt" opacity="1.0"/>
<path d="M122,570 C128,568 136,571 142,576" fill="none" stroke="#4a50d0" stroke-width="8.2" stroke-linecap="butt" opacity="1.0"/>
<path d="M122,570 C128,568 136,571 142,576" fill="none" stroke="#5860e0" stroke-width="7" stroke-linecap="butt" opacity="1.0"/>
<path d="M150,584 C154,576 158,570 163,566" fill="none" stroke="#c84850" stroke-width="10.2" stroke-linecap="butt" opacity="1.0"/>
<path d="M150,584 C154,576 158,570 163,566" fill="none" stroke="#e25058" stroke-width="9" stroke-linecap="butt" opacity="1.0"/>
<path d="M108,600 C112,594 116,590 122,588" fill="none" stroke="#e0c0c8" stroke-width="7.2" stroke-linecap="butt" opacity="1.0"/>
<path d="M108,600 C112,594 116,590 122,588" fill="none" stroke="#f0d4da" stroke-width="6" stroke-linecap="butt" opacity="1.0"/>
</g>
<defs><radialGradient id="s142" cx="0.5" cy="0.5" r="0.5"><stop offset="0" stop-color="#3a46d6"/><stop offset="0.7" stop-color="#5560e0"/><stop offset="1" stop-color="#7c86ea"/></radialGradient><radialGradient id="s142g" cx="0.5" cy="0.5" r="0.5"><stop offset="0" stop-color="#9098e4"/><stop offset="0.75" stop-color="#a4aaea"/><stop offset="1" stop-color="#bcc0f0"/></radialGradient></defs>
<path d="M74,516 C73,507 82,502 92,503 C102,503 111,508 112,516 C113,524 110,533 100,536 C92,538 82,537 77,531 C73,527 74,521 74,516 Z" fill="url(#s142)" stroke="none" stroke-width="1" filter="url(#sb)"/>
<path d="M81,528 L86,528 L88,516 M88,523 L95,522 L96,511" fill="none" stroke="#1a1eb8" stroke-width="3.6" stroke-linecap="round" stroke-linejoin="round"/>
<path d="M48,545 C50,538 62,536 74,538 C90,536 105,532 118,535 C130,536 142,538 150,540 C158,541 160,548 158,556 C156,563 145,565 130,566 C110,568 95,570 82,571 C70,574 56,574 50,566 C45,560 46,550 48,545 Z" fill="#f7d4a4" stroke="none" stroke-width="1" opacity="0.9" stroke="#eebc80" stroke-width="1.2" filter="url(#sb)"/>
<path d="M58,550 L64,548 L72,552 L76,548 L84,552 L100,551 L118,550 L132,551 L146,548 L155,551 M64,557 L72,559 L84,555 L100,554 L118,553 L134,554 L148,552 M66,551 L64,557" fill="none" stroke="#74c44c" stroke-width="4.0" stroke-linecap="round" stroke-linejoin="round"/>
<path d="M57,548 L61,551 M60,560 L64,557 M112,550 L112,540 L116,538" fill="none" stroke="#ee7a40" stroke-width="3.0" stroke-linecap="round"/>
</g>
<text x="55.50" y="518.10" font-size="10.2" text-anchor="start" fill="#111" font-weight="bold">142S</text>
<text x="127.5" y="543.7" font-size="10.2" font-weight="bold" fill="#111">Heme-O<tspan font-size="7" dy="2.6">2</tspan></text>
<rect x="7.60" y="605.80" width="172.20" height="13.00" fill="url(#cbar)" stroke="none" stroke-width="1"/>
<text x="10.20" y="632.70" font-size="10.4" text-anchor="start" fill="#111" font-weight="bold">-2</text>
<text x="95.40" y="632.70" font-size="10.4" text-anchor="middle" fill="#111" font-weight="bold">Resi. Contribution</text>
<text x="93.60" y="643.80" font-size="10.4" text-anchor="middle" fill="#111" font-weight="bold">(kcal/mol)</text>
<text x="171.80" y="632.70" font-size="10.4" text-anchor="start" fill="#111" font-weight="bold">2</text>
<text x="270.80" y="495.30" font-size="19.8" text-anchor="start" fill="#000" font-weight="bold">g</text>
<g clip-path="url(#gclip)">
<rect x="274.00" y="497.40" width="171.50" height="103.00" fill="#fbfbfd" stroke="none" stroke-width="1"/>
<g filter="url(#sb)">
<path d="M282.9,501.6 L284.0,502.2 L285.8,502.9 L288.3,503.8 L291.2,504.8 L294.4,505.9 L297.8,507.1 L301.2,508.4 L304.4,509.6 L307.3,510.9 L309.7,512.2 L311.4,513.4 L312.4,514.5 L312.7,515.4 L312.0,516.7 L312.4,514.7 L312.9,513.8 L312.7,512.4 L311.8,510.9 L310.1,509.4 L307.8,507.8 L305.0,506.3 L301.8,504.9 L298.4,503.6 L295.0,502.4 L291.7,501.5 L288.8,500.7 L286.3,500.1 L284.4,499.8 L283.3,499.6Z" fill="#d6d9ef" stroke="#b6badc" stroke-width="0.6" stroke-linejoin="round" opacity="1.0"/><path d="M279.9,519.6 L281.0,520.2 L282.8,520.9 L285.3,521.8 L288.2,522.8 L291.4,523.9 L294.8,525.1 L298.2,526.4 L301.4,527.6 L304.3,528.9 L306.7,530.2 L308.4,531.4 L309.4,532.5 L309.7,533.4 L309.0,534.7 L309.4,532.7 L309.9,531.8 L309.7,530.4 L308.8,528.9 L307.1,527.4 L304.8,525.8 L302.0,524.3 L298.8,522.9 L295.4,521.6 L292.0,520.4 L288.7,519.5 L285.8,518.7 L283.3,518.1 L281.4,517.8 L280.3,517.6Z" fill="#d6d9ef" stroke="#b6badc" stroke-width="0.6" stroke-linejoin="round" opacity="1.0"/><path d="M276.9,537.6 L278.0,538.2 L279.8,538.9 L282.3,539.8 L285.2,540.8 L288.4,541.9 L291.8,543.1 L295.2,544.4 L298.4,545.6 L301.3,546.9 L303.7,548.2 L305.4,549.4 L306.4,550.5 L306.7,551.4 L306.0,552.7 L306.4,550.7 L306.9,549.8 L306.7,548.4 L305.8,546.9 L304.1,545.4 L301.8,543.8 L299.0,542.3 L295.8,540.9 L292.4,539.6 L289.0,538.4 L285.7,537.5 L282.8,536.7 L280.3,536.1 L278.4,535.8 L277.3,535.6Z" fill="#d6d9ef" stroke="#b6badc" stroke-width="0.6" stroke-linejoin="round" opacity="1.0"/><path d="M273.9,555.6 L275.0,556.2 L276.8,556.9 L279.3,557.8 L282.2,558.8 L285.4,559.9 L288.8,561.1 L292.2,562.4 L295.4,563.6 L298.3,564.9 L300.7,566.2 L302.4,567.4 L303.4,568.5 L303.7,569.4 L303.9,567.8 L303.7,566.4 L302.8,564.9 L301.1,563.4 L298.8,561.8 L296.0,560.3 L292.8,558.9 L289.4,557.6 L286.0,556.4 L282.7,555.5 L279.8,554.7 L277.3,554.1 L275.4,553.8 L274.3,553.6Z" fill="#d6d9ef" stroke="#b6badc" stroke-width="0.6" stroke-linejoin="round" opacity="1.0"/><path d="M315.5,498.1 L314.9,499.5 L313.5,500.8 L311.4,501.9 L308.7,502.7 L305.5,503.3 L302.0,503.7 L298.4,503.9 L294.8,503.8 L291.4,503.6 L288.3,503.3 L285.8,502.9 L284.0,502.5 L282.8,502.1 L282.5,501.8 L282.8,502.4 L283.4,498.8 L283.0,498.9 L283.4,498.4 L284.7,498.1 L286.7,497.8 L289.3,497.7 L292.4,497.6 L295.8,497.5 L299.4,497.5 L303.0,497.4 L306.5,497.3 L309.6,497.1 L312.2,496.8 L314.2,496.4 L315.5,495.9 L316.0,495.2Z" fill="#eceefa" stroke="#b6badc" stroke-width="0.6" stroke-linejoin="round" opacity="1.0"/><path d="M311.9,517.5 L310.5,518.8 L308.4,519.9 L305.7,520.7 L302.5,521.3 L299.0,521.7 L295.4,521.9 L291.8,521.8 L288.4,521.6 L285.3,521.3 L282.8,520.9 L281.0,520.5 L279.8,520.1 L279.5,519.8 L279.8,520.4 L280.4,516.8 L280.0,516.9 L280.4,516.4 L281.7,516.1 L283.7,515.8 L286.3,515.7 L289.4,515.6 L292.8,515.5 L296.4,515.5 L300.0,515.4 L303.5,515.3 L306.6,515.1 L309.2,514.8 L311.2,514.4 L312.5,513.9Z" fill="#eceefa" stroke="#b6badc" stroke-width="0.6" stroke-linejoin="round" opacity="1.0"/><path d="M308.9,535.5 L307.5,536.8 L305.4,537.9 L302.7,538.7 L299.5,539.3 L296.0,539.7 L292.4,539.9 L288.8,539.8 L285.4,539.6 L282.3,539.3 L279.8,538.9 L278.0,538.5 L276.8,538.1 L276.5,537.8 L276.8,538.4 L277.4,534.8 L277.0,534.9 L277.4,534.4 L278.7,534.1 L280.7,533.8 L283.3,533.7 L286.4,533.6 L289.8,533.5 L293.4,533.5 L297.0,533.4 L300.5,533.3 L303.6,533.1 L306.2,532.8 L308.2,532.4 L309.5,531.9Z" fill="#eceefa" stroke="#b6badc" stroke-width="0.6" stroke-linejoin="round" opacity="1.0"/><path d="M305.9,553.5 L304.5,554.8 L302.4,555.9 L299.7,556.7 L296.5,557.3 L293.0,557.7 L289.4,557.9 L285.8,557.8 L282.4,557.6 L279.3,557.3 L276.8,556.9 L275.0,556.5 L273.8,556.1 L273.5,555.8 L273.8,556.4 L274.4,552.8 L274.0,552.9 L274.4,552.4 L275.7,552.1 L277.7,551.8 L280.3,551.7 L283.4,551.6 L286.8,551.5 L290.4,551.5 L294.0,551.4 L297.5,551.3 L300.6,551.1 L303.2,550.8 L305.2,550.4 L306.5,549.9Z" fill="#eceefa" stroke="#b6badc" stroke-width="0.6" stroke-linejoin="round" opacity="1.0"/>
<path d="M414.7,518.8 L415.7,518.8 L417.2,518.6 L419.2,518.3 L421.5,517.8 L424.0,517.2 L426.7,516.7 L429.5,516.2 L432.1,515.9 L434.6,515.7 L436.7,515.8 L438.5,516.1 L439.7,516.6 L440.5,517.5 L440.9,519.0 L439.9,517.0 L439.7,515.9 L438.8,514.7 L437.3,513.7 L435.4,513.0 L433.1,512.7 L430.5,512.6 L427.8,512.8 L425.0,513.2 L422.3,513.8 L419.8,514.5 L417.7,515.2 L415.9,515.9 L414.6,516.4 L413.8,516.8Z" fill="#d6d9ef" stroke="#b6badc" stroke-width="0.6" stroke-linejoin="round" opacity="1.0"/><path d="M424.1,537.8 L425.1,537.8 L426.6,537.6 L428.5,537.3 L430.8,536.8 L433.3,536.2 L436.1,535.7 L438.8,535.2 L441.5,534.9 L443.9,534.7 L446.1,534.8 L447.8,535.1 L449.1,535.6 L449.8,536.5 L450.2,538.0 L449.3,536.0 L449.1,534.9 L448.1,533.7 L446.6,532.7 L444.7,532.0 L442.4,531.7 L439.9,531.6 L437.1,531.8 L434.4,532.2 L431.7,532.8 L429.2,533.5 L427.0,534.2 L425.2,534.9 L423.9,535.4 L423.1,535.8Z" fill="#d6d9ef" stroke="#b6badc" stroke-width="0.6" stroke-linejoin="round" opacity="1.0"/><path d="M433.4,556.8 L434.4,556.8 L435.9,556.6 L437.8,556.3 L440.1,555.8 L442.7,555.2 L445.4,554.7 L448.1,554.2 L450.8,553.9 L453.3,553.7 L455.4,553.8 L457.1,554.1 L458.4,554.6 L459.2,555.5 L458.4,553.9 L457.4,552.7 L456.0,551.7 L454.0,551.0 L451.8,550.7 L449.2,550.6 L446.5,550.8 L443.7,551.2 L441.0,551.8 L438.5,552.5 L436.3,553.2 L434.5,553.9 L433.2,554.4 L432.4,554.8Z" fill="#d6d9ef" stroke="#b6badc" stroke-width="0.6" stroke-linejoin="round" opacity="1.0"/><path d="M431.5,499.1 L432.0,500.8 L431.9,502.7 L431.3,504.8 L430.3,507.0 L428.8,509.1 L427.0,511.2 L425.0,513.2 L422.9,514.9 L420.8,516.4 L418.9,517.6 L417.2,518.5 L415.8,519.1 L415.0,519.3 L414.6,519.2 L415.1,519.6 L413.4,516.0 L413.2,516.4 L413.2,515.7 L413.7,514.7 L414.7,513.5 L416.1,512.1 L417.9,510.5 L419.8,508.7 L421.9,506.9 L424.0,505.0 L425.9,503.2 L427.6,501.4 L428.9,499.8 L429.8,498.4 L430.2,497.2 L430.1,496.3Z" fill="#eceefa" stroke="#b6badc" stroke-width="0.6" stroke-linejoin="round" opacity="1.0"/><path d="M441.3,519.8 L441.3,521.7 L440.7,523.8 L439.6,526.0 L438.1,528.1 L436.3,530.2 L434.3,532.2 L432.2,533.9 L430.1,535.4 L428.2,536.6 L426.5,537.5 L425.2,538.1 L424.3,538.3 L423.9,538.2 L424.5,538.6 L422.7,535.0 L422.5,535.4 L422.5,534.7 L423.1,533.7 L424.1,532.5 L425.5,531.1 L427.2,529.5 L429.2,527.7 L431.2,525.9 L433.3,524.0 L435.2,522.2 L436.9,520.4 L438.2,518.8 L439.1,517.4 L439.5,516.2Z" fill="#eceefa" stroke="#b6badc" stroke-width="0.6" stroke-linejoin="round" opacity="1.0"/><path d="M450.6,538.8 L450.6,540.7 L450.0,542.8 L448.9,545.0 L447.5,547.1 L445.7,549.2 L443.7,551.2 L441.6,552.9 L439.5,554.4 L437.5,555.6 L435.8,556.5 L434.5,557.1 L433.6,557.3 L433.3,557.2 L433.8,557.6 L432.0,554.0 L431.9,554.4 L431.9,553.7 L432.4,552.7 L433.4,551.5 L434.8,550.1 L436.5,548.5 L438.5,546.7 L440.6,544.9 L442.6,543.0 L444.6,541.2 L446.2,539.4 L447.6,537.8 L448.5,536.4 L448.9,535.2Z" fill="#eceefa" stroke="#b6badc" stroke-width="0.6" stroke-linejoin="round" opacity="1.0"/>
<path d="M351.2,587.5 L351.7,586.6 L352.3,585.2 L353.0,583.4 L353.7,581.1 L354.5,578.6 L355.4,576.0 L356.4,573.4 L357.4,570.9 L358.5,568.7 L359.6,566.9 L360.7,565.5 L361.8,564.7 L362.9,564.5 L364.5,564.9 L362.1,564.7 L361.1,564.4 L359.5,564.6 L357.9,565.3 L356.3,566.7 L354.9,568.5 L353.5,570.7 L352.3,573.1 L351.3,575.7 L350.5,578.4 L349.8,580.9 L349.3,583.1 L349.0,585.0 L348.9,586.4 L348.8,587.3Z" fill="#d6d9ef" stroke="#b6badc" stroke-width="0.6" stroke-linejoin="round" opacity="1.0"/><path d="M372.4,588.9 L372.9,588.0 L373.5,586.6 L374.2,584.8 L374.9,582.5 L375.7,580.0 L376.6,577.4 L377.6,574.8 L378.6,572.3 L379.7,570.1 L380.8,568.3 L381.9,566.9 L383.0,566.1 L384.1,565.9 L385.7,566.3 L383.3,566.1 L382.3,565.8 L380.7,566.0 L379.1,566.7 L377.5,568.1 L376.1,569.9 L374.7,572.1 L373.5,574.5 L372.5,577.1 L371.7,579.8 L371.0,582.3 L370.5,584.5 L370.2,586.4 L370.1,587.8 L370.0,588.7Z" fill="#d6d9ef" stroke="#b6badc" stroke-width="0.6" stroke-linejoin="round" opacity="1.0"/><path d="M393.6,590.3 L394.1,589.4 L394.7,588.0 L395.4,586.2 L396.1,583.9 L396.9,581.4 L397.8,578.8 L398.8,576.2 L399.8,573.7 L400.9,571.5 L402.0,569.7 L403.1,568.3 L404.2,567.5 L405.3,567.3 L406.9,567.7 L404.5,567.5 L403.5,567.2 L401.9,567.4 L400.3,568.1 L398.7,569.5 L397.3,571.3 L395.9,573.5 L394.7,575.9 L393.7,578.5 L392.9,581.2 L392.2,583.7 L391.7,585.9 L391.4,587.8 L391.3,589.2 L391.2,590.1Z" fill="#d6d9ef" stroke="#b6badc" stroke-width="0.6" stroke-linejoin="round" opacity="1.0"/><path d="M414.8,591.7 L415.3,590.8 L415.9,589.4 L416.6,587.6 L417.3,585.3 L418.1,582.8 L419.0,580.2 L420.0,577.6 L421.0,575.1 L422.1,572.9 L423.2,571.1 L424.3,569.7 L425.4,568.9 L426.5,568.7 L428.1,569.1 L425.7,568.9 L424.7,568.6 L423.1,568.8 L421.5,569.5 L419.9,570.9 L418.5,572.7 L417.1,574.9 L415.9,577.3 L414.9,579.9 L414.1,582.6 L413.4,585.1 L412.9,587.3 L412.6,589.2 L412.5,590.6 L412.4,591.5Z" fill="#d6d9ef" stroke="#b6badc" stroke-width="0.6" stroke-linejoin="round" opacity="1.0"/><path d="M436.0,593.1 L436.5,592.2 L437.1,590.8 L437.8,589.0 L438.5,586.7 L439.3,584.2 L440.2,581.6 L441.2,579.0 L442.2,576.5 L443.3,574.3 L444.4,572.5 L445.5,571.1 L446.6,570.3 L447.7,570.1 L445.9,570.0 L444.3,570.2 L442.7,570.9 L441.1,572.3 L439.7,574.1 L438.3,576.3 L437.1,578.7 L436.1,581.3 L435.3,584.0 L434.6,586.5 L434.1,588.7 L433.8,590.6 L433.7,592.0 L433.6,592.9Z" fill="#d6d9ef" stroke="#b6badc" stroke-width="0.6" stroke-linejoin="round" opacity="1.0"/><path d="M342.5,563.1 L344.2,563.6 L345.9,564.6 L347.4,566.1 L348.8,568.1 L350.0,570.4 L350.9,573.0 L351.6,575.8 L352.1,578.5 L352.3,581.0 L352.4,583.3 L352.3,585.2 L352.1,586.6 L351.8,587.5 L351.5,587.8 L352.2,587.5 L347.9,587.2 L348.1,587.6 L347.5,587.2 L346.9,586.3 L346.3,584.8 L345.8,582.9 L345.2,580.6 L344.7,578.0 L344.1,575.3 L343.5,572.6 L342.9,570.0 L342.2,567.6 L341.5,565.7 L340.8,564.2 L340.0,563.3 L339.1,562.9Z" fill="#eceefa" stroke="#b6badc" stroke-width="0.6" stroke-linejoin="round" opacity="1.0"/><path d="M365.4,565.0 L367.1,566.0 L368.6,567.5 L370.0,569.5 L371.2,571.8 L372.1,574.4 L372.8,577.2 L373.3,579.9 L373.5,582.4 L373.6,584.7 L373.5,586.6 L373.3,588.0 L373.0,588.9 L372.7,589.2 L373.4,588.9 L369.1,588.6 L369.3,589.0 L368.7,588.6 L368.1,587.7 L367.5,586.2 L367.0,584.3 L366.4,582.0 L365.9,579.4 L365.3,576.7 L364.7,574.0 L364.1,571.4 L363.4,569.0 L362.7,567.1 L362.0,565.6 L361.2,564.7Z" fill="#eceefa" stroke="#b6badc" stroke-width="0.6" stroke-linejoin="round" opacity="1.0"/><path d="M386.6,566.4 L388.3,567.4 L389.8,568.9 L391.2,570.9 L392.4,573.2 L393.3,575.8 L394.0,578.6 L394.5,581.3 L394.7,583.8 L394.8,586.1 L394.7,588.0 L394.5,589.4 L394.2,590.3 L393.9,590.6 L394.6,590.3 L390.3,590.0 L390.5,590.4 L389.9,590.0 L389.3,589.1 L388.7,587.6 L388.2,585.7 L387.6,583.4 L387.1,580.8 L386.5,578.1 L385.9,575.4 L385.3,572.8 L384.6,570.4 L383.9,568.5 L383.2,567.0 L382.4,566.1Z" fill="#eceefa" stroke="#b6badc" stroke-width="0.6" stroke-linejoin="round" opacity="1.0"/><path d="M407.8,567.8 L409.5,568.8 L411.0,570.3 L412.4,572.3 L413.6,574.6 L414.5,577.2 L415.2,580.0 L415.7,582.7 L415.9,585.2 L416.0,587.5 L415.9,589.4 L415.7,590.8 L415.4,591.7 L415.1,592.0 L415.8,591.7 L411.5,591.4 L411.7,591.8 L411.1,591.4 L410.5,590.5 L409.9,589.0 L409.4,587.1 L408.8,584.8 L408.3,582.2 L407.7,579.5 L407.1,576.8 L406.5,574.2 L405.8,571.8 L405.1,569.9 L404.4,568.4 L403.6,567.5Z" fill="#eceefa" stroke="#b6badc" stroke-width="0.6" stroke-linejoin="round" opacity="1.0"/><path d="M429.0,569.2 L430.7,570.2 L432.2,571.7 L433.6,573.7 L434.8,576.0 L435.7,578.6 L436.4,581.4 L436.9,584.1 L437.1,586.6 L437.2,588.9 L437.1,590.8 L436.9,592.2 L436.6,593.1 L436.3,593.4 L437.0,593.1 L432.7,592.8 L432.9,593.2 L432.3,592.8 L431.7,591.9 L431.1,590.4 L430.6,588.5 L430.0,586.2 L429.5,583.6 L428.9,580.9 L428.3,578.2 L427.7,575.6 L427.0,573.2 L426.3,571.3 L425.6,569.8 L424.8,568.9Z" fill="#eceefa" stroke="#b6badc" stroke-width="0.6" stroke-linejoin="round" opacity="1.0"/>
<path d="M339.7,507.4 L340.1,506.8 L340.4,505.8 L340.8,504.6 L341.2,503.0 L341.7,501.3 L342.1,499.5 L342.7,497.7 L343.3,496.0 L344.0,494.4 L344.7,493.2 L345.5,492.2 L346.3,491.5 L347.1,491.3 L348.3,491.5 L346.5,491.5 L345.6,491.4 L344.4,491.6 L343.2,492.3 L342.1,493.3 L341.1,494.6 L340.2,496.1 L339.4,497.8 L338.9,499.6 L338.4,501.4 L338.1,503.2 L337.9,504.7 L337.8,505.9 L337.8,506.9 L337.9,507.5Z" fill="#d6d9ef" stroke="#b6badc" stroke-width="0.6" stroke-linejoin="round" opacity="1.0"/><path d="M356.4,506.7 L356.7,506.1 L357.1,505.2 L357.5,503.9 L357.9,502.4 L358.3,500.6 L358.8,498.8 L359.4,497.0 L360.0,495.3 L360.6,493.8 L361.4,492.5 L362.1,491.5 L362.9,490.9 L363.8,490.6 L365.0,490.8 L363.1,490.9 L362.3,490.7 L361.0,491.0 L359.9,491.6 L358.7,492.6 L357.7,493.9 L356.9,495.5 L356.1,497.2 L355.5,499.0 L355.1,500.8 L354.8,502.5 L354.6,504.0 L354.5,505.3 L354.5,506.2 L354.5,506.8Z" fill="#d6d9ef" stroke="#b6badc" stroke-width="0.6" stroke-linejoin="round" opacity="1.0"/><path d="M373.1,506.1 L373.4,505.5 L373.8,504.5 L374.1,503.2 L374.5,501.7 L375.0,500.0 L375.5,498.2 L376.0,496.4 L376.6,494.7 L377.3,493.1 L378.0,491.8 L378.8,490.8 L379.6,490.2 L380.4,490.0 L378.9,490.0 L377.7,490.3 L376.5,490.9 L375.4,491.9 L374.4,493.2 L373.5,494.8 L372.8,496.5 L372.2,498.3 L371.7,500.1 L371.4,501.8 L371.2,503.3 L371.1,504.6 L371.1,505.6 L371.2,506.2Z" fill="#d6d9ef" stroke="#b6badc" stroke-width="0.6" stroke-linejoin="round" opacity="1.0"/><path d="M331.0,492.0 L332.4,492.1 L333.8,492.6 L335.2,493.5 L336.4,494.8 L337.5,496.2 L338.4,497.9 L339.2,499.6 L339.7,501.4 L340.1,503.1 L340.4,504.6 L340.4,505.8 L340.4,506.8 L340.2,507.4 L340.0,507.6 L340.5,507.4 L337.1,507.5 L337.3,507.7 L336.8,507.5 L336.2,507.0 L335.7,506.0 L335.1,504.8 L334.5,503.3 L333.8,501.6 L333.2,499.9 L332.5,498.1 L331.8,496.5 L331.1,495.0 L330.4,493.7 L329.7,492.8 L329.0,492.2 L328.3,492.1Z" fill="#eceefa" stroke="#b6badc" stroke-width="0.6" stroke-linejoin="round" opacity="1.0"/><path d="M349.1,491.4 L350.5,492.0 L351.8,492.9 L353.0,494.1 L354.1,495.6 L355.1,497.2 L355.8,499.0 L356.4,500.7 L356.8,502.4 L357.0,503.9 L357.1,505.2 L357.0,506.1 L356.9,506.7 L356.7,506.9 L357.2,506.7 L353.7,506.9 L354.0,507.0 L353.4,506.9 L352.9,506.3 L352.3,505.4 L351.7,504.1 L351.1,502.6 L350.5,501.0 L349.8,499.2 L349.2,497.5 L348.5,495.8 L347.8,494.3 L347.1,493.1 L346.4,492.1 L345.7,491.6Z" fill="#eceefa" stroke="#b6badc" stroke-width="0.6" stroke-linejoin="round" opacity="1.0"/><path d="M365.8,490.8 L367.2,491.3 L368.5,492.2 L369.7,493.4 L370.8,494.9 L371.7,496.5 L372.5,498.3 L373.1,500.1 L373.5,501.7 L373.7,503.2 L373.8,504.5 L373.7,505.5 L373.5,506.1 L373.3,506.3 L373.8,506.1 L370.4,506.2 L370.6,506.4 L370.1,506.2 L369.6,505.6 L369.0,504.7 L368.4,503.5 L367.8,502.0 L367.2,500.3 L366.5,498.5 L365.8,496.8 L365.1,495.1 L364.4,493.6 L363.7,492.4 L363.0,491.5 L362.3,490.9Z" fill="#eceefa" stroke="#b6badc" stroke-width="0.6" stroke-linejoin="round" opacity="1.0"/>
<path d="M284,531 C292,538 302,538 308,531" fill="none" stroke="#4a4ed0" stroke-width="7.2" stroke-linecap="butt" opacity="1.0"/>
<path d="M284,531 C292,538 302,538 308,531" fill="none" stroke="#5a5ee4" stroke-width="6" stroke-linecap="butt" opacity="1.0"/>
<path d="M384,500 C392,510 400,516 414,512 C418,508 420,503 418,498" fill="none" stroke="#5a60d8" stroke-width="8.2" stroke-linecap="butt" opacity="1.0"/>
<path d="M384,500 C392,510 400,516 414,512 C418,508 420,503 418,498" fill="none" stroke="#6a70e6" stroke-width="7" stroke-linecap="butt" opacity="1.0"/>
<path d="M306,598 C309,588 311,578 306,566" fill="none" stroke="#c84850" stroke-width="12.2" stroke-linecap="butt" opacity="1.0"/>
<path d="M306,598 C309,588 311,578 306,566" fill="none" stroke="#e04a55" stroke-width="11" stroke-linecap="butt" opacity="1.0"/>
<path d="M306,570 C308,567 308,566 306,564" fill="none" stroke="#f0d0d8" stroke-width="12.2" stroke-linecap="butt" opacity="1.0"/>
<path d="M306,570 C308,567 308,566 306,564" fill="none" stroke="#f8e0e4" stroke-width="11" stroke-linecap="butt" opacity="1.0"/>
<path d="M284,600 C286,592 290,586 296,582" fill="none" stroke="#e8c0c8" stroke-width="5.2" stroke-linecap="butt" opacity="1.0"/>
<path d="M284,600 C286,592 290,586 296,582" fill="none" stroke="#f4d0d4" stroke-width="4" stroke-linecap="butt" opacity="1.0"/>
<path d="M336,602 C336,594 337,588 339,582" fill="none" stroke="#4048d0" stroke-width="11.2" stroke-linecap="butt" opacity="1.0"/>
<path d="M336,602 C336,594 337,588 339,582" fill="none" stroke="#5058e6" stroke-width="10" stroke-linecap="butt" opacity="1.0"/>
<path d="M388,570 C395,572 402,575 408,580" fill="none" stroke="#6a70d8" stroke-width="8.2" stroke-linecap="butt" opacity="1.0"/>
<path d="M388,570 C395,572 402,575 408,580" fill="none" stroke="#7a80e8" stroke-width="7" stroke-linecap="butt" opacity="1.0"/>
<path d="M416,598 C422,590 430,584 440,578" fill="none" stroke="#c84040" stroke-width="11.2" stroke-linecap="butt" opacity="1.0"/>
<path d="M416,598 C422,590 430,584 440,578" fill="none" stroke="#e04850" stroke-width="10" stroke-linecap="butt" opacity="1.0"/>
</g>
<path d="M346,520 C346,511 354,505 364,505 C374,505 381,512 381,521 C381,530 374,537 364,537 C354,537 346,529 346,520 Z" fill="url(#s142g)" stroke="none" stroke-width="1" opacity="0.92" filter="url(#sb)"/>
<path d="M356,530 L360,522 L366,520 M362,521 L364,512 M366,520 L372,524" fill="none" stroke="#6870d8" stroke-width="3.0" stroke-linecap="round" stroke-linejoin="round"/>
<path d="M317,556 C317,550 325,549 335,549 C348,548 360,542 372,530 C380,525 392,524 402,524 C420,524 436,526 440,532 C443,540 443,552 440,560 C436,567 428,569 420,569 C405,570 395,570 385,572 C372,576 362,580 350,584 C340,588 330,589 322,584 C318,580 317,566 317,556 Z" fill="#f7d4a4" stroke="none" stroke-width="1" opacity="0.9" stroke="#eebc80" stroke-width="1.2" filter="url(#sb)"/>
<path d="M326,560 L332,558 L340,562 L350,557 L362,556 L376,554 L392,552 L408,552 L426,551 M332,566 L344,566 L352,560 M340,575 L338,568 M376,554 L380,548 L390,546 M408,552 L412,545 M392,558 L406,560 L420,556 M344,563 L358,561 L374,560 L392,559 L410,558 L424,556 M352,553 L368,550 L386,548 L400,549" fill="none" stroke="#74c44c" stroke-width="4.0" stroke-linecap="round" stroke-linejoin="round"/>
<path d="M326,560 L330,568 M336,578 L338,583 M386,548 L386,540 L392,536 M388,530 L392,536" fill="none" stroke="#ee7a40" stroke-width="3.0" stroke-linecap="round"/>
<circle cx="367.70" cy="551.60" r="2.30" fill="#8a50c8" stroke="none" stroke-width="0.5"/>
<circle cx="384.00" cy="552.00" r="2.30" fill="#8a50c8" stroke="none" stroke-width="0.5"/>
<circle cx="396.00" cy="552.50" r="2.20" fill="#8a50c8" stroke="none" stroke-width="0.5"/>
</g>
<text x="330.40" y="521.50" font-size="10.2" text-anchor="start" fill="#111" font-weight="bold">142S</text>
<text x="394.00" y="542.50" font-size="10.2" text-anchor="start" fill="#111" font-weight="bold">Heme-CO</text>
<rect x="272.70" y="605.80" width="171.70" height="13.00" fill="url(#cbar)" stroke="none" stroke-width="1"/>
<text x="275.00" y="632.70" font-size="10.4" text-anchor="start" fill="#111" font-weight="bold">-2</text>
<text x="360.00" y="632.70" font-size="10.4" text-anchor="middle" fill="#111" font-weight="bold">Resi. Contribution</text>
<text x="358.40" y="643.80" font-size="10.4" text-anchor="middle" fill="#111" font-weight="bold">(kcal/mol)</text>
<text x="436.70" y="632.70" font-size="10.4" text-anchor="start" fill="#111" font-weight="bold">2</text>
<text x="2.40" y="670.70" font-size="19.8" text-anchor="start" fill="#000" font-weight="bold">h</text>
<line x1="41.4" y1="722.00" x2="456.3" y2="722.00" stroke="#d4d4d4" stroke-width="1.2"/>
<rect x="42.40" y="716.13" width="4.70" height="5.87" fill="#9ad7f9" stroke="#3a3a3a" stroke-width="0.55"/>
<line x1="44.75" y1="713.49" x2="44.75" y2="716.43" stroke="#333" stroke-width="0.5"/>
<circle cx="44.71" cy="716.43" r="1.15" fill="#1f86d8" stroke="#0a3a6a" stroke-width="0.3"/>
<circle cx="44.76" cy="715.76" r="1.15" fill="#1f86d8" stroke="#0a3a6a" stroke-width="0.3"/>
<circle cx="44.85" cy="713.49" r="1.15" fill="#1f86d8" stroke="#0a3a6a" stroke-width="0.3"/>
<rect x="47.30" y="716.13" width="4.70" height="5.87" fill="#fcc8cf" stroke="#3a3a3a" stroke-width="0.55"/>
<line x1="49.65" y1="715.32" x2="49.65" y2="718.10" stroke="#333" stroke-width="0.5"/>
<circle cx="50.00" cy="718.10" r="1.15" fill="#d42028" stroke="#7a1010" stroke-width="0.3"/>
<circle cx="49.16" cy="716.06" r="1.15" fill="#d42028" stroke="#7a1010" stroke-width="0.3"/>
<circle cx="49.41" cy="715.32" r="1.15" fill="#d42028" stroke="#7a1010" stroke-width="0.3"/>
<text x="50.80" y="782.40" font-size="10.0" text-anchor="end" fill="#111" font-weight="normal" transform="rotate(-90 50.80 782.40)">14</text>
<rect x="56.27" y="722.00" width="4.70" height="41.09" fill="#9ad7f9" stroke="#3a3a3a" stroke-width="0.55"/>
<line x1="58.62" y1="756.05" x2="58.62" y2="772.39" stroke="#333" stroke-width="0.5"/>
<circle cx="58.07" cy="772.39" r="1.15" fill="#1f86d8" stroke="#0a3a6a" stroke-width="0.3"/>
<circle cx="59.20" cy="756.05" r="1.15" fill="#1f86d8" stroke="#0a3a6a" stroke-width="0.3"/>
<circle cx="59.18" cy="758.69" r="1.15" fill="#1f86d8" stroke="#0a3a6a" stroke-width="0.3"/>
<rect x="61.17" y="722.00" width="4.70" height="20.96" fill="#fcc8cf" stroke="#3a3a3a" stroke-width="0.55"/>
<line x1="63.52" y1="740.92" x2="63.52" y2="747.52" stroke="#333" stroke-width="0.5"/>
<circle cx="62.94" cy="740.92" r="1.15" fill="#d42028" stroke="#7a1010" stroke-width="0.3"/>
<circle cx="63.55" cy="741.43" r="1.15" fill="#d42028" stroke="#7a1010" stroke-width="0.3"/>
<circle cx="62.99" cy="747.52" r="1.15" fill="#d42028" stroke="#7a1010" stroke-width="0.3"/>
<text x="64.67" y="782.40" font-size="10.0" text-anchor="end" fill="#111" font-weight="normal" transform="rotate(-90 64.67 782.40)">18</text>
<rect x="70.14" y="719.99" width="4.70" height="2.01" fill="#9ad7f9" stroke="#3a3a3a" stroke-width="0.55"/>
<line x1="72.49" y1="719.99" x2="72.49" y2="722.07" stroke="#333" stroke-width="0.5"/>
<circle cx="72.45" cy="721.36" r="1.15" fill="#1f86d8" stroke="#0a3a6a" stroke-width="0.3"/>
<circle cx="72.42" cy="721.13" r="1.15" fill="#1f86d8" stroke="#0a3a6a" stroke-width="0.3"/>
<circle cx="72.90" cy="722.07" r="1.15" fill="#1f86d8" stroke="#0a3a6a" stroke-width="0.3"/>
<rect x="75.04" y="722.00" width="4.70" height="4.70" fill="#fcc8cf" stroke="#3a3a3a" stroke-width="0.55"/>
<line x1="77.39" y1="725.90" x2="77.39" y2="726.70" stroke="#333" stroke-width="0.5"/>
<circle cx="77.58" cy="726.59" r="1.15" fill="#d42028" stroke="#7a1010" stroke-width="0.3"/>
<circle cx="77.34" cy="725.90" r="1.15" fill="#d42028" stroke="#7a1010" stroke-width="0.3"/>
<circle cx="77.12" cy="726.70" r="1.15" fill="#d42028" stroke="#7a1010" stroke-width="0.3"/>
<text x="78.54" y="782.40" font-size="10.0" text-anchor="end" fill="#111" font-weight="normal" transform="rotate(-90 78.54 782.40)">21</text>
<rect x="84.01" y="714.45" width="4.70" height="7.55" fill="#9ad7f9" stroke="#3a3a3a" stroke-width="0.55"/>
<line x1="86.36" y1="710.96" x2="86.36" y2="714.45" stroke="#333" stroke-width="0.5"/>
<circle cx="86.61" cy="710.96" r="1.15" fill="#1f86d8" stroke="#0a3a6a" stroke-width="0.3"/>
<circle cx="86.14" cy="710.97" r="1.15" fill="#1f86d8" stroke="#0a3a6a" stroke-width="0.3"/>
<circle cx="86.04" cy="712.07" r="1.15" fill="#1f86d8" stroke="#0a3a6a" stroke-width="0.3"/>
<rect x="88.91" y="715.29" width="4.70" height="6.71" fill="#fcc8cf" stroke="#3a3a3a" stroke-width="0.55"/>
<line x1="91.26" y1="713.53" x2="91.26" y2="718.14" stroke="#333" stroke-width="0.5"/>
<circle cx="91.14" cy="716.69" r="1.15" fill="#d42028" stroke="#7a1010" stroke-width="0.3"/>
<circle cx="91.68" cy="718.14" r="1.15" fill="#d42028" stroke="#7a1010" stroke-width="0.3"/>
<circle cx="91.12" cy="713.53" r="1.15" fill="#d42028" stroke="#7a1010" stroke-width="0.3"/>
<text x="92.41" y="782.40" font-size="10.0" text-anchor="end" fill="#111" font-weight="normal" transform="rotate(-90 92.41 782.40)">25</text>
<rect x="97.88" y="722.00" width="4.70" height="12.58" fill="#9ad7f9" stroke="#3a3a3a" stroke-width="0.55"/>
<line x1="100.23" y1="730.28" x2="100.23" y2="739.26" stroke="#333" stroke-width="0.5"/>
<circle cx="99.88" cy="730.28" r="1.15" fill="#1f86d8" stroke="#0a3a6a" stroke-width="0.3"/>
<circle cx="100.72" cy="731.32" r="1.15" fill="#1f86d8" stroke="#0a3a6a" stroke-width="0.3"/>
<circle cx="100.19" cy="739.26" r="1.15" fill="#1f86d8" stroke="#0a3a6a" stroke-width="0.3"/>
<rect x="102.78" y="722.00" width="4.70" height="13.08" fill="#fcc8cf" stroke="#3a3a3a" stroke-width="0.55"/>
<line x1="105.13" y1="730.46" x2="105.13" y2="739.18" stroke="#333" stroke-width="0.5"/>
<circle cx="105.29" cy="730.46" r="1.15" fill="#d42028" stroke="#7a1010" stroke-width="0.3"/>
<circle cx="105.46" cy="736.07" r="1.15" fill="#d42028" stroke="#7a1010" stroke-width="0.3"/>
<circle cx="104.85" cy="739.18" r="1.15" fill="#d42028" stroke="#7a1010" stroke-width="0.3"/>
<text x="106.28" y="782.40" font-size="10.0" text-anchor="end" fill="#111" font-weight="normal" transform="rotate(-90 106.28 782.40)">28</text>
<rect x="111.75" y="696.01" width="4.70" height="25.99" fill="#9ad7f9" stroke="#3a3a3a" stroke-width="0.55"/>
<line x1="114.10" y1="688.74" x2="114.10" y2="702.47" stroke="#333" stroke-width="0.5"/>
<circle cx="114.41" cy="702.47" r="1.15" fill="#1f86d8" stroke="#0a3a6a" stroke-width="0.3"/>
<circle cx="113.64" cy="698.63" r="1.15" fill="#1f86d8" stroke="#0a3a6a" stroke-width="0.3"/>
<circle cx="113.80" cy="688.74" r="1.15" fill="#1f86d8" stroke="#0a3a6a" stroke-width="0.3"/>
<rect x="116.65" y="687.62" width="4.70" height="34.38" fill="#fcc8cf" stroke="#3a3a3a" stroke-width="0.55"/>
<line x1="119.00" y1="681.81" x2="119.00" y2="696.24" stroke="#333" stroke-width="0.5"/>
<circle cx="118.61" cy="695.43" r="1.15" fill="#d42028" stroke="#7a1010" stroke-width="0.3"/>
<circle cx="119.07" cy="696.24" r="1.15" fill="#d42028" stroke="#7a1010" stroke-width="0.3"/>
<circle cx="118.94" cy="681.81" r="1.15" fill="#d42028" stroke="#7a1010" stroke-width="0.3"/>
<text x="120.15" y="782.40" font-size="10.0" text-anchor="end" fill="#111" font-weight="normal" transform="rotate(-90 120.15 782.40)">29</text>
<rect x="125.62" y="722.00" width="4.70" height="0.60" fill="#9ad7f9" stroke="#3a3a3a" stroke-width="0.55"/>
<line x1="127.97" y1="721.64" x2="127.97" y2="723.88" stroke="#333" stroke-width="0.5"/>
<circle cx="128.14" cy="723.65" r="1.15" fill="#1f86d8" stroke="#0a3a6a" stroke-width="0.3"/>
<circle cx="127.51" cy="721.64" r="1.15" fill="#1f86d8" stroke="#0a3a6a" stroke-width="0.3"/>
<circle cx="127.87" cy="723.88" r="1.15" fill="#1f86d8" stroke="#0a3a6a" stroke-width="0.3"/>
<rect x="130.52" y="722.00" width="4.70" height="0.84" fill="#fcc8cf" stroke="#3a3a3a" stroke-width="0.55"/>
<line x1="132.87" y1="721.01" x2="132.87" y2="723.95" stroke="#333" stroke-width="0.5"/>
<circle cx="133.23" cy="723.95" r="1.15" fill="#d42028" stroke="#7a1010" stroke-width="0.3"/>
<circle cx="132.63" cy="723.73" r="1.15" fill="#d42028" stroke="#7a1010" stroke-width="0.3"/>
<circle cx="133.33" cy="721.01" r="1.15" fill="#d42028" stroke="#7a1010" stroke-width="0.3"/>
<text x="134.02" y="782.40" font-size="10.0" text-anchor="end" fill="#111" font-weight="normal" transform="rotate(-90 134.02 782.40)">31</text>
<rect x="139.49" y="722.00" width="4.70" height="15.09" fill="#9ad7f9" stroke="#3a3a3a" stroke-width="0.55"/>
<line x1="141.84" y1="733.35" x2="141.84" y2="740.15" stroke="#333" stroke-width="0.5"/>
<circle cx="142.01" cy="740.15" r="1.15" fill="#1f86d8" stroke="#0a3a6a" stroke-width="0.3"/>
<circle cx="141.36" cy="738.21" r="1.15" fill="#1f86d8" stroke="#0a3a6a" stroke-width="0.3"/>
<circle cx="142.43" cy="733.35" r="1.15" fill="#1f86d8" stroke="#0a3a6a" stroke-width="0.3"/>
<rect x="144.39" y="722.00" width="4.70" height="13.42" fill="#fcc8cf" stroke="#3a3a3a" stroke-width="0.55"/>
<line x1="146.74" y1="732.75" x2="146.74" y2="738.22" stroke="#333" stroke-width="0.5"/>
<circle cx="146.53" cy="738.22" r="1.15" fill="#d42028" stroke="#7a1010" stroke-width="0.3"/>
<circle cx="146.50" cy="737.78" r="1.15" fill="#d42028" stroke="#7a1010" stroke-width="0.3"/>
<circle cx="146.23" cy="732.75" r="1.15" fill="#d42028" stroke="#7a1010" stroke-width="0.3"/>
<text x="147.89" y="782.40" font-size="10.0" text-anchor="end" fill="#111" font-weight="normal" transform="rotate(-90 147.89 782.40)">34</text>
<rect x="153.36" y="722.00" width="4.70" height="5.37" fill="#9ad7f9" stroke="#3a3a3a" stroke-width="0.55"/>
<line x1="155.71" y1="726.87" x2="155.71" y2="729.83" stroke="#333" stroke-width="0.5"/>
<circle cx="155.83" cy="729.83" r="1.15" fill="#1f86d8" stroke="#0a3a6a" stroke-width="0.3"/>
<circle cx="155.56" cy="726.87" r="1.15" fill="#1f86d8" stroke="#0a3a6a" stroke-width="0.3"/>
<circle cx="155.65" cy="728.91" r="1.15" fill="#1f86d8" stroke="#0a3a6a" stroke-width="0.3"/>
<rect x="158.26" y="722.00" width="4.70" height="3.69" fill="#fcc8cf" stroke="#3a3a3a" stroke-width="0.55"/>
<line x1="160.61" y1="723.30" x2="160.61" y2="725.77" stroke="#333" stroke-width="0.5"/>
<circle cx="161.05" cy="723.30" r="1.15" fill="#d42028" stroke="#7a1010" stroke-width="0.3"/>
<circle cx="160.23" cy="725.77" r="1.15" fill="#d42028" stroke="#7a1010" stroke-width="0.3"/>
<circle cx="160.19" cy="725.30" r="1.15" fill="#d42028" stroke="#7a1010" stroke-width="0.3"/>
<text x="161.76" y="782.40" font-size="10.0" text-anchor="end" fill="#111" font-weight="normal" transform="rotate(-90 161.76 782.40)">35</text>
<rect x="167.23" y="722.00" width="4.70" height="1.68" fill="#9ad7f9" stroke="#3a3a3a" stroke-width="0.55"/>
<line x1="169.58" y1="721.93" x2="169.58" y2="724.75" stroke="#333" stroke-width="0.5"/>
<circle cx="169.21" cy="721.93" r="1.15" fill="#1f86d8" stroke="#0a3a6a" stroke-width="0.3"/>
<circle cx="169.87" cy="722.32" r="1.15" fill="#1f86d8" stroke="#0a3a6a" stroke-width="0.3"/>
<circle cx="170.11" cy="724.75" r="1.15" fill="#1f86d8" stroke="#0a3a6a" stroke-width="0.3"/>
<rect x="172.13" y="722.00" width="4.70" height="1.01" fill="#fcc8cf" stroke="#3a3a3a" stroke-width="0.55"/>
<line x1="174.48" y1="721.22" x2="174.48" y2="724.21" stroke="#333" stroke-width="0.5"/>
<circle cx="174.60" cy="724.21" r="1.15" fill="#d42028" stroke="#7a1010" stroke-width="0.3"/>
<circle cx="174.39" cy="721.22" r="1.15" fill="#d42028" stroke="#7a1010" stroke-width="0.3"/>
<circle cx="174.00" cy="721.49" r="1.15" fill="#d42028" stroke="#7a1010" stroke-width="0.3"/>
<text x="175.63" y="782.40" font-size="10.0" text-anchor="end" fill="#111" font-weight="normal" transform="rotate(-90 175.63 782.40)">37</text>
<rect x="181.10" y="720.99" width="4.70" height="1.01" fill="#9ad7f9" stroke="#3a3a3a" stroke-width="0.55"/>
<line x1="183.45" y1="719.16" x2="183.45" y2="722.82" stroke="#333" stroke-width="0.5"/>
<circle cx="183.70" cy="722.82" r="1.15" fill="#1f86d8" stroke="#0a3a6a" stroke-width="0.3"/>
<circle cx="183.16" cy="719.16" r="1.15" fill="#1f86d8" stroke="#0a3a6a" stroke-width="0.3"/>
<circle cx="183.84" cy="722.03" r="1.15" fill="#1f86d8" stroke="#0a3a6a" stroke-width="0.3"/>
<rect x="186.00" y="720.32" width="4.70" height="1.68" fill="#fcc8cf" stroke="#3a3a3a" stroke-width="0.55"/>
<line x1="188.35" y1="719.91" x2="188.35" y2="721.71" stroke="#333" stroke-width="0.5"/>
<circle cx="188.61" cy="719.91" r="1.15" fill="#d42028" stroke="#7a1010" stroke-width="0.3"/>
<circle cx="187.83" cy="721.21" r="1.15" fill="#d42028" stroke="#7a1010" stroke-width="0.3"/>
<circle cx="188.02" cy="721.71" r="1.15" fill="#d42028" stroke="#7a1010" stroke-width="0.3"/>
<text x="189.50" y="782.40" font-size="10.0" text-anchor="end" fill="#111" font-weight="normal" transform="rotate(-90 189.50 782.40)">38</text>
<rect x="194.97" y="722.00" width="4.70" height="0.60" fill="#9ad7f9" stroke="#3a3a3a" stroke-width="0.55"/>
<line x1="197.32" y1="721.05" x2="197.32" y2="722.34" stroke="#333" stroke-width="0.5"/>
<circle cx="197.06" cy="722.12" r="1.15" fill="#1f86d8" stroke="#0a3a6a" stroke-width="0.3"/>
<circle cx="197.82" cy="721.05" r="1.15" fill="#1f86d8" stroke="#0a3a6a" stroke-width="0.3"/>
<circle cx="196.96" cy="721.92" r="1.15" fill="#1f86d8" stroke="#0a3a6a" stroke-width="0.3"/>
<rect x="199.87" y="722.00" width="4.70" height="0.60" fill="#fcc8cf" stroke="#3a3a3a" stroke-width="0.55"/>
<line x1="202.22" y1="722.34" x2="202.22" y2="724.10" stroke="#333" stroke-width="0.5"/>
<circle cx="201.69" cy="724.10" r="1.15" fill="#d42028" stroke="#7a1010" stroke-width="0.3"/>
<circle cx="201.83" cy="723.18" r="1.15" fill="#d42028" stroke="#7a1010" stroke-width="0.3"/>
<circle cx="202.06" cy="722.53" r="1.15" fill="#d42028" stroke="#7a1010" stroke-width="0.3"/>
<text x="203.37" y="782.40" font-size="10.0" text-anchor="end" fill="#111" font-weight="normal" transform="rotate(-90 203.37 782.40)">114</text>
<rect x="208.84" y="722.00" width="4.70" height="16.77" fill="#9ad7f9" stroke="#3a3a3a" stroke-width="0.55"/>
<line x1="211.19" y1="737.95" x2="211.19" y2="742.95" stroke="#333" stroke-width="0.5"/>
<circle cx="211.66" cy="737.95" r="1.15" fill="#1f86d8" stroke="#0a3a6a" stroke-width="0.3"/>
<circle cx="211.77" cy="742.95" r="1.15" fill="#1f86d8" stroke="#0a3a6a" stroke-width="0.3"/>
<circle cx="211.38" cy="740.33" r="1.15" fill="#1f86d8" stroke="#0a3a6a" stroke-width="0.3"/>
<rect x="213.74" y="722.00" width="4.70" height="10.06" fill="#fcc8cf" stroke="#3a3a3a" stroke-width="0.55"/>
<line x1="216.09" y1="730.49" x2="216.09" y2="735.01" stroke="#333" stroke-width="0.5"/>
<circle cx="215.53" cy="730.49" r="1.15" fill="#d42028" stroke="#7a1010" stroke-width="0.3"/>
<circle cx="215.51" cy="731.37" r="1.15" fill="#d42028" stroke="#7a1010" stroke-width="0.3"/>
<circle cx="216.58" cy="735.01" r="1.15" fill="#d42028" stroke="#7a1010" stroke-width="0.3"/>
<text x="217.24" y="782.40" font-size="10.0" text-anchor="end" fill="#111" font-weight="normal" transform="rotate(-90 217.24 782.40)">134</text>
<rect x="222.71" y="708.58" width="4.70" height="13.42" fill="#9ad7f9" stroke="#3a3a3a" stroke-width="0.55"/>
<line x1="225.06" y1="704.06" x2="225.06" y2="713.26" stroke="#333" stroke-width="0.5"/>
<circle cx="225.22" cy="706.62" r="1.15" fill="#1f86d8" stroke="#0a3a6a" stroke-width="0.3"/>
<circle cx="225.04" cy="704.06" r="1.15" fill="#1f86d8" stroke="#0a3a6a" stroke-width="0.3"/>
<circle cx="225.34" cy="713.26" r="1.15" fill="#1f86d8" stroke="#0a3a6a" stroke-width="0.3"/>
<rect x="227.61" y="710.26" width="4.70" height="11.74" fill="#fcc8cf" stroke="#3a3a3a" stroke-width="0.55"/>
<line x1="229.96" y1="705.78" x2="229.96" y2="714.08" stroke="#333" stroke-width="0.5"/>
<circle cx="230.02" cy="711.89" r="1.15" fill="#d42028" stroke="#7a1010" stroke-width="0.3"/>
<circle cx="230.24" cy="705.78" r="1.15" fill="#d42028" stroke="#7a1010" stroke-width="0.3"/>
<circle cx="230.44" cy="714.08" r="1.15" fill="#d42028" stroke="#7a1010" stroke-width="0.3"/>
<text x="231.11" y="782.40" font-size="10.0" text-anchor="end" fill="#111" font-weight="normal" transform="rotate(-90 231.11 782.40)">135</text>
<rect x="236.58" y="711.60" width="4.70" height="10.40" fill="#9ad7f9" stroke="#3a3a3a" stroke-width="0.55"/>
<line x1="238.93" y1="709.15" x2="238.93" y2="711.60" stroke="#333" stroke-width="0.5"/>
<circle cx="239.43" cy="709.62" r="1.15" fill="#1f86d8" stroke="#0a3a6a" stroke-width="0.3"/>
<circle cx="238.75" cy="709.90" r="1.15" fill="#1f86d8" stroke="#0a3a6a" stroke-width="0.3"/>
<circle cx="239.15" cy="709.15" r="1.15" fill="#1f86d8" stroke="#0a3a6a" stroke-width="0.3"/>
<rect x="241.48" y="711.10" width="4.70" height="10.90" fill="#fcc8cf" stroke="#3a3a3a" stroke-width="0.55"/>
<line x1="243.83" y1="707.66" x2="243.83" y2="711.81" stroke="#333" stroke-width="0.5"/>
<circle cx="244.18" cy="707.66" r="1.15" fill="#d42028" stroke="#7a1010" stroke-width="0.3"/>
<circle cx="244.27" cy="707.91" r="1.15" fill="#d42028" stroke="#7a1010" stroke-width="0.3"/>
<circle cx="243.92" cy="711.81" r="1.15" fill="#d42028" stroke="#7a1010" stroke-width="0.3"/>
<text x="244.98" y="782.40" font-size="10.0" text-anchor="end" fill="#111" font-weight="normal" transform="rotate(-90 244.98 782.40)">136</text>
<rect x="250.45" y="722.00" width="4.70" height="25.15" fill="#9ad7f9" stroke="#3a3a3a" stroke-width="0.55"/>
<line x1="252.80" y1="745.25" x2="252.80" y2="748.95" stroke="#333" stroke-width="0.5"/>
<circle cx="252.93" cy="745.25" r="1.15" fill="#1f86d8" stroke="#0a3a6a" stroke-width="0.3"/>
<circle cx="252.30" cy="748.95" r="1.15" fill="#1f86d8" stroke="#0a3a6a" stroke-width="0.3"/>
<circle cx="252.97" cy="745.89" r="1.15" fill="#1f86d8" stroke="#0a3a6a" stroke-width="0.3"/>
<rect x="255.35" y="722.00" width="4.70" height="27.67" fill="#fcc8cf" stroke="#3a3a3a" stroke-width="0.55"/>
<line x1="257.70" y1="741.56" x2="257.70" y2="749.67" stroke="#333" stroke-width="0.5"/>
<circle cx="257.57" cy="741.56" r="1.15" fill="#d42028" stroke="#7a1010" stroke-width="0.3"/>
<circle cx="257.98" cy="743.43" r="1.15" fill="#d42028" stroke="#7a1010" stroke-width="0.3"/>
<circle cx="257.80" cy="745.92" r="1.15" fill="#d42028" stroke="#7a1010" stroke-width="0.3"/>
<text x="258.85" y="782.40" font-size="10.0" text-anchor="end" fill="#111" font-weight="normal" transform="rotate(-90 258.85 782.40)">138</text>
<rect x="264.32" y="722.00" width="4.70" height="32.70" fill="#9ad7f9" stroke="#3a3a3a" stroke-width="0.55"/>
<line x1="266.67" y1="748.34" x2="266.67" y2="762.52" stroke="#333" stroke-width="0.5"/>
<circle cx="266.97" cy="755.82" r="1.15" fill="#1f86d8" stroke="#0a3a6a" stroke-width="0.3"/>
<circle cx="266.11" cy="748.34" r="1.15" fill="#1f86d8" stroke="#0a3a6a" stroke-width="0.3"/>
<circle cx="266.79" cy="762.52" r="1.15" fill="#1f86d8" stroke="#0a3a6a" stroke-width="0.3"/>
<rect x="269.22" y="722.00" width="4.70" height="29.35" fill="#fcc8cf" stroke="#3a3a3a" stroke-width="0.55"/>
<line x1="271.57" y1="747.93" x2="271.57" y2="755.99" stroke="#333" stroke-width="0.5"/>
<circle cx="271.57" cy="751.68" r="1.15" fill="#d42028" stroke="#7a1010" stroke-width="0.3"/>
<circle cx="271.71" cy="755.99" r="1.15" fill="#d42028" stroke="#7a1010" stroke-width="0.3"/>
<circle cx="272.07" cy="747.93" r="1.15" fill="#d42028" stroke="#7a1010" stroke-width="0.3"/>
<text x="272.72" y="782.40" font-size="10.0" text-anchor="end" fill="#111" font-weight="normal" transform="rotate(-90 272.72 782.40)">139</text>
<rect x="278.19" y="722.00" width="4.70" height="7.71" fill="#9ad7f9" stroke="#3a3a3a" stroke-width="0.55"/>
<line x1="280.54" y1="729.71" x2="280.54" y2="733.18" stroke="#333" stroke-width="0.5"/>
<circle cx="280.75" cy="731.45" r="1.15" fill="#1f86d8" stroke="#0a3a6a" stroke-width="0.3"/>
<circle cx="280.18" cy="733.18" r="1.15" fill="#1f86d8" stroke="#0a3a6a" stroke-width="0.3"/>
<circle cx="280.14" cy="731.13" r="1.15" fill="#1f86d8" stroke="#0a3a6a" stroke-width="0.3"/>
<rect x="283.09" y="722.00" width="4.70" height="5.87" fill="#fcc8cf" stroke="#3a3a3a" stroke-width="0.55"/>
<line x1="285.44" y1="725.34" x2="285.44" y2="728.23" stroke="#333" stroke-width="0.5"/>
<circle cx="285.91" cy="725.34" r="1.15" fill="#d42028" stroke="#7a1010" stroke-width="0.3"/>
<circle cx="285.23" cy="726.87" r="1.15" fill="#d42028" stroke="#7a1010" stroke-width="0.3"/>
<circle cx="285.64" cy="728.23" r="1.15" fill="#d42028" stroke="#7a1010" stroke-width="0.3"/>
<text x="286.59" y="782.40" font-size="10.0" text-anchor="end" fill="#111" font-weight="normal" transform="rotate(-90 286.59 782.40)">140</text>
<rect x="292.06" y="722.00" width="4.70" height="28.84" fill="#9ad7f9" stroke="#3a3a3a" stroke-width="0.55"/>
<line x1="294.41" y1="745.65" x2="294.41" y2="755.97" stroke="#333" stroke-width="0.5"/>
<circle cx="294.91" cy="755.97" r="1.15" fill="#1f86d8" stroke="#0a3a6a" stroke-width="0.3"/>
<circle cx="294.87" cy="752.02" r="1.15" fill="#1f86d8" stroke="#0a3a6a" stroke-width="0.3"/>
<circle cx="294.27" cy="745.65" r="1.15" fill="#1f86d8" stroke="#0a3a6a" stroke-width="0.3"/>
<rect x="296.96" y="722.00" width="4.70" height="9.22" fill="#fcc8cf" stroke="#3a3a3a" stroke-width="0.55"/>
<line x1="299.31" y1="730.57" x2="299.31" y2="734.06" stroke="#333" stroke-width="0.5"/>
<circle cx="299.31" cy="730.57" r="1.15" fill="#d42028" stroke="#7a1010" stroke-width="0.3"/>
<circle cx="299.71" cy="732.66" r="1.15" fill="#d42028" stroke="#7a1010" stroke-width="0.3"/>
<circle cx="299.73" cy="734.06" r="1.15" fill="#d42028" stroke="#7a1010" stroke-width="0.3"/>
<text x="300.46" y="782.40" font-size="10.0" text-anchor="end" fill="#111" font-weight="normal" transform="rotate(-90 300.46 782.40)">142</text>
<rect x="305.93" y="722.00" width="4.70" height="18.45" fill="#9ad7f9" stroke="#3a3a3a" stroke-width="0.55"/>
<line x1="308.28" y1="734.99" x2="308.28" y2="743.15" stroke="#333" stroke-width="0.5"/>
<circle cx="307.88" cy="737.89" r="1.15" fill="#1f86d8" stroke="#0a3a6a" stroke-width="0.3"/>
<circle cx="308.22" cy="734.99" r="1.15" fill="#1f86d8" stroke="#0a3a6a" stroke-width="0.3"/>
<circle cx="308.01" cy="743.15" r="1.15" fill="#1f86d8" stroke="#0a3a6a" stroke-width="0.3"/>
<rect x="310.83" y="722.00" width="4.70" height="18.45" fill="#fcc8cf" stroke="#3a3a3a" stroke-width="0.55"/>
<line x1="313.18" y1="738.92" x2="313.18" y2="743.91" stroke="#333" stroke-width="0.5"/>
<circle cx="313.17" cy="743.91" r="1.15" fill="#d42028" stroke="#7a1010" stroke-width="0.3"/>
<circle cx="312.96" cy="741.49" r="1.15" fill="#d42028" stroke="#7a1010" stroke-width="0.3"/>
<circle cx="313.59" cy="738.92" r="1.15" fill="#d42028" stroke="#7a1010" stroke-width="0.3"/>
<text x="314.33" y="782.40" font-size="10.0" text-anchor="end" fill="#111" font-weight="normal" transform="rotate(-90 314.33 782.40)">143</text>
<rect x="319.80" y="722.00" width="4.70" height="6.37" fill="#9ad7f9" stroke="#3a3a3a" stroke-width="0.55"/>
<line x1="322.15" y1="725.25" x2="322.15" y2="731.12" stroke="#333" stroke-width="0.5"/>
<circle cx="321.59" cy="725.25" r="1.15" fill="#1f86d8" stroke="#0a3a6a" stroke-width="0.3"/>
<circle cx="322.60" cy="728.68" r="1.15" fill="#1f86d8" stroke="#0a3a6a" stroke-width="0.3"/>
<circle cx="321.60" cy="731.12" r="1.15" fill="#1f86d8" stroke="#0a3a6a" stroke-width="0.3"/>
<rect x="324.70" y="722.00" width="4.70" height="3.02" fill="#fcc8cf" stroke="#3a3a3a" stroke-width="0.55"/>
<line x1="327.05" y1="724.00" x2="327.05" y2="725.95" stroke="#333" stroke-width="0.5"/>
<circle cx="327.40" cy="724.00" r="1.15" fill="#d42028" stroke="#7a1010" stroke-width="0.3"/>
<circle cx="326.47" cy="724.67" r="1.15" fill="#d42028" stroke="#7a1010" stroke-width="0.3"/>
<circle cx="326.61" cy="725.95" r="1.15" fill="#d42028" stroke="#7a1010" stroke-width="0.3"/>
<text x="328.20" y="782.40" font-size="10.0" text-anchor="end" fill="#111" font-weight="normal" transform="rotate(-90 328.20 782.40)">144</text>
<rect x="333.67" y="722.00" width="4.70" height="8.38" fill="#9ad7f9" stroke="#3a3a3a" stroke-width="0.55"/>
<line x1="336.02" y1="727.94" x2="336.02" y2="733.91" stroke="#333" stroke-width="0.5"/>
<circle cx="335.70" cy="730.72" r="1.15" fill="#1f86d8" stroke="#0a3a6a" stroke-width="0.3"/>
<circle cx="335.59" cy="733.91" r="1.15" fill="#1f86d8" stroke="#0a3a6a" stroke-width="0.3"/>
<circle cx="335.48" cy="727.94" r="1.15" fill="#1f86d8" stroke="#0a3a6a" stroke-width="0.3"/>
<rect x="338.57" y="722.00" width="4.70" height="10.06" fill="#fcc8cf" stroke="#3a3a3a" stroke-width="0.55"/>
<line x1="340.92" y1="731.00" x2="340.92" y2="732.50" stroke="#333" stroke-width="0.5"/>
<circle cx="341.11" cy="731.00" r="1.15" fill="#d42028" stroke="#7a1010" stroke-width="0.3"/>
<circle cx="341.29" cy="732.50" r="1.15" fill="#d42028" stroke="#7a1010" stroke-width="0.3"/>
<circle cx="341.47" cy="731.00" r="1.15" fill="#d42028" stroke="#7a1010" stroke-width="0.3"/>
<text x="342.07" y="782.40" font-size="10.0" text-anchor="end" fill="#111" font-weight="normal" transform="rotate(-90 342.07 782.40)">146</text>
<rect x="347.54" y="722.00" width="4.70" height="15.09" fill="#9ad7f9" stroke="#3a3a3a" stroke-width="0.55"/>
<line x1="349.89" y1="735.15" x2="349.89" y2="740.27" stroke="#333" stroke-width="0.5"/>
<circle cx="349.50" cy="735.15" r="1.15" fill="#1f86d8" stroke="#0a3a6a" stroke-width="0.3"/>
<circle cx="349.30" cy="740.27" r="1.15" fill="#1f86d8" stroke="#0a3a6a" stroke-width="0.3"/>
<circle cx="349.86" cy="737.36" r="1.15" fill="#1f86d8" stroke="#0a3a6a" stroke-width="0.3"/>
<rect x="352.44" y="722.00" width="4.70" height="11.40" fill="#fcc8cf" stroke="#3a3a3a" stroke-width="0.55"/>
<line x1="354.79" y1="731.51" x2="354.79" y2="736.24" stroke="#333" stroke-width="0.5"/>
<circle cx="354.60" cy="731.51" r="1.15" fill="#d42028" stroke="#7a1010" stroke-width="0.3"/>
<circle cx="355.03" cy="736.24" r="1.15" fill="#d42028" stroke="#7a1010" stroke-width="0.3"/>
<circle cx="354.81" cy="735.41" r="1.15" fill="#d42028" stroke="#7a1010" stroke-width="0.3"/>
<text x="355.94" y="782.40" font-size="10.0" text-anchor="end" fill="#111" font-weight="normal" transform="rotate(-90 355.94 782.40)">147</text>
<rect x="361.41" y="718.31" width="4.70" height="3.69" fill="#9ad7f9" stroke="#3a3a3a" stroke-width="0.55"/>
<line x1="363.76" y1="716.97" x2="363.76" y2="718.87" stroke="#333" stroke-width="0.5"/>
<circle cx="364.11" cy="717.71" r="1.15" fill="#1f86d8" stroke="#0a3a6a" stroke-width="0.3"/>
<circle cx="364.25" cy="716.97" r="1.15" fill="#1f86d8" stroke="#0a3a6a" stroke-width="0.3"/>
<circle cx="363.26" cy="718.87" r="1.15" fill="#1f86d8" stroke="#0a3a6a" stroke-width="0.3"/>
<rect x="366.31" y="722.00" width="4.70" height="8.38" fill="#fcc8cf" stroke="#3a3a3a" stroke-width="0.55"/>
<line x1="368.66" y1="727.18" x2="368.66" y2="733.13" stroke="#333" stroke-width="0.5"/>
<circle cx="368.60" cy="727.18" r="1.15" fill="#d42028" stroke="#7a1010" stroke-width="0.3"/>
<circle cx="368.81" cy="728.74" r="1.15" fill="#d42028" stroke="#7a1010" stroke-width="0.3"/>
<circle cx="369.15" cy="733.13" r="1.15" fill="#d42028" stroke="#7a1010" stroke-width="0.3"/>
<text x="369.81" y="782.40" font-size="10.0" text-anchor="end" fill="#111" font-weight="normal" transform="rotate(-90 369.81 782.40)">179</text>
<rect x="375.28" y="722.00" width="4.70" height="35.22" fill="#9ad7f9" stroke="#3a3a3a" stroke-width="0.55"/>
<line x1="377.63" y1="749.64" x2="377.63" y2="759.68" stroke="#333" stroke-width="0.5"/>
<circle cx="377.99" cy="759.68" r="1.15" fill="#1f86d8" stroke="#0a3a6a" stroke-width="0.3"/>
<circle cx="378.16" cy="755.84" r="1.15" fill="#1f86d8" stroke="#0a3a6a" stroke-width="0.3"/>
<circle cx="377.59" cy="749.64" r="1.15" fill="#1f86d8" stroke="#0a3a6a" stroke-width="0.3"/>
<rect x="380.18" y="722.00" width="4.70" height="35.22" fill="#fcc8cf" stroke="#3a3a3a" stroke-width="0.55"/>
<line x1="382.53" y1="752.79" x2="382.53" y2="763.11" stroke="#333" stroke-width="0.5"/>
<circle cx="382.91" cy="754.20" r="1.15" fill="#d42028" stroke="#7a1010" stroke-width="0.3"/>
<circle cx="382.70" cy="763.11" r="1.15" fill="#d42028" stroke="#7a1010" stroke-width="0.3"/>
<circle cx="382.79" cy="752.79" r="1.15" fill="#d42028" stroke="#7a1010" stroke-width="0.3"/>
<text x="383.68" y="782.40" font-size="10.0" text-anchor="end" fill="#111" font-weight="normal" transform="rotate(-90 383.68 782.40)">183</text>
<rect x="389.15" y="722.00" width="4.70" height="1.68" fill="#9ad7f9" stroke="#3a3a3a" stroke-width="0.55"/>
<line x1="391.50" y1="721.62" x2="391.50" y2="724.90" stroke="#333" stroke-width="0.5"/>
<circle cx="392.07" cy="724.90" r="1.15" fill="#1f86d8" stroke="#0a3a6a" stroke-width="0.3"/>
<circle cx="391.54" cy="721.97" r="1.15" fill="#1f86d8" stroke="#0a3a6a" stroke-width="0.3"/>
<circle cx="391.85" cy="721.62" r="1.15" fill="#1f86d8" stroke="#0a3a6a" stroke-width="0.3"/>
<rect x="394.05" y="722.00" width="4.70" height="0.84" fill="#fcc8cf" stroke="#3a3a3a" stroke-width="0.55"/>
<line x1="396.40" y1="721.25" x2="396.40" y2="723.54" stroke="#333" stroke-width="0.5"/>
<circle cx="396.22" cy="723.54" r="1.15" fill="#d42028" stroke="#7a1010" stroke-width="0.3"/>
<circle cx="395.90" cy="721.25" r="1.15" fill="#d42028" stroke="#7a1010" stroke-width="0.3"/>
<circle cx="396.33" cy="721.46" r="1.15" fill="#d42028" stroke="#7a1010" stroke-width="0.3"/>
<text x="397.55" y="782.40" font-size="10.0" text-anchor="end" fill="#111" font-weight="normal" transform="rotate(-90 397.55 782.40)">206</text>
<rect x="403.02" y="722.00" width="4.70" height="35.22" fill="#9ad7f9" stroke="#3a3a3a" stroke-width="0.55"/>
<line x1="405.37" y1="751.86" x2="405.37" y2="757.47" stroke="#333" stroke-width="0.5"/>
<circle cx="404.80" cy="756.21" r="1.15" fill="#1f86d8" stroke="#0a3a6a" stroke-width="0.3"/>
<circle cx="405.74" cy="751.86" r="1.15" fill="#1f86d8" stroke="#0a3a6a" stroke-width="0.3"/>
<circle cx="404.85" cy="757.47" r="1.15" fill="#1f86d8" stroke="#0a3a6a" stroke-width="0.3"/>
<rect x="407.92" y="722.00" width="4.70" height="27.67" fill="#fcc8cf" stroke="#3a3a3a" stroke-width="0.55"/>
<line x1="410.27" y1="744.74" x2="410.27" y2="755.05" stroke="#333" stroke-width="0.5"/>
<circle cx="410.62" cy="744.74" r="1.15" fill="#d42028" stroke="#7a1010" stroke-width="0.3"/>
<circle cx="409.84" cy="755.05" r="1.15" fill="#d42028" stroke="#7a1010" stroke-width="0.3"/>
<circle cx="409.85" cy="752.38" r="1.15" fill="#d42028" stroke="#7a1010" stroke-width="0.3"/>
<text x="411.42" y="782.40" font-size="10.0" text-anchor="end" fill="#111" font-weight="normal" transform="rotate(-90 411.42 782.40)">207</text>
<rect x="416.89" y="722.00" width="4.70" height="1.68" fill="#9ad7f9" stroke="#3a3a3a" stroke-width="0.55"/>
<line x1="419.24" y1="722.22" x2="419.24" y2="723.68" stroke="#333" stroke-width="0.5"/>
<circle cx="419.47" cy="723.61" r="1.15" fill="#1f86d8" stroke="#0a3a6a" stroke-width="0.3"/>
<circle cx="419.77" cy="722.72" r="1.15" fill="#1f86d8" stroke="#0a3a6a" stroke-width="0.3"/>
<circle cx="419.23" cy="722.22" r="1.15" fill="#1f86d8" stroke="#0a3a6a" stroke-width="0.3"/>
<rect x="421.79" y="722.00" width="4.70" height="2.52" fill="#fcc8cf" stroke="#3a3a3a" stroke-width="0.55"/>
<line x1="424.14" y1="722.42" x2="424.14" y2="726.45" stroke="#333" stroke-width="0.5"/>
<circle cx="424.17" cy="722.42" r="1.15" fill="#d42028" stroke="#7a1010" stroke-width="0.3"/>
<circle cx="423.89" cy="726.45" r="1.15" fill="#d42028" stroke="#7a1010" stroke-width="0.3"/>
<circle cx="424.41" cy="725.82" r="1.15" fill="#d42028" stroke="#7a1010" stroke-width="0.3"/>
<text x="425.29" y="782.40" font-size="10.0" text-anchor="end" fill="#111" font-weight="normal" transform="rotate(-90 425.29 782.40)">210</text>
<rect x="430.76" y="722.00" width="4.70" height="1.68" fill="#9ad7f9" stroke="#3a3a3a" stroke-width="0.55"/>
<line x1="433.11" y1="722.21" x2="433.11" y2="723.68" stroke="#333" stroke-width="0.5"/>
<circle cx="433.18" cy="723.08" r="1.15" fill="#1f86d8" stroke="#0a3a6a" stroke-width="0.3"/>
<circle cx="432.88" cy="723.58" r="1.15" fill="#1f86d8" stroke="#0a3a6a" stroke-width="0.3"/>
<circle cx="432.97" cy="722.21" r="1.15" fill="#1f86d8" stroke="#0a3a6a" stroke-width="0.3"/>
<rect x="435.66" y="722.00" width="4.70" height="0.84" fill="#fcc8cf" stroke="#3a3a3a" stroke-width="0.55"/>
<line x1="438.01" y1="721.28" x2="438.01" y2="723.97" stroke="#333" stroke-width="0.5"/>
<circle cx="438.43" cy="721.50" r="1.15" fill="#d42028" stroke="#7a1010" stroke-width="0.3"/>
<circle cx="438.57" cy="721.28" r="1.15" fill="#d42028" stroke="#7a1010" stroke-width="0.3"/>
<circle cx="438.04" cy="723.97" r="1.15" fill="#d42028" stroke="#7a1010" stroke-width="0.3"/>
<text x="439.16" y="782.40" font-size="10.0" text-anchor="end" fill="#111" font-weight="normal" transform="rotate(-90 439.16 782.40)">211</text>
<rect x="444.63" y="722.00" width="4.70" height="5.87" fill="#9ad7f9" stroke="#3a3a3a" stroke-width="0.55"/>
<line x1="446.98" y1="727.41" x2="446.98" y2="729.73" stroke="#333" stroke-width="0.5"/>
<circle cx="446.98" cy="727.41" r="1.15" fill="#1f86d8" stroke="#0a3a6a" stroke-width="0.3"/>
<circle cx="447.11" cy="729.73" r="1.15" fill="#1f86d8" stroke="#0a3a6a" stroke-width="0.3"/>
<circle cx="446.41" cy="727.65" r="1.15" fill="#1f86d8" stroke="#0a3a6a" stroke-width="0.3"/>
<rect x="449.53" y="722.00" width="4.70" height="4.70" fill="#fcc8cf" stroke="#3a3a3a" stroke-width="0.55"/>
<line x1="451.88" y1="724.03" x2="451.88" y2="727.26" stroke="#333" stroke-width="0.5"/>
<circle cx="452.24" cy="724.03" r="1.15" fill="#d42028" stroke="#7a1010" stroke-width="0.3"/>
<circle cx="451.96" cy="726.60" r="1.15" fill="#d42028" stroke="#7a1010" stroke-width="0.3"/>
<circle cx="451.87" cy="727.26" r="1.15" fill="#d42028" stroke="#7a1010" stroke-width="0.3"/>
<text x="453.03" y="782.40" font-size="10.0" text-anchor="end" fill="#111" font-weight="normal" transform="rotate(-90 453.03 782.40)">214</text>
<rect x="41.40" y="663.80" width="414.90" height="116.40" fill="none" stroke="#666" stroke-width="0.9"/>
<line x1="38.80" y1="772.31" x2="41.40" y2="772.31" stroke="#333" stroke-width="0.9"/>
<text x="37.10" y="775.81" font-size="10.2" text-anchor="end" fill="#111" font-weight="normal">&#8722;3</text>
<line x1="38.80" y1="755.54" x2="41.40" y2="755.54" stroke="#333" stroke-width="0.9"/>
<text x="37.10" y="759.04" font-size="10.2" text-anchor="end" fill="#111" font-weight="normal">&#8722;2</text>
<line x1="38.80" y1="738.77" x2="41.40" y2="738.77" stroke="#333" stroke-width="0.9"/>
<text x="37.10" y="742.27" font-size="10.2" text-anchor="end" fill="#111" font-weight="normal">&#8722;1</text>
<line x1="38.80" y1="722.00" x2="41.40" y2="722.00" stroke="#333" stroke-width="0.9"/>
<text x="37.10" y="725.50" font-size="10.2" text-anchor="end" fill="#111" font-weight="normal">0</text>
<line x1="38.80" y1="705.23" x2="41.40" y2="705.23" stroke="#333" stroke-width="0.9"/>
<text x="37.10" y="708.73" font-size="10.2" text-anchor="end" fill="#111" font-weight="normal">1</text>
<line x1="38.80" y1="688.46" x2="41.40" y2="688.46" stroke="#333" stroke-width="0.9"/>
<text x="37.10" y="691.96" font-size="10.2" text-anchor="end" fill="#111" font-weight="normal">2</text>
<line x1="38.80" y1="671.69" x2="41.40" y2="671.69" stroke="#333" stroke-width="0.9"/>
<text x="37.10" y="675.19" font-size="10.2" text-anchor="end" fill="#111" font-weight="normal">3</text>
<line x1="39.90" y1="763.92" x2="41.40" y2="763.92" stroke="#333" stroke-width="0.7"/>
<line x1="39.90" y1="747.15" x2="41.40" y2="747.15" stroke="#333" stroke-width="0.7"/>
<line x1="39.90" y1="730.38" x2="41.40" y2="730.38" stroke="#333" stroke-width="0.7"/>
<line x1="39.90" y1="713.62" x2="41.40" y2="713.62" stroke="#333" stroke-width="0.7"/>
<line x1="39.90" y1="696.85" x2="41.40" y2="696.85" stroke="#333" stroke-width="0.7"/>
<line x1="39.90" y1="680.08" x2="41.40" y2="680.08" stroke="#333" stroke-width="0.7"/>
<rect x="354.40" y="668.90" width="23.10" height="10.80" fill="#9ad7f9" stroke="#444" stroke-width="0.7"/>
<rect x="354.40" y="684.20" width="23.10" height="11.30" fill="#fcc8cf" stroke="#444" stroke-width="0.7"/>
<text x="384.1" y="678.4" font-size="10.2" fill="#111">Heme-O<tspan font-size="7" dy="2.6">2</tspan><tspan dy="-2.6">-HO</tspan></text>
<text x="384.10" y="694.10" font-size="10.2" text-anchor="start" fill="#111" font-weight="normal">Heme-CO-HO</text>
<text x="9.00" y="722.00" font-size="10.4" text-anchor="middle" fill="#111" font-weight="normal" transform="rotate(-90 9.00 722.00)">Resi. contribution</text>
<text x="22.50" y="722.00" font-size="10.4" text-anchor="middle" fill="#111" font-weight="normal" transform="rotate(-90 22.50 722.00)">(kcal/mol)</text>
<defs><linearGradient id="rbi" gradientUnits="userSpaceOnUse" x1="0" y1="436" x2="0" y2="548"><stop offset="0.000" stop-color="#ff0000"/><stop offset="0.071" stop-color="#ff1000"/><stop offset="0.116" stop-color="#ff3000"/><stop offset="0.170" stop-color="#ff6000"/><stop offset="0.223" stop-color="#ff8800"/><stop offset="0.268" stop-color="#ffb000"/><stop offset="0.312" stop-color="#ffd800"/><stop offset="0.348" stop-color="#f0f000"/><stop offset="0.393" stop-color="#a8f000"/><stop offset="0.446" stop-color="#30ea00"/><stop offset="0.482" stop-color="#00e820"/><stop offset="0.545" stop-color="#00f0e0"/><stop offset="0.616" stop-color="#00c0ff"/><stop offset="0.705" stop-color="#0c60ff"/><stop offset="0.812" stop-color="#2424ff"/><stop offset="0.929" stop-color="#5010f0"/><stop offset="1.000" stop-color="#7000e8"/></linearGradient><filter id="fbi" x="-10%" y="-10%" width="120%" height="120%"><feGaussianBlur stdDeviation="0.8"/></filter></defs>
<text x="490.80" y="422.90" font-size="19.8" text-anchor="start" fill="#000" font-weight="bold">i</text>
<polygon points="513.20,434.10 587.40,421.80 584.00,503.60 517.70,538.80" fill="#ffffff" stroke="none" stroke-width="1"/>
<polygon points="587.40,421.80 671.60,431.60 666.50,534.60 584.00,503.60" fill="#ffffff" stroke="none" stroke-width="1"/>
<path d="M537.9,430.0L539.8,527.1M615.5,425.1L611.5,513.9M562.7,425.9L561.9,515.3M643.5,428.3L639.0,524.3M513.8,448.7L586.9,433.2L670.9,446.0M514.9,473.0L586.1,452.2L669.7,469.9M515.9,496.7L585.4,470.7L668.6,493.2M516.9,519.4L584.6,488.4L667.4,515.5" stroke="#d6d6d6" stroke-width="0.7" fill="none"/>
<polygon points="517.70,538.80 600.20,569.80 666.50,534.60 584.00,503.60" fill="#ff0000" stroke="none" stroke-width="1"/>
<g filter="url(#fbi)">
<path d="M561.6,541.0 C561.4,543.5 562.6,547.4 564.2,550.2 C565.8,552.9 568.6,555.4 571.3,557.3 C574.0,559.2 576.6,560.9 580.5,561.4 C584.4,561.9 590.4,561.9 594.8,560.4 C599.2,558.8 603.1,554.0 607.0,552.2 C610.9,550.4 615.0,550.2 618.2,549.7 C621.5,549.1 622.3,549.5 626.4,548.8 C630.5,548.2 638.3,547.2 642.7,545.7 C647.1,544.1 651.0,541.1 652.9,539.5 C654.8,537.8 654.2,537.0 653.9,535.9 C653.7,534.8 653.8,533.8 651.3,532.8 C648.7,531.9 643.5,531.0 638.6,530.3 C633.8,529.6 627.1,529.1 622.3,528.7 C617.6,528.4 614.2,528.2 610.1,528.2 C606.0,528.3 602.1,528.8 597.8,529.3 C593.6,529.7 588.5,530.2 584.6,530.8 C580.7,531.4 577.5,532.1 574.4,532.8 C571.2,533.6 567.9,533.9 565.8,535.3 C563.7,536.6 561.9,538.5 561.6,541.0Z" fill="#ff9a00" stroke="none" stroke-width="1"/>
<path d="M562.9,541.0 C562.7,543.4 563.8,547.3 565.4,549.9 C567.0,552.6 569.7,555.0 572.3,556.8 C575.0,558.7 577.5,560.3 581.3,560.8 C585.0,561.3 590.8,561.3 595.1,559.8 C599.4,558.3 603.2,553.6 607.0,551.9 C610.8,550.2 614.7,550.0 617.9,549.4 C621.0,548.9 621.8,549.3 625.8,548.6 C629.8,548.0 637.4,547.1 641.6,545.6 C645.9,544.0 649.7,541.1 651.5,539.5 C653.4,537.9 652.8,537.1 652.5,536.1 C652.3,535.0 652.4,534.0 650.0,533.1 C647.5,532.2 642.4,531.3 637.7,530.6 C633.0,530.0 626.5,529.5 621.8,529.1 C617.2,528.8 613.9,528.5 610.0,528.6 C606.0,528.7 602.2,529.2 598.1,529.6 C594.0,530.0 589.0,530.5 585.2,531.1 C581.4,531.7 578.3,532.4 575.3,533.1 C572.3,533.8 569.1,534.1 567.0,535.5 C564.9,536.8 563.2,538.6 562.9,541.0Z" fill="#ffe600" stroke="none" stroke-width="1"/>
<path d="M564.0,541.0 C563.8,543.4 564.9,547.1 566.4,549.7 C568.0,552.3 570.6,554.7 573.2,556.5 C575.8,558.2 578.2,559.8 581.9,560.3 C585.6,560.8 591.2,560.8 595.4,559.4 C599.6,557.9 603.3,553.3 607.0,551.6 C610.7,549.9 614.5,549.8 617.6,549.2 C620.6,548.7 621.4,549.1 625.3,548.5 C629.2,547.8 636.6,546.9 640.7,545.5 C644.9,544.0 648.6,541.1 650.4,539.6 C652.2,538.0 651.6,537.2 651.4,536.2 C651.1,535.2 651.3,534.2 648.9,533.3 C646.4,532.4 641.5,531.5 636.9,530.9 C632.3,530.2 626.0,529.8 621.4,529.4 C616.9,529.1 613.7,528.9 609.9,529.0 C606.0,529.0 602.3,529.5 598.3,529.9 C594.3,530.3 589.4,530.8 585.7,531.4 C582.0,531.9 579.1,532.6 576.1,533.3 C573.1,534.0 570.0,534.3 568.0,535.6 C566.0,536.9 564.3,538.7 564.0,541.0Z" fill="#40f000" stroke="none" stroke-width="1"/>
<path d="M565.1,541.0 C564.9,543.3 566.0,547.0 567.5,549.5 C569.0,552.0 571.5,554.4 574.1,556.1 C576.6,557.8 578.9,559.4 582.5,559.8 C586.1,560.3 591.6,560.3 595.7,558.9 C599.7,557.5 603.4,553.0 607.0,551.4 C610.6,549.7 614.3,549.5 617.3,549.0 C620.3,548.5 621.1,548.9 624.8,548.3 C628.6,547.7 635.8,546.8 639.9,545.4 C643.9,543.9 647.5,541.1 649.3,539.6 C651.0,538.1 650.4,537.4 650.2,536.3 C649.9,535.3 650.1,534.4 647.8,533.5 C645.4,532.7 640.5,531.8 636.1,531.2 C631.6,530.5 625.4,530.1 621.1,529.8 C616.7,529.4 613.5,529.2 609.8,529.3 C606.0,529.4 602.4,529.8 598.5,530.2 C594.6,530.6 589.9,531.1 586.3,531.6 C582.7,532.2 579.8,532.8 576.9,533.5 C574.0,534.2 570.9,534.5 569.0,535.8 C567.0,537.0 565.4,538.7 565.1,541.0Z" fill="#00f0d0" stroke="none" stroke-width="1"/>
<path d="M566.2,541.1 C566.0,543.3 567.1,546.8 568.5,549.3 C570.0,551.7 572.5,554.0 574.9,555.7 C577.4,557.4 579.6,558.9 583.1,559.4 C586.7,559.8 592.0,559.8 596.0,558.4 C599.9,557.1 603.4,552.7 606.9,551.1 C610.4,549.5 614.1,549.3 617.0,548.8 C619.9,548.3 620.7,548.7 624.3,548.1 C628.0,547.5 635.0,546.7 639.0,545.3 C642.9,543.9 646.4,541.1 648.1,539.7 C649.8,538.2 649.3,537.5 649.0,536.5 C648.8,535.5 648.9,534.6 646.6,533.7 C644.4,532.9 639.6,532.1 635.3,531.4 C631.0,530.8 624.9,530.4 620.7,530.1 C616.4,529.8 613.3,529.5 609.7,529.6 C606.0,529.7 602.5,530.1 598.7,530.5 C594.9,530.9 590.3,531.4 586.8,531.9 C583.3,532.4 580.5,533.1 577.7,533.7 C574.8,534.4 571.9,534.7 570.0,535.9 C568.1,537.1 566.5,538.8 566.2,541.1Z" fill="#00c8ff" stroke="none" stroke-width="1"/>
<path d="M568.2,541.1 C568.0,543.2 569.0,546.6 570.4,548.9 C571.7,551.2 574.1,553.4 576.5,555.0 C578.8,556.6 580.9,558.0 584.3,558.5 C587.6,558.9 592.7,558.9 596.5,557.6 C600.2,556.3 603.6,552.2 606.9,550.6 C610.2,549.1 613.7,549.0 616.5,548.5 C619.2,548.0 620.0,548.3 623.4,547.8 C626.9,547.2 633.6,546.4 637.4,545.1 C641.1,543.7 644.5,541.2 646.1,539.8 C647.6,538.4 647.2,537.7 646.9,536.7 C646.7,535.8 646.8,534.9 644.7,534.1 C642.5,533.3 638.0,532.5 633.9,531.9 C629.8,531.4 624.0,530.9 620.0,530.6 C615.9,530.3 613.0,530.1 609.5,530.2 C606.0,530.3 602.7,530.7 599.1,531.1 C595.4,531.4 591.1,531.9 587.8,532.4 C584.4,532.9 581.7,533.5 579.1,534.1 C576.4,534.8 573.6,535.0 571.8,536.2 C569.9,537.4 568.4,539.0 568.2,541.1Z" fill="#1a80ff" stroke="none" stroke-width="1"/>
<path d="M571.7,541.1 C571.5,543.0 572.4,546.1 573.7,548.2 C574.9,550.3 577.1,552.3 579.2,553.8 C581.3,555.2 583.3,556.5 586.3,556.9 C589.3,557.3 593.9,557.3 597.4,556.1 C600.8,554.9 603.8,551.2 606.8,549.8 C609.9,548.4 613.0,548.3 615.5,547.8 C618.0,547.4 618.7,547.7 621.8,547.2 C625.0,546.7 631.1,546.0 634.5,544.8 C637.9,543.5 640.9,541.2 642.4,539.9 C643.8,538.7 643.4,538.0 643.2,537.2 C643.0,536.3 643.1,535.5 641.1,534.8 C639.2,534.1 635.1,533.4 631.3,532.8 C627.6,532.3 622.4,531.9 618.7,531.6 C615.0,531.4 612.4,531.2 609.2,531.2 C606.0,531.3 603.0,531.7 599.7,532.0 C596.4,532.4 592.5,532.8 589.5,533.2 C586.4,533.7 584.0,534.2 581.6,534.8 C579.1,535.4 576.6,535.6 574.9,536.7 C573.3,537.8 571.9,539.2 571.7,541.1Z" fill="#1a40ff" stroke="none" stroke-width="1"/>
<path d="M584.4,541.3 C584.2,542.5 584.8,544.5 585.6,545.8 C586.4,547.1 587.8,548.4 589.1,549.3 C590.5,550.2 591.7,551.0 593.6,551.3 C595.5,551.5 598.5,551.5 600.6,550.8 C602.8,550.0 604.7,547.7 606.6,546.8 C608.5,545.9 610.5,545.8 612.1,545.5 C613.7,545.3 614.1,545.5 616.1,545.1 C618.1,544.8 622.0,544.4 624.1,543.6 C626.3,542.8 628.2,541.3 629.1,540.5 C630.0,539.7 629.8,539.3 629.6,538.8 C629.5,538.3 629.6,537.8 628.3,537.3 C627.1,536.8 624.5,536.4 622.1,536.0 C619.8,535.7 616.5,535.5 614.1,535.3 C611.8,535.1 610.1,535.0 608.1,535.0 C606.1,535.1 604.2,535.3 602.1,535.5 C600.0,535.8 597.5,536.0 595.6,536.3 C593.7,536.6 592.2,536.9 590.6,537.3 C589.1,537.7 587.5,537.8 586.4,538.5 C585.4,539.2 584.5,540.1 584.4,541.3Z" fill="#3a1cf0" stroke="none" stroke-width="1"/>
</g>
<path d="M538.3,546.5L604.6,511.4M534.3,530.0L616.8,561.0M559.0,554.3L625.2,519.1M550.9,521.2L633.4,552.2M579.6,562.0L645.9,526.9M567.4,512.4L649.9,543.4" stroke="#ffffff" stroke-opacity="0.45" stroke-width="0.6" fill="none"/>
<polygon points="513.20,434.10 553.20,440.30 556.00,447.00 559.50,457.30 561.50,470.00 564.00,482.00 566.60,494.50 569.50,506.00 572.70,517.00 577.80,529.30 580.90,537.40 585.00,538.00 589.00,535.40 594.00,528.00 599.00,522.00 604.00,519.00 609.00,518.00 613.00,521.00 618.00,527.00 623.00,532.00 627.00,534.50 631.00,533.00 636.00,529.00 641.00,522.00 645.00,512.00 648.00,500.00 652.00,485.00 657.00,470.00 662.00,455.00 667.00,438.00 669.30,435.30 671.60,431.60 587.40,421.80" fill="url(#rbi)" stroke="none" stroke-width="1"/>
<path d="M625.5,440.0v71.9M645.5,440.0v86.0M639.1,440.0v84.6M556.6,440.0v52.6M662.7,440.0v65.4M657.8,440.0v27.9M607.7,440.0v37.3M616.3,440.0v60.2M554.7,440.0v35.2M585.6,440.0v84.1M642.1,440.0v31.2M645.7,440.0v29.7M624.9,440.0v28.9M553.4,440.0v81.0M577.5,440.0v35.1M667.3,440.0v81.1M586.8,440.0v87.3M615.8,440.0v67.4M577.0,440.0v85.9M633.4,440.0v87.7M657.0,440.0v40.9M595.1,440.0v31.6M570.1,440.0v24.6M588.2,440.0v62.2M553.6,440.0v67.5M592.4,440.0v41.7M648.2,440.0v53.7M589.9,440.0v53.7M635.0,440.0v24.0M666.4,440.0v21.6M640.3,440.0v79.1M555.3,440.0v75.1M595.7,440.0v60.5M554.3,440.0v23.3M574.2,440.0v86.9M576.0,440.0v72.9M661.1,440.0v85.9M593.2,440.0v44.8M614.1,440.0v74.3M565.7,440.0v72.4" stroke="#000" stroke-opacity="0.05" stroke-width="1.2" fill="none"/>
<polygon points="513.20,434.10 587.40,421.80 671.60,431.60 597.40,443.90" fill="#ff0a00" stroke="none" stroke-width="1"/>
<polygon points="513.20,434.10 587.40,421.80 671.60,431.60 669.30,435.30 667.00,435.00 658.50,435.40 650.40,437.50 641.00,439.00 632.00,439.50 622.00,441.00 611.50,442.60 601.30,445.70 591.10,446.70 584.00,446.50 578.80,449.20 574.00,448.00 570.70,445.70 568.00,446.00 566.60,449.50 562.50,445.70 555.30,441.60 553.20,440.30" fill="#ff0600" stroke="none" stroke-width="1"/>
<path d="M555.3,441.6 L562.5,445.7 L566.6,449.5 L568.0,446.0 L570.7,445.7 L574.0,448.0 L578.8,449.2 L584.0,446.5 L591.1,446.7 L601.3,445.7 L611.5,442.6 L622.0,441.0 L632.0,439.5 L641.0,439.0 L650.4,437.5 L658.5,435.4 L667.0,435.0" fill="none" stroke="#c80000" stroke-width="0.9" stroke-opacity="0.55"/>
<polygon points="539.80,438.20 544.20,438.90 542.30,447.50" fill="#ff1000" stroke="none" stroke-width="1"/>
<path d="M513.2,434.1L587.4,421.8L671.6,431.6M513.2,434.1L517.7,538.8L600.2,569.8L666.5,534.6L671.6,431.6" stroke="#222" stroke-width="1" fill="none"/>
<text font-size="9.4" fill="#222" transform="translate(498.8 450.7) rotate(-9) scale(0.86 1)">3.8</text>
<text font-size="9.4" fill="#222" transform="translate(498.8 476.3) rotate(-9) scale(0.86 1)">2.9</text>
<text font-size="9.4" fill="#222" transform="translate(498.8 500.0) rotate(-9) scale(0.86 1)">1.9</text>
<text font-size="9.4" fill="#222" transform="translate(498.8 522.8) rotate(-9) scale(0.86 1)">1.0</text>
<text font-size="9.4" fill="#222" transform="translate(489.0 493.8) rotate(90) scale(1.085 1)" text-anchor="middle">Free energy (kcal/mol)</text>
<text font-size="7.6" fill="#222" transform="translate(514.5 546.5) rotate(28) scale(0.85 1)" text-anchor="middle">0.05</text>
<text font-size="7.6" fill="#222" transform="translate(538.0 554.0) rotate(28) scale(0.85 1)" text-anchor="middle">0.10</text>
<text font-size="7.6" fill="#222" transform="translate(557.0 562.0) rotate(28) scale(0.85 1)" text-anchor="middle">0.15</text>
<text font-size="7.6" fill="#222" transform="translate(581.0 572.0) rotate(28) scale(0.85 1)" text-anchor="middle">0.20</text>
<text font-size="7.6" fill="#222" transform="translate(628.0 566.0) rotate(28) scale(0.85 1)" text-anchor="middle">1.66</text>
<text font-size="7.6" fill="#222" transform="translate(641.5 556.5) rotate(28) scale(0.85 1)" text-anchor="middle">1.69</text>
<text font-size="7.6" fill="#222" transform="translate(656.5 548.5) rotate(28) scale(0.85 1)" text-anchor="middle">1.70</text>
<text font-size="7.6" fill="#222" transform="translate(673.0 542.0) rotate(28) scale(0.85 1)" text-anchor="middle">1.72</text>
<text font-size="8" fill="#222" transform="translate(534.0 567.5) rotate(28) scale(0.85 1)" text-anchor="middle">RMSD (nm)</text>
<text font-size="8" fill="#222" transform="translate(666.0 561.0) rotate(-62) scale(0.85 1)" text-anchor="middle">Rg (nm)</text>
<defs><linearGradient id="rbj" gradientUnits="userSpaceOnUse" x1="0" y1="656" x2="0" y2="762"><stop offset="0.000" stop-color="#ff0000"/><stop offset="0.075" stop-color="#ff1000"/><stop offset="0.132" stop-color="#ff3000"/><stop offset="0.198" stop-color="#ff6400"/><stop offset="0.255" stop-color="#ff8c00"/><stop offset="0.311" stop-color="#ffb400"/><stop offset="0.368" stop-color="#ffe000"/><stop offset="0.415" stop-color="#d0f000"/><stop offset="0.462" stop-color="#60ee00"/><stop offset="0.509" stop-color="#00e800"/><stop offset="0.566" stop-color="#00ec60"/><stop offset="0.623" stop-color="#00f0e0"/><stop offset="0.679" stop-color="#00d8ff"/><stop offset="0.745" stop-color="#00a0ff"/><stop offset="0.821" stop-color="#1060ff"/><stop offset="0.906" stop-color="#2a28ff"/><stop offset="1.000" stop-color="#6010f0"/></linearGradient><filter id="fbj" x="-10%" y="-10%" width="120%" height="120%"><feGaussianBlur stdDeviation="0.8"/></filter></defs>
<text x="489.60" y="653.20" font-size="19.8" text-anchor="start" fill="#000" font-weight="bold">j</text>
<polygon points="513.20,655.50 587.40,643.20 584.00,725.00 517.70,760.20" fill="#ffffff" stroke="none" stroke-width="1"/>
<polygon points="587.40,643.20 671.60,653.00 666.50,756.00 584.00,725.00" fill="#ffffff" stroke="none" stroke-width="1"/>
<path d="M537.9,651.4L539.8,748.5M615.5,646.5L611.5,735.3M562.7,647.3L561.9,736.7M643.5,649.7L639.0,745.7M513.8,670.1L586.9,654.6L670.9,667.4M514.9,694.4L586.1,673.6L669.7,691.3M515.9,718.1L585.4,692.1L668.6,714.6M516.9,740.8L584.6,709.8L667.4,736.9" stroke="#d6d6d6" stroke-width="0.7" fill="none"/>
<polygon points="517.70,760.20 600.20,791.20 666.50,756.00 584.00,725.00" fill="#ff0000" stroke="none" stroke-width="1"/>
<g filter="url(#fbj)">
<path d="M552.0,763.0 C552.0,765.6 552.9,767.8 555.1,770.2 C557.3,772.6 561.2,775.6 565.3,777.3 C569.4,779.0 574.6,779.7 579.6,780.4 C584.5,781.1 589.8,782.1 594.9,781.4 C600.0,780.7 605.6,777.8 610.2,776.3 C614.8,774.8 618.2,773.1 622.4,772.2 C626.7,771.4 631.8,772.2 635.7,771.2 C639.6,770.2 643.2,768.3 645.9,766.1 C648.6,763.9 651.5,760.3 652.0,757.9 C652.5,755.6 651.1,753.5 648.9,751.8 C646.7,750.1 642.6,748.6 638.7,747.7 C634.8,746.9 629.9,747.1 625.5,746.7 C621.1,746.4 616.5,745.5 612.2,745.7 C608.0,745.9 603.7,746.9 600.0,747.7 C596.2,748.6 593.5,750.1 589.8,750.8 C586.0,751.5 581.8,751.5 577.5,751.8 C573.3,752.2 568.0,752.3 564.3,752.8 C560.5,753.3 557.1,753.2 555.1,754.9 C553.1,756.6 552.0,760.5 552.0,763.0Z" fill="#ff9a00" stroke="none" stroke-width="1"/>
<path d="M553.5,763.0 C553.5,765.5 554.3,767.6 556.5,769.9 C558.6,772.2 562.4,775.2 566.4,776.8 C570.3,778.5 575.4,779.2 580.2,779.8 C585.0,780.5 590.1,781.5 595.1,780.8 C600.0,780.1 605.5,777.3 609.9,775.9 C614.4,774.4 617.7,772.7 621.8,771.9 C625.9,771.1 630.9,771.9 634.7,770.9 C638.5,769.9 641.9,768.1 644.6,766.0 C647.2,763.8 650.0,760.3 650.5,758.0 C651.0,755.7 649.7,753.7 647.5,752.1 C645.4,750.4 641.4,749.0 637.6,748.1 C633.8,747.3 629.1,747.5 624.8,747.1 C620.5,746.8 616.0,746.0 611.9,746.2 C607.8,746.3 603.6,747.3 600.0,748.1 C596.4,749.0 593.7,750.4 590.1,751.1 C586.5,751.8 582.4,751.8 578.2,752.1 C574.1,752.4 569.0,752.6 565.4,753.1 C561.7,753.6 558.4,753.4 556.5,755.1 C554.5,756.7 553.5,760.5 553.5,763.0Z" fill="#ffe600" stroke="none" stroke-width="1"/>
<path d="M554.7,762.9 C554.7,765.4 555.5,767.4 557.6,769.7 C559.7,771.9 563.4,774.8 567.2,776.5 C571.1,778.1 576.1,778.7 580.7,779.3 C585.4,780.0 590.4,781.0 595.2,780.3 C600.0,779.7 605.4,776.9 609.7,775.5 C614.0,774.0 617.3,772.4 621.3,771.6 C625.3,770.8 630.1,771.6 633.8,770.7 C637.5,769.7 640.9,767.9 643.5,765.8 C646.0,763.7 648.8,760.4 649.3,758.1 C649.7,755.9 648.5,753.9 646.4,752.3 C644.3,750.7 640.4,749.3 636.7,748.5 C633.0,747.7 628.4,747.8 624.2,747.5 C620.0,747.2 615.6,746.4 611.6,746.5 C607.6,746.7 603.6,747.7 600.0,748.5 C596.5,749.3 593.9,750.7 590.4,751.4 C586.9,752.0 582.8,752.0 578.8,752.3 C574.8,752.6 569.8,752.8 566.3,753.3 C562.7,753.8 559.5,753.6 557.6,755.2 C555.7,756.8 554.7,760.5 554.7,762.9Z" fill="#40f000" stroke="none" stroke-width="1"/>
<path d="M555.9,762.9 C555.9,765.3 556.7,767.3 558.7,769.5 C560.8,771.7 564.4,774.5 568.1,776.1 C571.9,777.6 576.7,778.3 581.3,778.9 C585.8,779.5 590.7,780.4 595.4,779.8 C600.1,779.2 605.2,776.5 609.5,775.1 C613.7,773.7 616.8,772.1 620.8,771.4 C624.7,770.6 629.4,771.4 633.0,770.4 C636.6,769.5 639.9,767.8 642.4,765.7 C644.9,763.7 647.5,760.4 648.0,758.2 C648.5,756.0 647.2,754.1 645.2,752.6 C643.2,751.0 639.4,749.6 635.8,748.8 C632.2,748.0 627.7,748.2 623.6,747.9 C619.5,747.5 615.3,746.8 611.4,746.9 C607.4,747.1 603.5,748.0 600.1,748.8 C596.6,749.6 594.1,751.0 590.7,751.6 C587.2,752.2 583.3,752.2 579.4,752.6 C575.5,752.9 570.6,753.0 567.2,753.5 C563.7,754.0 560.6,753.8 558.7,755.4 C556.8,756.9 555.9,760.6 555.9,762.9Z" fill="#00f0d0" stroke="none" stroke-width="1"/>
<path d="M557.1,762.9 C557.1,765.1 557.9,767.1 559.9,769.3 C561.8,771.4 565.3,774.1 569.0,775.7 C572.7,777.2 577.4,777.8 581.8,778.4 C586.2,779.0 591.0,779.9 595.5,779.3 C600.1,778.7 605.1,776.1 609.3,774.8 C613.4,773.4 616.4,771.9 620.2,771.1 C624.1,770.3 628.6,771.1 632.1,770.2 C635.6,769.3 638.8,767.6 641.3,765.6 C643.7,763.6 646.3,760.4 646.8,758.3 C647.2,756.2 646.0,754.3 644.0,752.8 C642.0,751.3 638.4,749.9 634.9,749.1 C631.4,748.4 627.0,748.5 623.0,748.2 C619.0,747.9 614.9,747.2 611.1,747.3 C607.3,747.5 603.5,748.4 600.1,749.1 C596.8,749.9 594.3,751.3 591.0,751.9 C587.6,752.5 583.8,752.5 580.0,752.8 C576.2,753.1 571.4,753.3 568.1,753.7 C564.7,754.2 561.7,754.0 559.9,755.5 C558.0,757.1 557.1,760.6 557.1,762.9Z" fill="#00c8ff" stroke="none" stroke-width="1"/>
<path d="M559.3,762.8 C559.3,765.0 560.0,766.8 561.9,768.9 C563.8,770.9 567.1,773.5 570.6,775.0 C574.1,776.4 578.6,777.0 582.8,777.6 C587.0,778.2 591.5,779.0 595.8,778.4 C600.2,777.9 605.0,775.4 608.9,774.1 C612.8,772.8 615.7,771.3 619.3,770.6 C622.9,769.9 627.3,770.6 630.6,769.7 C634.0,768.9 637.0,767.3 639.3,765.4 C641.6,763.5 644.1,760.5 644.5,758.4 C645.0,756.4 643.8,754.7 641.9,753.2 C640.0,751.8 636.6,750.5 633.2,749.7 C629.9,749.0 625.7,749.2 621.9,748.9 C618.2,748.6 614.2,747.9 610.6,748.0 C607.0,748.1 603.4,749.0 600.2,749.7 C597.0,750.5 594.7,751.8 591.5,752.3 C588.3,752.9 584.7,752.9 581.0,753.2 C577.4,753.5 572.9,753.7 569.7,754.1 C566.5,754.5 563.6,754.4 561.9,755.8 C560.2,757.3 559.3,760.6 559.3,762.8Z" fill="#1a80ff" stroke="none" stroke-width="1"/>
<path d="M563.1,762.7 C563.1,764.6 563.8,766.3 565.5,768.2 C567.2,770.0 570.3,772.4 573.4,773.7 C576.6,775.0 580.7,775.6 584.5,776.1 C588.3,776.6 592.4,777.4 596.3,776.9 C600.3,776.4 604.6,774.1 608.2,772.9 C611.7,771.7 614.4,770.4 617.7,769.8 C620.9,769.1 624.9,769.8 627.9,769.0 C631.0,768.2 633.7,766.7 635.8,765.0 C637.9,763.3 640.2,760.6 640.6,758.7 C641.0,756.9 639.9,755.3 638.2,754.0 C636.5,752.7 633.3,751.5 630.3,750.8 C627.3,750.1 623.4,750.3 620.0,750.0 C616.6,749.8 613.0,749.1 609.8,749.2 C606.5,749.4 603.2,750.1 600.3,750.8 C597.4,751.5 595.3,752.7 592.4,753.2 C589.5,753.7 586.2,753.7 582.9,754.0 C579.6,754.2 575.5,754.4 572.6,754.8 C569.7,755.2 567.1,755.0 565.5,756.3 C563.9,757.7 563.1,760.7 563.1,762.7Z" fill="#1a40ff" stroke="none" stroke-width="1"/>
<path d="M577.2,762.2 C577.2,763.4 577.6,764.5 578.7,765.7 C579.7,766.9 581.7,768.4 583.7,769.2 C585.7,770.0 588.2,770.4 590.7,770.7 C593.1,771.0 595.7,771.5 598.2,771.2 C600.7,770.9 603.4,769.4 605.7,768.7 C607.9,767.9 609.6,767.1 611.7,766.7 C613.7,766.3 616.2,766.7 618.2,766.2 C620.1,765.7 621.8,764.8 623.2,763.7 C624.5,762.6 625.9,760.9 626.2,759.7 C626.4,758.5 625.7,757.5 624.7,756.7 C623.6,755.9 621.6,755.1 619.7,754.7 C617.7,754.3 615.3,754.4 613.2,754.2 C611.0,754.0 608.7,753.6 606.7,753.7 C604.6,753.8 602.5,754.3 600.7,754.7 C598.8,755.1 597.5,755.9 595.7,756.2 C593.8,756.5 591.7,756.5 589.7,756.7 C587.6,756.9 585.0,756.9 583.2,757.2 C581.3,757.4 579.7,757.4 578.7,758.2 C577.7,759.0 577.2,760.9 577.2,762.2Z" fill="#3a1cf0" stroke="none" stroke-width="1"/>
</g>
<path d="M538.3,767.9L604.6,732.8M534.3,751.4L616.8,782.4M559.0,775.7L625.2,740.5M550.9,742.6L633.4,773.6M579.6,783.4L645.9,748.2M567.4,733.8L649.9,764.8" stroke="#ffffff" stroke-opacity="0.45" stroke-width="0.6" fill="none"/>
<polygon points="513.20,655.50 547.30,660.00 550.00,684.00 555.40,705.60 560.80,724.50 566.20,743.40 571.60,756.90 578.30,762.30 589.10,754.20 597.20,748.80 605.30,752.90 613.40,746.10 626.90,742.10 635.00,736.70 640.40,721.80 647.20,702.90 652.60,684.00 656.60,670.50 660.70,657.00 669.50,653.50 671.60,653.00 587.40,643.20" fill="url(#rbj)" stroke="none" stroke-width="1"/>
<path d="M606.5,661.4v80.0M614.5,661.4v61.6M553.4,661.4v45.7M662.5,661.4v46.9M665.1,661.4v77.5M662.1,661.4v58.9M589.7,661.4v26.2M590.5,661.4v56.8M568.4,661.4v58.0M587.4,661.4v58.9M599.4,661.4v29.9M596.7,661.4v72.5M550.9,661.4v48.5M616.0,661.4v20.9M594.1,661.4v46.4M640.0,661.4v57.6M664.2,661.4v76.3M651.4,661.4v73.3M610.3,661.4v28.4M603.0,661.4v34.1M558.3,661.4v74.4M645.4,661.4v84.4M582.9,661.4v31.2M568.6,661.4v79.3M606.1,661.4v48.4M550.8,661.4v43.3M566.4,661.4v55.1M617.4,661.4v33.5M652.7,661.4v68.2M557.1,661.4v67.2M599.3,661.4v57.6M658.8,661.4v89.8M652.8,661.4v85.6M664.4,661.4v47.1M610.5,661.4v65.9M572.3,661.4v23.9M590.5,661.4v25.8M659.4,661.4v65.5M567.3,661.4v33.0M605.9,661.4v57.7" stroke="#000" stroke-opacity="0.05" stroke-width="1.2" fill="none"/>
<polygon points="513.20,655.50 587.40,643.20 671.60,653.00 597.40,665.30" fill="#ff0a00" stroke="none" stroke-width="1"/>
<polygon points="513.20,655.50 587.40,643.20 671.60,653.00 669.50,653.50 668.00,654.00 658.50,655.40 650.40,657.50 636.10,661.50 625.80,662.60 611.50,664.60 601.30,667.70 594.00,666.00 587.00,666.70 576.80,664.60 568.00,664.00 560.40,662.60 547.50,661.50 547.30,660.00" fill="#ff0600" stroke="none" stroke-width="1"/>
<path d="M547.5,661.5 L560.4,662.6 L568.0,664.0 L576.8,664.6 L587.0,666.7 L594.0,666.0 L601.3,667.7 L611.5,664.6 L625.8,662.6 L636.1,661.5 L650.4,657.5 L658.5,655.4 L668.0,654.0" fill="none" stroke="#c80000" stroke-width="0.9" stroke-opacity="0.55"/>
<polygon points="632.50,650.50 641.50,652.50 637.00,659.00" fill="#ffffff" stroke="none" stroke-width="1"/>
<path d="M513.2,655.5L587.4,643.2L671.6,653.0M513.2,655.5L517.7,760.1999999999999L600.2,791.1999999999999L666.5,756.0L671.6,653.0" stroke="#222" stroke-width="1" fill="none"/>
<text font-size="9.4" fill="#222" transform="translate(498.8 672.1) rotate(-9) scale(0.86 1)">3.8</text>
<text font-size="9.4" fill="#222" transform="translate(498.8 697.7) rotate(-9) scale(0.86 1)">2.9</text>
<text font-size="9.4" fill="#222" transform="translate(498.8 721.4) rotate(-9) scale(0.86 1)">1.9</text>
<text font-size="9.4" fill="#222" transform="translate(498.8 744.2) rotate(-9) scale(0.86 1)">1.0</text>
<text font-size="9.4" fill="#222" transform="translate(489.0 715.2) rotate(90) scale(1.085 1)" text-anchor="middle">Free energy (kcal/mol)</text>
<text font-size="6.4" fill="#222" transform="translate(510.2 769.4) rotate(28) scale(0.85 1)" text-anchor="middle">0.05</text>
<text font-size="6.4" fill="#222" transform="translate(522.6 773.8) rotate(28) scale(0.85 1)" text-anchor="middle">0.10</text>
<text font-size="6.4" fill="#222" transform="translate(535.7 778.9) rotate(28) scale(0.85 1)" text-anchor="middle">0.15</text>
<text font-size="6.4" fill="#222" transform="translate(549.6 783.3) rotate(28) scale(0.85 1)" text-anchor="middle">0.20</text>
<text font-size="6.4" fill="#222" transform="translate(563.4 789.1) rotate(28) scale(0.85 1)" text-anchor="middle">0.25</text>
<text font-size="6.4" fill="#222" transform="translate(578.0 795.0) rotate(28) scale(0.85 1)" text-anchor="middle">0.30</text>
<text font-size="7.6" fill="#222" transform="translate(611.0 796.4) rotate(28) scale(0.85 1)" text-anchor="middle">1.66</text>
<text font-size="7.6" fill="#222" transform="translate(632.0 784.9) rotate(28) scale(0.85 1)" text-anchor="middle">1.68</text>
<text font-size="7.6" fill="#222" transform="translate(650.0 774.4) rotate(28) scale(0.85 1)" text-anchor="middle">1.70</text>
<text font-size="7.6" fill="#222" transform="translate(670.0 763.4) rotate(28) scale(0.85 1)" text-anchor="middle">1.72</text>
<text font-size="8" fill="#222" transform="translate(531.5 787.4) rotate(28) scale(0.85 1)" text-anchor="middle">RMSD (nm)</text>
<text font-size="8" fill="#222" transform="translate(666.0 782.4) rotate(-62) scale(0.85 1)" text-anchor="middle">Rg (nm)</text>
</svg></body></html>
